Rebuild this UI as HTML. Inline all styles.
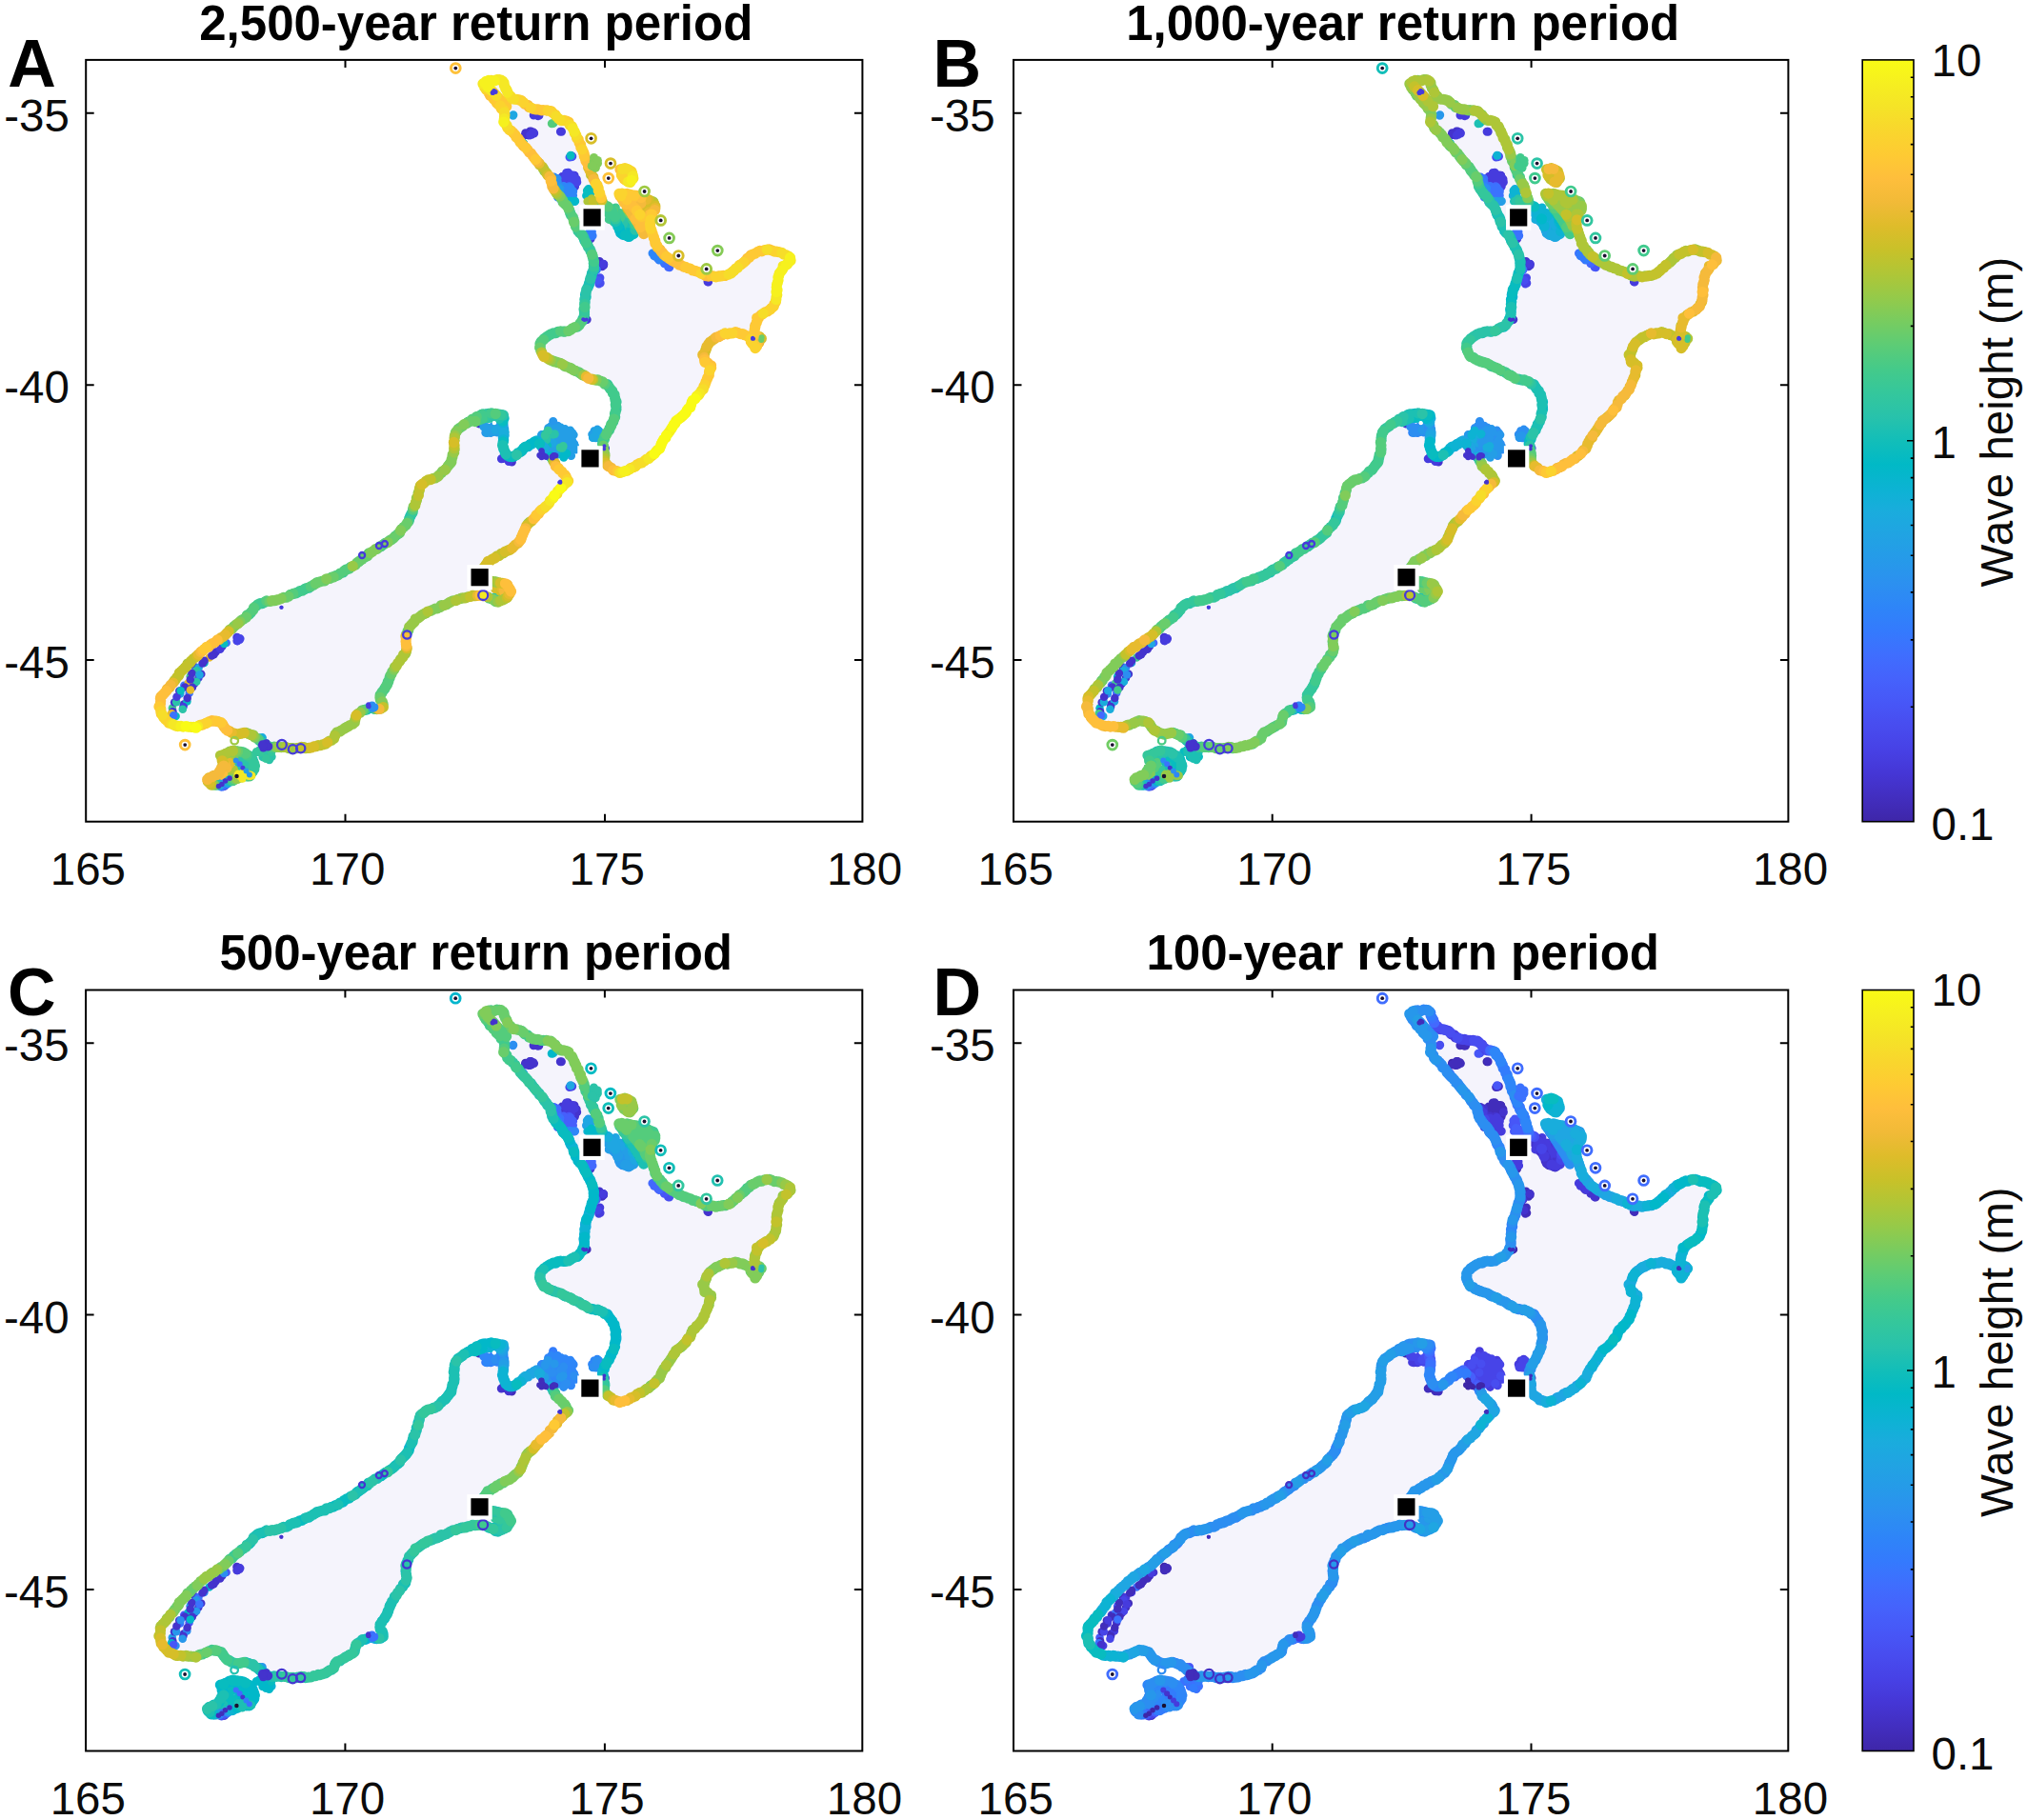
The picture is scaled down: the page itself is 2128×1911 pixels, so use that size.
<!DOCTYPE html>
<html lang="en"><head><meta charset="utf-8"><title>Tsunami wave height by return period - New Zealand</title>
<style>html,body{margin:0;padding:0;background:#fff}svg{display:block}.t{font-family:"Liberation Sans",Arial,Helvetica,sans-serif;font-size:47.5px;fill:#0b0b0b}.L{font-family:"Liberation Sans",Arial,Helvetica,sans-serif;font-size:70px;font-weight:bold;fill:#000}.T{font-family:"Liberation Sans",Arial,Helvetica,sans-serif;font-size:51px;font-weight:bold;fill:#000}</style></head><body>
<svg width="2128" height="1911" viewBox="0 0 2128 1911">
<rect width="2128" height="1911" fill="#fff"/>
<g id="panelA">
<path d="M506.8 88.5L511.0 85.3L517.2 84.5L527.5 83.7L531.2 93.4L536.4 103.0L546.8 105.3L557.2 113.4L569.1 115.6L579.5 117.1L586.9 125.3L597.3 128.2L601.7 135.7L606.2 144.6L610.6 155.0L613.6 163.9L616.6 172.8L621.0 183.1L625.5 192.0L629.2 200.9L631.4 208.4L633.0 214.0L640.0 218.0L645.0 226.0L648.0 236.0L652.0 245.0L660.0 249.0L666.0 244.0L667.0 236.0L663.0 226.0L658.0 216.0L653.0 208.0L650.5 203.0L660.0 204.0L672.0 207.0L685.0 211.0L689.0 217.0L685.0 224.0L682.4 234.9L685.3 246.8L689.8 258.6L697.2 267.5L707.6 275.0L719.5 280.9L731.3 285.3L743.2 289.8L755.1 290.5L765.5 288.3L772.9 282.4L780.3 275.0L787.7 269.0L796.6 263.8L807.0 262.3L817.4 264.6L827.8 269.0L830.6 273.2L826.5 277.0L822.7 279.7L819.5 285.0L817.7 289.6L815.7 299.5L815.2 309.3L814.7 317.3L809.8 324.2L801.9 329.1L795.0 334.1L792.5 344.0L792.0 350.9L799.6 355.1L792.8 365.5L786.0 353.0L772.9 349.1L761.0 350.6L750.6 355.1L742.5 362.5L738.3 372.9L739.5 379.5L747.1 384.3L743.6 395.0L740.0 404.3L735.0 412.9L727.9 420.0L723.6 428.6L717.1 436.4L708.6 443.6L703.6 452.1L697.1 461.4L692.9 470.0L685.7 477.1L677.1 483.6L668.6 488.6L660.0 492.9L652.1 496.4L645.7 494.5L640.5 491.0L635.5 486.0L634.3 474.0L632.8 462.8L637.3 455.4L641.7 446.5L645.4 437.6L646.9 428.7L646.2 419.8L643.2 410.9L637.3 403.5L628.4 399.5L619.5 397.5L610.6 393.1L600.2 387.2L589.8 382.7L579.4 378.2L570.5 373.8L566.1 366.4L567.5 359.0L575.0 352.3L585.3 348.6L597.2 347.1L607.0 342.6L612.5 334.5L613.5 326.3L614.0 316.0L616.0 304.6L620.1 292.8L624.0 281.5L622.5 269.5L617.0 258.0L611.5 247.5L605.0 238.0L601.0 227.7L595.8 217.3L588.4 206.9L580.5 197.5L578.0 187.5L570.6 177.2L561.7 166.8L552.8 156.4L543.9 146.1L535.0 135.7L528.5 128.0L530.5 118.5L523.1 109.0L514.2 98.6ZM529.0 436.2L527.5 446.0L529.0 456.9L527.5 467.3L531.9 478.5L539.3 480.0L546.8 473.2L555.7 467.3L563.1 462.8L570.0 470.0L578.0 478.0L582.9 487.9L588.6 494.3L594.3 500.7L597.1 504.8L590.0 511.4L583.6 518.6L577.9 526.4L572.1 532.9L565.7 538.6L560.7 544.3L554.3 549.3L551.4 555.7L548.6 562.1L545.0 568.6L540.0 574.3L532.9 578.6L525.7 582.1L518.6 585.7L512.1 590.0L508.6 594.3L508.0 600.0L512.0 610.0L521.1 611.4L531.5 612.9L536.5 620.3L532.0 628.0L522.6 632.2L514.5 628.0L507.7 625.0L497.3 625.5L486.9 627.7L476.6 630.7L466.2 635.1L455.8 639.6L445.4 644.0L436.5 650.0L430.6 657.4L427.0 665.5L426.0 672.5L427.1 683.6L421.4 692.1L414.3 700.7L409.3 710.0L407.1 718.6L402.1 725.7L398.6 732.1L401.4 738.6L402.5 742.5L397.0 745.2L389.3 743.5L381.4 745.7L374.3 750.7L372.9 757.1L367.1 762.1L360.0 765.7L352.9 770.0L350.0 775.7L344.3 780.0L337.1 782.1L330.0 783.6L322.9 785.7L316.6 784.9L306.2 786.0L294.3 783.9L282.4 784.4L273.5 778.4L266.1 772.5L257.2 769.5L246.8 771.0L237.9 766.6L232.0 759.1L223.1 756.2L214.2 760.6L205.3 763.6L194.9 762.8L184.5 762.1L175.6 757.7L169.7 750.2L167.4 741.3L168.9 732.4L174.1 725.0L181.5 717.6L187.5 708.7L194.9 699.8L203.8 690.9L214.2 682.0L224.6 674.6L235.0 667.2L243.9 659.7L252.8 652.3L261.7 644.9L269.1 636.0L278.0 631.5L288.4 630.8L300.2 627.1L310.6 622.6L321.0 618.2L332.9 612.3L344.7 607.8L355.1 603.4L365.5 597.4L375.9 590.5L384.6 583.5L394.9 576.5L403.9 571.3L412.8 565.4L420.2 558.0L427.6 549.1L432.0 540.2L435.0 531.3L438.7 520.9L440.9 510.5L446.9 505.3L457.3 501.6L466.2 494.2L473.6 485.3L476.6 474.9L476.6 464.5L478.0 454.1L485.5 446.7L495.8 440.8L506.2 434.8L516.6 434.1ZM243.9 788.8L232.0 793.3L235.0 803.6L229.0 812.5L217.2 818.5L223.1 824.4L235.0 824.4L241.0 820.0L248.3 817.5L255.0 815.0L261.7 815.5L267.6 806.6L266.1 797.7L258.7 791.8L251.0 789.0Z" fill="#f5f4fc"/>
<g fill="none" stroke-linecap="round" stroke-width="9"><path d="M554.5 139.9h.01M551.4 141.4h.01M551.7 139.7h.01M553.2 140.7h.01M554.7 141.9h.01M555.4 141.1h.01M557.5 138.1h.01M560.1 139.1h.01M558.6 138.6h.01M556.2 138.1h.01M603.4 194.9h.01M603.0 191.0h.01M620.0 250.9h.01M633.7 278.5h.01M633.8 277.4h.01M629.4 274.5h.01M632.5 278.1h.01M632.1 279.8h.01M616.2 335.6h.01M743.0 295.7h.01M634.1 469.9h.01M502.9 444.9h.01M502.3 444.1h.01M536.0 483.9h.01M537.4 485.0h.01" stroke="#4433cd"/><path d="M515.7 96.3h.01M565.0 121.8h.01M565.9 121.4h.01M560.2 121.1h.01M556.6 141.9h.01M560.7 140.0h.01M558.8 139.8h.01M558.2 141.3h.01M588.4 138.2h.01M589.5 138.2h.01M598.3 190.5h.01M603.1 184.6h.01M594.7 189.1h.01M604.6 189.7h.01M590.1 185.6h.01M600.1 186.4h.01M601.1 188.4h.01M599.2 191.8h.01M594.4 186.9h.01M593.0 192.6h.01M603.1 184.2h.01M593.5 184.9h.01M602.6 190.7h.01M604.5 187.7h.01M603.5 196.1h.01M602.8 189.2h.01M605.3 188.1h.01M619.1 250.9h.01M619.2 249.9h.01M622.8 198.9h.01M620.9 200.4h.01M633.5 277.2h.01M613.6 334.6h.01M614.8 335.9h.01M743.6 296.1h.01M674.9 236.1h.01M635.5 470.8h.01M526.4 481.8h.01M528.7 481.4h.01M528.7 479.5h.01M534.1 484.5h.01M250.0 670.2h.01M251.0 671.4h.01M248.9 672.8h.01M248.8 669.3h.01" stroke="#463bdd"/><path d="M515.8 96.8h.01M596.5 181.2h.01M599.6 194.4h.01M596.7 194.3h.01M593.4 185.8h.01M600.5 189.4h.01M603.4 187.3h.01M594.8 183.0h.01M604.6 188.7h.01M594.6 181.5h.01M590.2 188.7h.01M593.6 194.4h.01M596.4 181.4h.01M596.5 182.1h.01M601.0 184.0h.01M605.8 191.3h.01M666.1 222.5h.01M668.1 220.6h.01M251.6 671.5h.01M249.4 672.9h.01M252.1 670.6h.01M250.4 670.2h.01" stroke="#4744e8"/><path d="M600.8 164.2h.01M629.6 296.1h.01M630.2 297.3h.01M629.9 291.7h.01M628.8 298.0h.01M626.2 293.1h.01M674.4 236.5h.01" stroke="#484df0"/><path d="M599.6 164.8h.01M600.0 163.7h.01M598.0 165.1h.01M599.2 164.2h.01M627.6 294.4h.01" stroke="#4756f7"/><path d="M599.1 163.9h.01" stroke="#465ffb"/><path d="M702.8 280.8h.01M701.7 280.5h.01" stroke="#4369fe"/><path d="M616.7 246.2h.01M619.6 245.6h.01M624.6 284.6h.01M697.7 276.4h.01M697.5 276.8h.01M697.4 276.4h.01M253.4 805.0h.01M251.8 803.9h.01M252.7 804.2h.01" stroke="#3b72fe"/><path d="M593.3 197.2h.01M589.2 204.5h.01M586.8 198.3h.01M594.0 205.0h.01M600.7 199.9h.01M598.5 200.2h.01M595.4 209.6h.01M590.3 211.6h.01M592.1 197.4h.01M595.4 205.5h.01M589.4 199.6h.01M597.5 195.8h.01M592.2 200.3h.01M587.5 198.8h.01M600.4 201.9h.01M591.4 200.7h.01M588.7 198.1h.01M585.3 202.2h.01M619.1 248.0h.01M621.4 243.4h.01M621.1 245.5h.01M618.4 244.4h.01M617.1 247.9h.01M622.1 247.5h.01M626.4 283.2h.01M625.5 283.8h.01M691.9 273.0h.01M690.9 271.9h.01M250.1 806.1h.01" stroke="#327cfc"/><path d="M585.5 207.0h.01M601.6 205.3h.01M595.2 207.5h.01M590.2 210.5h.01M596.1 209.6h.01M589.1 201.5h.01M598.8 196.9h.01M591.6 195.5h.01M589.0 205.4h.01M600.7 203.3h.01M595.4 202.7h.01M597.7 204.4h.01M592.5 204.4h.01M600.9 204.4h.01M593.1 200.3h.01M591.7 197.9h.01M596.5 202.5h.01M601.7 200.9h.01M587.3 197.9h.01M588.6 208.7h.01M589.9 211.8h.01M583.4 187.5h.01M582.7 187.2h.01M581.1 187.2h.01M686.7 266.4h.01M685.0 266.0h.01M686.8 268.9h.01M692.8 272.5h.01M692.5 272.1h.01" stroke="#2e86f8"/><path d="M596.2 212.3h.01M585.1 187.6h.01M582.3 189.4h.01M584.6 191.2h.01M580.7 187.4h.01M585.3 191.0h.01M581.6 186.0h.01M581.6 448.0h.01" stroke="#2c8ef1"/><path d="M587.7 201.0h.01M586.4 196.6h.01M588.0 197.6h.01M581.5 188.0h.01M516.3 453.7h.01M517.2 447.9h.01M518.0 449.7h.01M515.2 454.6h.01M509.8 454.2h.01M517.4 453.6h.01M509.7 449.0h.01M517.6 453.2h.01M576.1 450.1h.01M598.6 454.2h.01M602.7 465.9h.01M576.5 464.2h.01M590.9 454.9h.01M583.4 457.3h.01M578.9 448.4h.01M586.4 471.7h.01M569.0 466.3h.01M570.7 458.6h.01M567.5 462.5h.01M592.6 461.0h.01M586.4 456.6h.01M569.5 468.1h.01M581.4 463.0h.01M569.1 456.4h.01M596.3 466.8h.01M576.9 468.4h.01M586.2 471.0h.01M582.3 459.9h.01M594.8 455.9h.01M587.9 473.7h.01M582.9 454.9h.01M600.5 470.5h.01M580.3 472.6h.01M582.1 472.1h.01M595.3 461.7h.01M588.3 476.0h.01M580.8 444.9h.01M578.6 447.4h.01M580.0 449.1h.01M584.4 449.5h.01M582.1 447.5h.01M584.7 449.1h.01M580.7 442.5h.01M579.2 447.9h.01M585.5 447.2h.01M596.7 467.5h.01M604.4 472.0h.01" stroke="#2797eb"/><path d="M583.5 197.4h.01M586.3 197.6h.01M586.7 200.8h.01M583.5 198.5h.01M586.8 198.4h.01M624.1 454.3h.01M622.7 459.6h.01M630.7 455.0h.01M627.3 454.9h.01M627.7 457.9h.01M628.1 459.9h.01M621.7 456.1h.01M627.1 451.1h.01M624.0 452.5h.01M629.9 456.9h.01M516.7 453.3h.01M510.8 448.4h.01M507.8 448.1h.01M517.9 453.5h.01M518.9 447.3h.01M511.4 454.6h.01M529.8 450.5h.01M523.5 448.2h.01M522.2 454.1h.01M523.1 449.9h.01M522.4 449.6h.01M524.4 450.1h.01M528.7 449.8h.01M521.9 451.7h.01M525.2 445.8h.01M575.8 461.7h.01M580.9 472.4h.01M600.9 454.7h.01M587.9 476.6h.01M568.5 456.8h.01M594.9 471.2h.01M585.4 462.9h.01M582.8 466.6h.01M581.5 461.2h.01M602.2 456.6h.01M591.7 458.7h.01M598.8 452.1h.01M589.5 475.1h.01M590.9 464.6h.01M583.4 454.2h.01M586.8 471.7h.01M582.9 456.1h.01M576.4 450.8h.01M574.2 472.3h.01M598.9 457.2h.01M600.9 471.5h.01M572.1 467.3h.01M576.8 458.0h.01M584.9 477.3h.01M585.3 455.1h.01M582.4 474.6h.01M588.5 462.8h.01M576.9 463.0h.01M587.8 451.7h.01M588.8 449.1h.01M587.6 475.0h.01M588.2 468.6h.01M573.4 467.2h.01M583.6 477.3h.01M572.3 458.1h.01M587.4 455.5h.01M595.3 465.4h.01M575.0 455.0h.01M599.6 470.6h.01M589.5 470.1h.01M593.2 450.6h.01M588.8 462.4h.01M568.5 463.9h.01M569.2 466.8h.01M594.0 464.9h.01M586.4 449.3h.01M567.2 466.7h.01M577.8 470.0h.01M596.7 465.5h.01M594.6 453.7h.01M572.7 472.6h.01M587.4 472.2h.01M589.4 469.2h.01M600.6 462.4h.01M590.6 457.5h.01M580.9 454.0h.01M584.6 465.2h.01M570.7 472.6h.01M595.5 459.3h.01M586.6 449.5h.01M579.8 471.9h.01M580.6 462.5h.01M577.7 467.8h.01M582.2 461.4h.01M582.4 455.1h.01M582.6 450.1h.01M582.0 476.3h.01M575.2 468.6h.01M585.8 466.2h.01M569.4 457.2h.01M575.7 449.5h.01M596.5 469.2h.01M598.6 475.6h.01M603.5 468.2h.01M599.6 478.5h.01M595.6 466.8h.01M597.0 476.6h.01M596.7 474.7h.01M602.7 468.6h.01M601.0 471.2h.01M598.7 476.5h.01M602.3 471.6h.01M598.8 468.5h.01" stroke="#249ee6"/><path d="M538.6 121.2h.01M538.9 120.8h.01M627.3 453.9h.01M625.5 459.8h.01M626.1 453.1h.01M628.9 452.6h.01M627.7 458.3h.01M625.2 457.4h.01M625.9 456.9h.01M622.4 459.4h.01M526.0 448.7h.01M523.7 450.5h.01M525.2 450.3h.01M526.9 453.9h.01M520.0 451.5h.01M580.3 465.0h.01" stroke="#1fa6e2"/><path d="M275.4 774.6h.01M273.8 775.2h.01M273.0 774.7h.01M274.3 776.4h.01" stroke="#19addc"/><path d="M602.8 211.6h.01M599.6 211.3h.01M593.4 476.3h.01M591.0 477.2h.01" stroke="#0db3d3"/><path d="M599.5 211.7h.01M597.4 211.2h.01M603.7 211.2h.01M617.8 198.5h.01M619.6 201.4h.01M615.6 205.4h.01M619.6 203.2h.01M651.1 240.4h.01M655.3 241.3h.01M594.9 476.2h.01M591.8 480.3h.01M592.9 475.7h.01" stroke="#01b8c9"/><path d="M549.7 150.7h.01M547.8 149.5h.01M599.1 163.2h.01M616.4 200.2h.01M619.6 199.9h.01M618.7 207.9h.01M619.0 201.8h.01M617.9 204.6h.01M619.1 200.2h.01M650.0 234.1h.01M656.1 234.1h.01M658.2 238.5h.01M653.9 236.0h.01M649.2 235.8h.01M651.6 242.5h.01M655.7 229.8h.01M658.8 239.4h.01M656.5 233.9h.01M651.9 240.1h.01M650.9 230.6h.01M653.0 243.9h.01M662.9 242.8h.01M650.2 235.5h.01M654.1 233.5h.01M657.7 245.1h.01M660.3 240.4h.01M651.2 244.0h.01M654.3 231.4h.01M663.6 233.7h.01M657.6 233.3h.01M656.1 243.4h.01M652.4 242.1h.01M658.3 244.4h.01M657.9 231.7h.01M659.5 245.0h.01M649.5 236.1h.01M663.1 236.5h.01M574.7 468.0h.01M572.4 463.3h.01M573.9 469.2h.01M571.9 468.8h.01M261.9 807.4h.01M239.1 814.1h.01M241.9 817.8h.01" stroke="#08bcbf"/><path d="M549.4 150.3h.01M663.3 233.7h.01M653.7 237.4h.01M653.7 243.2h.01M659.5 234.8h.01M655.8 232.8h.01M654.9 227.7h.01M654.3 224.3h.01M656.4 228.5h.01M649.0 232.0h.01M572.5 455.6h.01M283.3 794.3h.01M257.8 797.8h.01M259.5 804.6h.01M255.7 805.3h.01M257.4 800.2h.01M256.0 799.8h.01M256.6 800.5h.01M260.5 798.6h.01M251.1 799.2h.01M249.8 795.0h.01M241.9 816.9h.01M240.6 819.9h.01" stroke="#1cc0b3"/><path d="M645.1 228.2h.01M652.7 231.0h.01M654.7 234.8h.01M652.1 236.0h.01M644.9 229.2h.01M656.6 228.9h.01M645.9 230.2h.01M653.6 224.9h.01M652.5 225.7h.01M648.7 231.3h.01M652.3 234.4h.01M572.2 457.2h.01M580.4 456.3h.01M573.8 461.6h.01M582.3 455.8h.01M590.2 470.5h.01M522.5 627.3h.01M521.4 629.1h.01M521.8 627.4h.01M520.0 626.5h.01M522.9 624.8h.01M279.0 795.2h.01M283.6 791.6h.01M282.7 797.7h.01M277.2 793.6h.01M285.2 794.6h.01M278.4 790.0h.01M275.9 794.9h.01M283.4 793.6h.01M282.2 794.2h.01M272.7 787.5h.01M256.1 806.7h.01M253.3 801.4h.01M256.1 808.5h.01M258.6 807.4h.01M260.7 801.7h.01M259.2 806.8h.01M254.2 802.8h.01M256.8 798.6h.01M249.0 797.2h.01M248.2 797.8h.01M249.5 799.9h.01M248.1 797.9h.01M249.9 797.2h.01M252.1 803.6h.01M255.6 812.8h.01M254.9 810.1h.01M256.6 813.1h.01M254.9 813.7h.01M254.6 808.4h.01M258.7 811.3h.01" stroke="#2bc3a8"/><path d="M645.0 233.6h.01M642.2 224.4h.01M652.8 224.9h.01M575.3 452.3h.01M572.5 457.3h.01M588.2 470.0h.01M589.0 469.9h.01M591.2 468.5h.01M284.9 789.6h.01M279.4 796.6h.01M273.4 790.1h.01M269.3 789.5h.01M273.2 787.7h.01" stroke="#34c79b"/><path d="M581.0 129.4h.01M639.9 219.9h.01M644.8 230.7h.01M643.2 227.0h.01M650.9 223.6h.01M651.4 224.8h.01M639.3 220.5h.01M652.4 227.4h.01M647.7 230.5h.01M643.5 223.6h.01M638.9 223.8h.01M642.2 228.6h.01M643.6 232.5h.01M644.7 226.0h.01M648.8 231.5h.01M639.2 230.4h.01M652.8 224.4h.01M651.8 228.8h.01M648.9 224.3h.01M637.3 223.7h.01M652.2 223.9h.01M642.8 223.1h.01M645.5 227.0h.01M641.1 226.3h.01M640.5 222.1h.01M646.4 218.0h.01M642.4 228.6h.01" stroke="#41ca8c"/><path d="M579.3 129.8h.01M644.6 220.6h.01" stroke="#54cc7c"/><path d="M625.3 211.3h.01M624.9 211.1h.01M243.0 799.6h.01M244.5 794.7h.01M243.8 793.3h.01M238.5 794.8h.01M243.6 794.5h.01M245.9 796.5h.01M246.0 793.3h.01M239.5 798.4h.01M244.5 811.3h.01M241.2 810.5h.01M241.4 810.5h.01M245.9 809.3h.01" stroke="#98c947"/><path d="M616.9 211.4h.01M623.7 212.2h.01M624.1 211.9h.01M620.6 211.0h.01M629.3 212.6h.01M620.8 213.3h.01M618.4 211.3h.01M621.1 208.9h.01M625.0 213.3h.01M624.0 212.6h.01M621.2 208.8h.01M619.9 210.1h.01M242.3 799.2h.01M243.2 799.6h.01M242.1 808.0h.01M245.3 807.7h.01" stroke="#aec637"/><path d="M624.3 212.7h.01M622.1 211.5h.01M524.7 621.3h.01" stroke="#c3c22b"/><path d="M522.1 618.7h.01M519.7 618.5h.01M524.4 619.8h.01M521.3 618.6h.01" stroke="#d6be28"/><path d="M526.6 618.8h.01M240.4 800.0h.01M236.8 805.4h.01M235.3 800.5h.01M238.6 804.6h.01M238.9 804.2h.01M240.9 801.6h.01M241.3 802.9h.01M225.9 814.7h.01M224.1 817.8h.01M222.4 818.1h.01M224.8 817.6h.01M223.9 817.8h.01M227.6 814.5h.01M229.1 818.7h.01" stroke="#e7bb2e"/><path d="M528.6 621.8h.01M530.9 619.8h.01M528.2 617.9h.01M529.4 620.9h.01M235.2 799.8h.01M238.9 806.8h.01M237.6 803.3h.01M232.8 808.6h.01M229.8 812.7h.01M229.1 810.8h.01M231.1 813.8h.01M232.2 814.6h.01M235.3 810.0h.01M225.1 815.7h.01" stroke="#f5ba3b"/><path d="M234.9 813.5h.01M232.2 814.6h.01" stroke="#febf3b"/></g>
<g fill="none" stroke-linecap="round" stroke-width="8.5"><path d="M199.7 710.2h.01" stroke="#41ca8c"/><path d="M204.0 717.9h.01" stroke="#4433cd"/><path d="M205.1 700.6h.01" stroke="#463bdd"/><path d="M201.1 721.3h.01" stroke="#4433cd"/><path d="M211.3 707.7h.01" stroke="#4433cd"/><path d="M237.7 675.0h.01" stroke="#3b72fe"/><path d="M192.9 739.4h.01" stroke="#4433cd"/><path d="M180.9 743.5h.01" stroke="#41ca8c"/><path d="M226.7 684.4h.01" stroke="#4433cd"/><path d="M193.3 719.7h.01" stroke="#3b72fe"/><path d="M214.5 696.0h.01" stroke="#08bcbf"/><path d="M198.7 727.7h.01" stroke="#3b72fe"/><path d="M181.5 747.3h.01" stroke="#4433cd"/><path d="M208.6 701.0h.01" stroke="#1fa6e2"/><path d="M196.4 736.5h.01" stroke="#08bcbf"/><path d="M233.3 678.8h.01" stroke="#4433cd"/><path d="M180.0 749.3h.01" stroke="#e7bb2e"/><path d="M208.4 711.8h.01" stroke="#463bdd"/><path d="M184.6 752.1h.01" stroke="#08bcbf"/><path d="M183.1 737.4h.01" stroke="#4433cd"/><path d="M182.2 751.2h.01" stroke="#3b72fe"/><path d="M206.3 715.8h.01" stroke="#2bc3a8"/><path d="M192.5 741.9h.01" stroke="#463bdd"/><path d="M231.2 681.7h.01" stroke="#463bdd"/><path d="M189.2 728.5h.01" stroke="#1fa6e2"/><path d="M191.8 744.8h.01" stroke="#2bc3a8"/><path d="M206.0 704.3h.01" stroke="#2bc3a8"/><path d="M188.3 725.4h.01" stroke="#4433cd"/><path d="M224.6 687.3h.01" stroke="#4433cd"/><path d="M212.6 696.6h.01" stroke="#4433cd"/><path d="M219.7 690.5h.01" stroke="#e7bb2e"/><path d="M197.7 717.3h.01" stroke="#e7bb2e"/><path d="M201.4 707.1h.01" stroke="#4433cd"/><path d="M209.5 708.6h.01" stroke="#1fa6e2"/><path d="M196.7 733.1h.01" stroke="#4433cd"/><path d="M214.5 693.7h.01" stroke="#4433cd"/><path d="M201.9 721.8h.01" stroke="#4433cd"/><path d="M235.3 676.0h.01" stroke="#08bcbf"/><path d="M222.3 688.6h.01" stroke="#4433cd"/><path d="M185.2 737.3h.01" stroke="#2bc3a8"/><path d="M194.1 721.5h.01" stroke="#4433cd"/><path d="M199.8 713.4h.01" stroke="#4433cd"/><path d="M199.9 724.5h.01" stroke="#e7bb2e"/><path d="M185.5 731.7h.01" stroke="#463bdd"/><path d="M189.7 725.3h.01" stroke="#08bcbf"/></g>
<g fill="none" stroke-linecap="round" stroke-width="11.3"><path d="M234.8 824.6h.01" stroke="#463bdd"/><path d="M232.7 825.0h.01M236.7 823.0h.01" stroke="#3b72fe"/><path d="M528.0 446.8h.01M528.3 452.0h.01M572.6 472.5h.01M573.5 473.6h.01M576.2 476.4h.01" stroke="#249ee6"/><path d="M527.7 448.6h.01M568.3 468.3h.01M577.9 478.1h.01M230.1 824.0h.01M239.4 821.3h.01" stroke="#1fa6e2"/><path d="M529.1 453.9h.01M529.1 457.0h.01M528.4 459.7h.01M564.9 464.4h.01M570.8 469.9h.01M390.5 743.4h.01M388.3 743.4h.01" stroke="#19addc"/><path d="M654.0 246.3h.01M658.8 247.8h.01M527.9 443.6h.01M528.6 461.9h.01M554.3 468.7h.01M563.4 462.8h.01" stroke="#0db3d3"/><path d="M650.1 239.6h.01M650.7 242.3h.01M651.7 244.5h.01M660.2 248.4h.01M540.1 478.8h.01M548.2 473.1h.01M549.7 470.7h.01M557.0 466.3h.01M558.3 466.0h.01M560.7 464.2h.01M578.5 479.8h.01" stroke="#01b8c9"/><path d="M647.4 234.6h.01M648.7 237.6h.01M656.6 246.8h.01M662.1 247.0h.01M665.0 245.6h.01M666.3 242.8h.01M614.6 309.4h.01M618.2 299.3h.01M529.0 439.2h.01M527.7 441.7h.01M528.2 464.2h.01M528.9 471.6h.01M530.1 474.4h.01M533.2 478.5h.01M534.7 479.3h.01M537.8 479.5h.01M544.0 475.6h.01M546.3 474.4h.01M551.7 469.1h.01M566.5 466.1h.01M385.1 744.9h.01M273.4 778.1h.01M430.8 542.1h.01M526.5 440.0h.01" stroke="#08bcbf"/><path d="M646.4 232.5h.01M615.1 311.7h.01M617.0 302.0h.01M618.6 297.4h.01M619.4 294.7h.01M621.0 289.4h.01M621.5 286.9h.01M622.8 284.3h.01M613.3 250.5h.01M527.6 467.6h.01M528.3 469.6h.01M531.1 476.8h.01M241.5 819.4h.01M521.5 438.5h.01M524.0 439.3h.01" stroke="#1cc0b3"/><path d="M633.3 214.5h.01M666.9 241.2h.01M666.6 238.0h.01M612.0 334.7h.01M613.0 333.0h.01M613.5 327.3h.01M614.1 316.9h.01M613.9 314.6h.01M615.2 307.1h.01M615.7 304.3h.01M619.9 292.5h.01M623.5 282.4h.01M623.3 276.6h.01M616.7 257.2h.01M614.1 252.9h.01M528.4 435.9h.01M542.4 477.6h.01M279.9 782.8h.01M278.2 781.1h.01M275.9 780.1h.01M324.1 617.2h.01M429.7 544.4h.01M432.0 539.5h.01M512.7 434.5h.01M527.6 435.8h.01M227.2 824.0h.01M262.7 814.3h.01M264.5 811.0h.01M265.9 799.7h.01M265.1 797.5h.01M511.2 438.4h.01M513.8 438.3h.01M516.4 438.2h.01M519.0 438.0h.01" stroke="#2bc3a8"/><path d="M635.5 216.2h.01M640.2 218.9h.01M646.0 229.9h.01M665.8 232.9h.01M646.9 429.8h.01M646.9 427.4h.01M647.0 422.0h.01M637.7 403.7h.01M571.7 355.3h.01M613.5 330.2h.01M613.1 324.7h.01M613.7 319.6h.01M623.4 279.9h.01M620.2 264.1h.01M619.4 262.0h.01M617.7 259.6h.01M612.4 248.7h.01M608.7 244.4h.01M607.0 242.4h.01M407.2 716.6h.01M393.4 744.4h.01M282.4 784.0h.01M272.5 777.4h.01M273.0 633.7h.01M275.5 633.5h.01M312.3 622.1h.01M319.7 618.7h.01M360.2 600.9h.01M433.1 538.0h.01M502.4 437.1h.01M507.0 434.9h.01M509.6 434.8h.01M517.7 434.3h.01M522.8 434.9h.01M525.6 435.5h.01M265.4 809.7h.01M266.8 807.6h.01M267.4 804.3h.01M266.9 802.6h.01M263.4 795.6h.01M261.8 793.7h.01M508.7 438.6h.01" stroke="#34c79b"/><path d="M641.6 220.7h.01M642.9 222.4h.01M643.8 225.4h.01M645.7 227.5h.01M667.4 235.9h.01M664.5 230.4h.01M664.0 228.2h.01M662.3 225.6h.01M632.6 466.1h.01M633.0 463.3h.01M634.4 461.3h.01M634.7 458.9h.01M639.5 451.6h.01M640.1 449.8h.01M641.8 445.4h.01M643.7 442.8h.01M645.6 437.7h.01M645.5 434.6h.01M646.0 432.9h.01M646.3 425.1h.01M645.9 419.4h.01M645.6 417.8h.01M645.0 414.6h.01M643.4 412.8h.01M642.7 410.6h.01M640.9 408.4h.01M639.2 406.3h.01M568.2 358.7h.01M574.2 353.5h.01M576.5 352.0h.01M578.2 350.9h.01M580.7 349.9h.01M583.8 349.6h.01M585.7 348.3h.01M591.8 348.1h.01M606.1 343.1h.01M611.2 337.1h.01M614.0 322.5h.01M623.5 274.6h.01M622.8 271.9h.01M622.2 269.4h.01M615.3 254.9h.01M611.0 246.5h.01M606.3 239.4h.01M599.5 225.7h.01M598.6 223.6h.01M580.1 481.9h.01M515.4 628.6h.01M513.5 627.9h.01M403.6 723.5h.01M401.6 726.2h.01M382.8 745.5h.01M285.5 784.7h.01M261.7 645.1h.01M263.4 643.2h.01M268.7 636.4h.01M270.4 634.9h.01M277.9 632.2h.01M310.2 622.9h.01M314.7 620.7h.01M317.2 620.2h.01M321.7 617.6h.01M352.3 604.7h.01M363.8 597.8h.01M368.2 595.5h.01M400.2 573.6h.01M404.9 570.1h.01M429.1 547.2h.01M491.5 443.2h.01M498.6 439.4h.01M505.4 435.5h.01M515.8 433.8h.01M244.2 819.7h.01M253.6 815.6h.01M255.5 814.6h.01M259.0 814.9h.01M259.3 792.9h.01M255.3 789.9h.01M501.4 441.5h.01M503.8 440.6h.01M506.2 439.6h.01" stroke="#41ca8c"/><path d="M638.0 216.9h.01M636.5 456.3h.01M637.2 454.4h.01M641.7 446.9h.01M644.6 440.1h.01M634.9 403.2h.01M609.2 391.9h.01M580.9 379.2h.01M567.2 363.2h.01M567.0 361.1h.01M570.4 356.8h.01M588.6 347.8h.01M593.3 348.1h.01M607.9 341.4h.01M609.1 339.6h.01M621.6 267.3h.01M604.5 237.8h.01M603.7 234.6h.01M602.1 230.5h.01M601.4 228.2h.01M597.6 220.5h.01M593.6 214.6h.01M590.7 210.3h.01M409.6 710.1h.01M409.1 711.7h.01M407.9 715.0h.01M406.4 719.0h.01M405.1 721.1h.01M400.6 727.8h.01M399.2 729.8h.01M287.9 784.1h.01M270.4 775.6h.01M259.4 646.0h.01M265.6 640.5h.01M266.5 638.2h.01M279.9 630.9h.01M304.8 624.5h.01M307.7 623.5h.01M326.4 615.7h.01M329.1 614.2h.01M332.9 611.7h.01M348.1 606.2h.01M355.0 603.8h.01M356.9 602.2h.01M361.6 599.2h.01M366.7 597.0h.01M376.7 589.7h.01M380.8 586.7h.01M383.0 585.0h.01M387.2 581.0h.01M398.9 574.0h.01M402.8 571.6h.01M408.9 567.7h.01M415.2 562.8h.01M417.7 560.8h.01M433.5 535.1h.01M496.0 440.1h.01M500.2 437.7h.01M520.2 434.5h.01M261.7 814.9h.01M257.7 791.2h.01M252.4 789.5h.01" stroke="#54cc7c"/><path d="M632.2 212.0h.01M661.2 224.1h.01M633.4 471.2h.01M633.4 468.2h.01M632.7 401.0h.01M630.5 400.1h.01M627.8 398.9h.01M607.1 390.6h.01M604.3 389.5h.01M599.8 386.9h.01M592.6 384.2h.01M567.6 367.6h.01M566.7 365.2h.01M596.9 347.6h.01M599.1 346.3h.01M600.7 344.9h.01M603.4 343.6h.01M602.5 233.1h.01M596.4 217.9h.01M595.0 215.8h.01M591.4 212.4h.01M588.9 207.7h.01M520.3 631.5h.01M428.8 661.5h.01M428.1 662.8h.01M426.7 665.9h.01M411.8 705.4h.01M410.9 707.8h.01M399.0 732.5h.01M399.4 734.8h.01M402.1 739.5h.01M380.4 745.8h.01M245.6 657.8h.01M253.6 651.2h.01M256.1 649.8h.01M258.4 648.2h.01M283.1 631.4h.01M288.0 630.7h.01M297.7 627.3h.01M300.8 627.2h.01M302.8 626.3h.01M331.4 612.7h.01M335.9 610.8h.01M338.8 610.1h.01M341.0 609.8h.01M346.1 607.4h.01M350.1 605.9h.01M373.2 592.9h.01M374.8 590.9h.01M379.2 587.8h.01M385.7 583.7h.01M395.9 576.3h.01M411.1 566.5h.01M413.1 564.9h.01M419.5 559.4h.01M421.9 555.3h.01M424.0 553.3h.01M426.0 551.4h.01M427.5 549.3h.01M472.2 487.0h.01M478.4 454.3h.01M481.1 450.4h.01M483.1 449.1h.01M485.4 447.5h.01M489.8 444.4h.01M493.9 442.3h.01M246.7 818.3h.01M249.5 789.0h.01M499.0 442.5h.01" stroke="#69cd6b"/><path d="M634.7 476.2h.01M633.9 473.2h.01M626.0 399.2h.01M611.5 393.8h.01M602.0 388.6h.01M598.0 386.2h.01M594.6 384.9h.01M588.4 381.5h.01M585.0 380.5h.01M582.7 379.9h.01M587.6 205.9h.01M520.6 611.0h.01M517.8 629.4h.01M475.5 630.8h.01M471.6 632.8h.01M469.1 634.5h.01M463.3 635.6h.01M462.0 637.5h.01M459.2 638.8h.01M457.0 639.1h.01M454.2 640.3h.01M452.2 641.3h.01M447.3 643.7h.01M443.3 645.6h.01M433.5 654.2h.01M413.8 703.1h.01M401.3 737.0h.01M363.6 763.7h.01M290.5 784.4h.01M267.3 773.9h.01M243.6 660.3h.01M247.7 656.0h.01M251.9 652.8h.01M285.7 630.7h.01M290.6 630.0h.01M292.3 629.6h.01M295.1 628.6h.01M342.7 607.8h.01M389.0 580.6h.01M391.3 579.0h.01M394.1 576.7h.01M407.0 569.6h.01M420.6 556.9h.01M434.2 532.1h.01M460.9 498.9h.01M463.4 496.4h.01M464.5 495.0h.01M468.4 492.0h.01M470.4 489.3h.01M473.8 485.2h.01M474.1 482.7h.01M474.9 479.8h.01M475.2 477.5h.01M479.3 452.9h.01M487.1 445.7h.01M224.6 824.2h.01M251.6 816.0h.01M247.3 788.7h.01" stroke="#81cc59"/><path d="M660.9 221.8h.01M685.7 211.9h.01M634.9 478.5h.01M613.2 394.0h.01M590.5 382.6h.01M578.3 378.2h.01M585.2 203.9h.01M571.8 179.4h.01M570.7 177.5h.01M554.5 549.7h.01M513.1 610.6h.01M515.5 610.2h.01M518.1 610.6h.01M529.6 628.9h.01M522.9 632.1h.01M491.0 626.8h.01M485.8 628.0h.01M483.6 628.5h.01M480.7 629.3h.01M473.0 632.1h.01M466.2 635.6h.01M445.4 644.4h.01M440.6 647.7h.01M438.9 649.1h.01M436.3 649.8h.01M435.0 652.9h.01M431.4 656.4h.01M429.7 658.2h.01M425.7 686.3h.01M420.8 692.1h.01M414.5 700.5h.01M395.7 744.6h.01M378.0 748.2h.01M375.8 749.4h.01M372.7 756.2h.01M372.3 758.4h.01M370.3 760.2h.01M367.3 761.6h.01M365.9 762.6h.01M361.5 765.0h.01M358.3 766.9h.01M356.9 768.0h.01M353.9 768.8h.01M352.3 770.7h.01M311.5 785.7h.01M307.9 785.6h.01M305.7 785.6h.01M303.5 785.7h.01M298.7 784.4h.01M295.3 784.6h.01M292.8 784.3h.01M265.8 771.8h.01M261.0 770.4h.01M258.0 769.4h.01M241.3 661.2h.01M249.8 654.7h.01M370.3 594.4h.01M437.4 525.2h.01M437.4 523.0h.01M439.1 517.9h.01M454.9 502.3h.01M456.9 501.9h.01M459.4 500.6h.01M467.2 493.4h.01M476.7 475.1h.01M477.0 472.3h.01M477.4 457.4h.01M241.1 789.2h.01M239.0 790.6h.01M249.0 817.4h.01M244.3 788.4h.01" stroke="#98c947"/><path d="M634.6 481.2h.01M622.7 398.5h.01M575.9 377.1h.01M568.6 370.1h.01M583.9 202.3h.01M581.0 484.2h.01M556.3 548.1h.01M528.4 580.8h.01M507.9 596.0h.01M508.6 600.9h.01M509.3 603.5h.01M509.8 605.5h.01M523.1 611.6h.01M527.5 630.1h.01M525.7 630.7h.01M511.8 626.8h.01M488.7 627.8h.01M478.7 630.6h.01M449.1 642.1h.01M426.5 683.4h.01M423.6 687.5h.01M422.9 690.1h.01M419.6 694.2h.01M417.8 696.3h.01M416.3 698.9h.01M373.5 753.1h.01M351.5 772.7h.01M350.5 775.5h.01M348.1 777.3h.01M345.9 778.1h.01M341.9 781.0h.01M320.8 785.7h.01M319.2 784.7h.01M313.3 785.3h.01M300.4 784.7h.01M263.8 771.7h.01M183.9 713.9h.01M194.3 701.1h.01M197.2 696.8h.01M199.3 695.9h.01M435.8 530.4h.01M436.5 527.4h.01M440.2 515.0h.01M476.8 470.7h.01M477.1 462.2h.01M477.1 460.0h.01M244.3 788.5h.01M236.7 791.4h.01M234.7 792.5h.01M231.5 793.3h.01M232.9 795.9h.01M678.9 212.8h.01" stroke="#aec637"/><path d="M620.6 183.5h.01M658.9 219.2h.01M683.1 210.9h.01M686.4 213.4h.01M739.7 370.8h.01M634.7 483.8h.01M574.1 375.5h.01M582.4 199.7h.01M573.8 181.7h.01M569.3 175.2h.01M566.6 173.0h.01M533.3 578.0h.01M526.0 581.5h.01M523.9 583.5h.01M521.7 583.9h.01M517.3 586.8h.01M510.7 592.2h.01M511.9 608.5h.01M532.3 627.6h.01M498.9 625.7h.01M496.4 625.2h.01M493.7 626.4h.01M402.3 742.6h.01M399.9 744.1h.01M338.5 781.9h.01M336.1 782.7h.01M334.1 782.6h.01M331.7 783.7h.01M324.0 785.4h.01M316.5 784.4h.01M252.9 770.2h.01M248.5 771.1h.01M183.0 715.0h.01M186.0 710.9h.01M187.7 709.2h.01M188.4 706.5h.01M190.2 705.1h.01M192.0 703.3h.01M195.8 699.5h.01M200.7 694.0h.01M203.2 691.6h.01M205.3 689.9h.01M238.2 664.8h.01M439.3 520.3h.01M440.5 512.8h.01M441.4 510.0h.01M444.9 507.3h.01M447.2 505.2h.01M449.3 503.9h.01M452.1 503.5h.01M477.0 467.8h.01M218.3 820.4h.01M221.7 824.0h.01M674.9 215.1h.01M679.1 218.1h.01M674.0 211.0h.01M676.4 211.9h.01M681.3 213.7h.01" stroke="#c3c22b"/><path d="M617.7 175.8h.01M622.8 185.9h.01M631.7 210.2h.01M657.3 214.0h.01M680.7 209.7h.01M687.8 216.3h.01M797.6 353.7h.01M799.3 355.5h.01M797.9 357.0h.01M741.6 365.7h.01M740.9 367.5h.01M635.5 486.1h.01M621.1 398.2h.01M571.0 374.5h.01M570.0 372.9h.01M575.1 184.1h.01M558.2 547.0h.01M552.8 551.9h.01M535.4 577.2h.01M530.2 579.2h.01M519.5 586.0h.01M514.6 588.8h.01M512.3 589.5h.01M509.6 594.0h.01M525.4 612.2h.01M527.8 612.5h.01M533.5 625.5h.01M426.0 668.1h.01M427.2 680.7h.01M374.1 750.9h.01M343.7 779.6h.01M329.4 783.9h.01M326.9 784.9h.01M256.2 769.5h.01M250.3 770.8h.01M246.0 770.2h.01M207.3 688.4h.01M240.0 662.9h.01M442.9 508.7h.01M476.4 464.5h.01M233.3 798.9h.01M234.6 801.2h.01M233.0 805.6h.01M219.9 822.0h.01M677.0 216.6h.01M680.2 220.5h.01" stroke="#d6be28"/><path d="M619.2 179.0h.01M620.5 180.9h.01M658.0 216.1h.01M676.4 207.7h.01M678.4 209.4h.01M687.8 218.7h.01M796.7 359.7h.01M750.1 355.7h.01M748.1 357.3h.01M745.5 359.1h.01M744.0 361.0h.01M742.1 363.7h.01M737.8 372.5h.01M637.8 488.7h.01M615.5 395.4h.01M566.0 171.4h.01M582.7 486.6h.01M547.3 564.4h.01M543.8 570.3h.01M541.1 572.1h.01M539.2 574.0h.01M537.8 575.4h.01M507.9 598.5h.01M534.9 623.4h.01M501.4 625.3h.01M243.1 769.3h.01M240.7 767.6h.01M229.0 757.7h.01M178.0 721.7h.01M181.7 717.1h.01M208.5 687.1h.01M230.1 671.4h.01M231.9 669.7h.01M234.2 668.5h.01M236.4 666.7h.01M224.5 814.3h.01M219.6 816.6h.01M661.3 221.0h.01M681.4 222.8h.01" stroke="#e7bb2e"/><path d="M555.5 112.4h.01M614.3 165.8h.01M616.6 171.2h.01M623.1 188.3h.01M624.4 190.6h.01M653.7 209.4h.01M687.4 220.7h.01M685.5 222.7h.01M692.8 262.1h.01M697.0 267.5h.01M792.8 341.9h.01M794.8 352.9h.01M795.7 361.0h.01M758.5 351.5h.01M754.4 353.7h.01M752.0 354.1h.01M739.3 375.4h.01M641.4 491.1h.01M639.0 489.7h.01M617.8 397.3h.01M581.0 197.9h.01M579.8 195.8h.01M579.4 193.1h.01M578.5 187.5h.01M577.0 185.5h.01M564.0 169.6h.01M550.0 153.4h.01M520.3 105.4h.01M551.7 554.8h.01M549.3 559.7h.01M545.0 568.7h.01M532.6 614.0h.01M508.4 625.3h.01M506.5 625.5h.01M426.7 678.5h.01M398.0 744.4h.01M235.2 763.2h.01M169.0 731.5h.01M175.5 723.5h.01M179.1 719.4h.01M210.9 684.4h.01M234.9 804.1h.01M232.3 807.3h.01M230.8 809.6h.01M229.7 812.3h.01M227.2 813.7h.01M222.9 815.5h.01M217.7 818.4h.01M651.0 206.0h.01M652.6 208.1h.01M654.1 210.2h.01M655.7 212.2h.01M658.6 216.5h.01M660.0 218.7h.01M662.7 223.2h.01M664.1 225.4h.01M665.5 227.6h.01M668.2 232.0h.01M669.6 234.2h.01M671.0 236.4h.01M673.5 240.9h.01M674.6 243.3h.01M675.8 245.6h.01M670.2 223.2h.01M676.3 231.6h.01M679.4 238.7h.01M666.2 209.4h.01M668.4 210.8h.01M670.6 212.1h.01M672.8 213.6h.01" stroke="#f5ba3b"/><path d="M551.0 109.2h.01M554.0 110.3h.01M568.4 115.8h.01M573.7 115.8h.01M612.3 159.6h.01M615.0 169.1h.01M617.5 173.6h.01M655.1 212.6h.01M653.1 207.6h.01M668.2 205.5h.01M670.6 206.1h.01M673.0 207.4h.01M684.7 227.7h.01M686.5 250.1h.01M687.9 255.5h.01M690.3 259.8h.01M694.2 264.2h.01M695.4 265.2h.01M704.1 272.6h.01M705.9 273.8h.01M708.3 274.9h.01M709.9 276.1h.01M713.0 278.1h.01M715.0 278.5h.01M717.7 280.0h.01M731.8 285.1h.01M739.6 288.8h.01M741.3 289.7h.01M743.8 290.0h.01M754.5 289.9h.01M782.9 273.4h.01M784.6 271.2h.01M788.2 268.0h.01M807.5 262.0h.01M799.0 330.7h.01M797.0 333.0h.01M774.4 349.3h.01M756.3 352.4h.01M739.7 377.7h.01M743.0 380.9h.01M744.4 382.6h.01M746.5 383.8h.01M646.3 494.3h.01M643.9 493.8h.01M578.3 190.2h.01M560.7 165.4h.01M558.9 163.3h.01M557.4 160.9h.01M555.7 159.9h.01M553.8 157.3h.01M548.7 152.0h.01M545.5 147.7h.01M544.0 145.5h.01M538.6 139.3h.01M523.4 109.7h.01M514.5 100.2h.01M513.3 97.7h.01M512.5 95.9h.01M583.4 489.6h.01M586.1 491.5h.01M594.0 500.2h.01M566.8 537.1h.01M565.3 539.5h.01M562.0 543.0h.01M560.3 544.7h.01M550.7 557.1h.01M548.5 562.1h.01M546.8 566.4h.01M530.5 612.8h.01M533.8 616.5h.01M535.2 618.5h.01M536.5 621.1h.01M504.1 625.2h.01M426.4 670.5h.01M426.1 673.5h.01M426.4 676.6h.01M238.7 767.1h.01M237.3 765.7h.01M233.7 760.6h.01M225.0 757.1h.01M222.5 756.6h.01M219.8 757.7h.01M215.6 759.7h.01M168.4 739.0h.01M168.6 735.9h.01M168.4 733.6h.01M171.3 729.2h.01M173.1 727.3h.01M174.6 725.5h.01M212.7 683.3h.01M219.0 679.2h.01M221.3 676.8h.01M223.0 675.6h.01M225.4 674.6h.01M228.1 672.0h.01M524.5 104.2h.01M528.0 108.0h.01M529.9 109.9h.01M657.2 214.3h.01M666.9 229.8h.01M672.3 238.6h.01M656.0 208.0h.01M659.7 211.7h.01M661.5 213.5h.01M663.3 215.4h.01M665.0 217.3h.01M666.8 219.3h.01M674.8 229.5h.01M677.3 234.0h.01M678.4 236.4h.01M664.0 208.0h.01M682.6 225.1h.01M651.0 178.0h.01" stroke="#febf3b"/><path d="M547.5 105.7h.01M559.8 114.3h.01M562.8 114.9h.01M565.0 114.9h.01M570.3 115.7h.01M578.4 116.6h.01M582.7 120.3h.01M594.9 127.1h.01M596.9 128.1h.01M607.2 146.5h.01M608.2 149.9h.01M609.6 151.9h.01M609.8 154.4h.01M613.2 161.8h.01M613.3 163.9h.01M627.0 194.6h.01M629.9 204.2h.01M631.1 207.7h.01M655.7 204.1h.01M658.3 203.5h.01M660.3 203.8h.01M663.1 204.6h.01M666.2 205.2h.01M684.3 225.1h.01M682.3 232.6h.01M682.5 237.5h.01M684.1 242.5h.01M685.1 245.4h.01M686.0 248.3h.01M687.8 252.9h.01M689.7 257.9h.01M699.6 269.4h.01M701.8 270.9h.01M719.9 280.5h.01M722.4 281.7h.01M724.7 282.2h.01M727.2 283.9h.01M729.7 284.4h.01M734.8 286.1h.01M747.2 289.6h.01M749.7 290.2h.01M759.2 289.4h.01M761.5 289.3h.01M768.8 285.5h.01M778.3 277.4h.01M786.7 270.2h.01M790.7 267.0h.01M792.7 266.2h.01M795.4 264.4h.01M797.6 263.5h.01M799.8 263.8h.01M802.7 262.6h.01M810.1 262.8h.01M817.8 264.7h.01M813.0 319.3h.01M810.2 323.3h.01M805.6 326.9h.01M803.7 327.6h.01M794.7 333.8h.01M794.9 336.8h.01M794.3 338.6h.01M792.7 343.7h.01M792.2 346.3h.01M791.9 348.9h.01M793.2 350.8h.01M794.5 363.4h.01M791.9 363.0h.01M788.3 358.5h.01M786.0 353.6h.01M784.8 353.0h.01M781.7 351.7h.01M779.8 350.6h.01M777.2 350.6h.01M772.1 348.7h.01M766.0 350.0h.01M763.8 350.8h.01M740.0 380.3h.01M746.6 386.2h.01M744.5 391.1h.01M744.3 394.0h.01M742.9 396.5h.01M742.3 398.3h.01M741.1 401.0h.01M738.9 405.9h.01M648.4 494.9h.01M562.3 167.4h.01M552.0 155.1h.01M546.3 149.6h.01M541.9 144.1h.01M540.7 141.6h.01M536.3 137.1h.01M526.3 114.1h.01M521.4 107.9h.01M518.3 103.9h.01M516.8 101.3h.01M587.0 492.9h.01M589.6 495.1h.01M590.8 496.7h.01M592.8 498.4h.01M563.1 540.7h.01M232.2 758.7h.01M227.0 757.1h.01M212.5 761.0h.01M169.3 749.4h.01M168.7 744.2h.01M167.0 741.9h.01M214.6 681.4h.01M216.7 679.5h.01M517.5 96.5h.01M522.8 102.3h.01M526.2 106.2h.01M531.7 111.7h.01M657.8 209.8h.01M668.5 221.2h.01M673.3 227.4h.01M655.2 188.1h.01M653.8 186.0h.01M653.7 183.0h.01M656.3 183.0h.01" stroke="#fec934"/><path d="M534.4 99.8h.01M537.3 103.5h.01M542.8 104.4h.01M545.3 105.0h.01M549.4 107.6h.01M557.4 113.1h.01M575.3 116.2h.01M579.8 118.0h.01M589.7 126.4h.01M592.1 126.4h.01M603.3 139.4h.01M605.6 145.0h.01M611.1 156.8h.01M625.6 193.1h.01M628.2 197.8h.01M628.3 200.2h.01M629.4 202.3h.01M651.8 205.7h.01M650.0 203.4h.01M653.0 203.1h.01M683.2 230.8h.01M682.5 235.3h.01M683.2 240.2h.01M736.2 287.3h.01M751.6 290.8h.01M757.0 289.9h.01M772.7 281.8h.01M776.3 278.4h.01M780.8 275.4h.01M813.0 264.1h.01M815.4 264.2h.01M814.4 316.7h.01M812.1 321.8h.01M808.6 324.9h.01M792.9 365.6h.01M789.8 360.8h.01M788.1 356.1h.01M768.8 349.9h.01M761.1 350.0h.01M745.0 388.8h.01M740.0 404.2h.01M683.2 479.0h.01M671.6 486.3h.01M669.2 487.6h.01M664.7 490.7h.01M662.3 491.5h.01M534.6 136.3h.01M532.8 134.2h.01M529.9 120.6h.01M528.7 115.2h.01M525.1 111.0h.01M510.3 93.9h.01M595.4 503.3h.01M596.6 504.9h.01M571.2 533.6h.01M568.5 535.2h.01M217.3 758.9h.01M209.9 761.4h.01M177.1 759.1h.01M175.4 757.1h.01M173.8 755.4h.01M171.7 753.3h.01M168.8 746.8h.01M519.3 98.4h.01M671.7 225.3h.01M656.0 176.7h.01M660.6 178.6h.01M662.9 179.9h.01M657.4 189.6h.01M652.4 183.7h.01" stroke="#fbd32e"/><path d="M515.6 84.3h.01M531.9 94.5h.01M536.2 101.2h.01M539.4 104.0h.01M583.9 122.1h.01M586.1 124.3h.01M588.1 125.9h.01M598.2 131.2h.01M600.2 132.6h.01M604.8 141.9h.01M765.1 288.0h.01M767.4 287.0h.01M770.8 283.9h.01M774.5 281.0h.01M805.2 262.1h.01M820.9 265.4h.01M822.8 267.0h.01M824.9 267.6h.01M827.4 268.8h.01M801.2 329.2h.01M738.2 408.8h.01M736.7 410.1h.01M733.2 415.0h.01M684.4 478.4h.01M678.9 482.1h.01M676.9 483.7h.01M674.2 485.8h.01M667.0 489.7h.01M658.2 494.2h.01M650.7 496.4h.01M531.9 131.4h.01M530.3 129.4h.01M529.6 123.1h.01M529.3 117.9h.01M508.7 91.5h.01M507.7 88.9h.01M584.8 518.5h.01M576.6 528.3h.01M575.0 529.9h.01M572.9 531.7h.01M184.5 762.1h.01M180.4 759.9h.01M170.7 750.8h.01M521.0 100.3h.01M653.5 177.4h.01M658.4 177.3h.01M663.7 182.4h.01M664.8 187.3h.01" stroke="#f6dd29"/><path d="M507.0 88.0h.01M521.8 83.6h.01M524.3 83.7h.01M526.2 84.2h.01M527.7 85.2h.01M529.0 87.0h.01M529.4 89.6h.01M530.6 92.5h.01M532.9 97.1h.01M601.3 134.8h.01M603.0 138.1h.01M830.0 273.4h.01M826.7 277.2h.01M822.2 279.3h.01M821.9 282.2h.01M818.3 286.9h.01M815.7 309.7h.01M815.0 312.3h.01M814.8 314.4h.01M734.5 413.2h.01M714.6 438.5h.01M681.0 481.4h.01M660.9 492.7h.01M653.7 495.6h.01M529.4 124.7h.01M595.4 506.6h.01M592.7 508.5h.01M590.7 510.9h.01M587.6 513.8h.01M585.6 515.7h.01M580.1 523.6h.01M577.5 525.7h.01M207.6 762.7h.01M186.7 762.5h.01M182.3 760.9h.01M513.8 92.8h.01M515.7 94.7h.01M664.4 184.9h.01M661.5 191.4h.01M659.5 191.0h.01" stroke="#f5e825"/><path d="M508.9 86.8h.01M510.4 85.3h.01M513.0 84.5h.01M518.8 84.9h.01M829.5 270.4h.01M828.9 274.3h.01M825.4 277.9h.01M820.2 284.5h.01M817.6 289.5h.01M816.9 291.2h.01M817.0 294.3h.01M816.3 296.7h.01M815.6 298.8h.01M815.3 301.7h.01M816.0 304.5h.01M815.0 306.6h.01M731.4 416.0h.01M726.3 422.2h.01M720.2 433.2h.01M716.6 436.8h.01M709.8 441.9h.01M708.7 444.4h.01M704.6 450.5h.01M703.0 453.0h.01M701.5 454.9h.01M698.9 459.6h.01M695.5 463.7h.01M693.8 467.9h.01M690.5 472.3h.01M689.1 473.8h.01M655.9 494.7h.01M528.8 128.1h.01M581.3 521.9h.01M203.3 763.5h.01M200.4 763.3h.01M197.3 763.1h.01M192.2 763.1h.01M190.0 762.4h.01M512.0 91.0h.01M663.1 189.3h.01" stroke="#f6f11e"/><path d="M729.8 418.7h.01M727.3 420.3h.01M725.5 425.3h.01M724.7 427.7h.01M722.6 428.9h.01M721.3 430.8h.01M718.4 434.9h.01M711.9 440.4h.01M707.4 445.7h.01M706.2 448.0h.01M699.5 457.3h.01M697.0 461.0h.01M694.3 466.0h.01M692.6 470.9h.01M687.0 476.4h.01M588.8 512.6h.01M582.1 519.8h.01M205.8 764.2h.01M195.2 762.6h.01" stroke="#f9fb15"/></g>
<g fill="none" stroke-linecap="round"><path d="M250.4 812.4h.01" stroke="#f5e825" stroke-width="8"/><path d="M258.4 811.2h.01" stroke="#f5e825" stroke-width="8"/><path d="M255.5 811.1h.01" stroke="#f5e825" stroke-width="8"/><path d="M262.0 814.9h.01" stroke="#f5e825" stroke-width="8"/><path d="M262.8 813.5h.01" stroke="#f5e825" stroke-width="8"/><path d="M258.5 813.8h.01" stroke="#f5e825" stroke-width="8"/><path d="M251.6 814.8h.01" stroke="#f5e825" stroke-width="8"/><path d="M249.4 813.8h.01" stroke="#f5e825" stroke-width="8"/><path d="M260.2 814.6h.01" stroke="#f5e825" stroke-width="8"/><path d="M254.4 817.8h.01" stroke="#f5e825" stroke-width="8"/><path d="M256.4 813.1h.01" stroke="#f5e825" stroke-width="8"/><path d="M257.0 813.3h.01" stroke="#f5e825" stroke-width="8"/><path d="M253.6 813.7h.01" stroke="#f5e825" stroke-width="8"/><path d="M264.4 814.5h.01" stroke="#f5e825" stroke-width="8"/><path d="M248.5 815.1h.01" stroke="#1a1030" stroke-width="4.5"/><path d="M229.5 825.4h.01" stroke="#4433cd" stroke-width="5.5"/><path d="M232.9 823.5h.01" stroke="#4433cd" stroke-width="5.5"/><path d="M236.6 819.9h.01" stroke="#4433cd" stroke-width="5.5"/><path d="M241.1 817.3h.01" stroke="#4433cd" stroke-width="5.5"/><path d="M247.8 798.5h.01" stroke="#2c8ef1" stroke-width="6"/><path d="M251.7 802.3h.01" stroke="#3b72fe" stroke-width="6"/><path d="M254.9 806.2h.01" stroke="#463bdd" stroke-width="5"/><path d="M258.6 809.6h.01" stroke="#249ee6" stroke-width="6"/><path d="M261.9 813.4h.01" stroke="#2797eb" stroke-width="6"/><path d="M520.1 96.5h.01" stroke="#463bdd" stroke-width="5"/><path d="M517.3 97.2h.01" stroke="#463bdd" stroke-width="5"/><path d="M518.7 95.6h.01" stroke="#463bdd" stroke-width="5"/><path d="M517.3 97.5h.01" stroke="#463bdd" stroke-width="5"/><path d="M623.2 169.6h.01" stroke="#81cc59" stroke-width="9"/><path d="M624.2 170.9h.01" stroke="#81cc59" stroke-width="9"/><path d="M623.5 165.5h.01" stroke="#81cc59" stroke-width="9"/><path d="M627.5 171.6h.01" stroke="#81cc59" stroke-width="9"/><path d="M621.2 174.4h.01" stroke="#81cc59" stroke-width="9"/><path d="M624.5 171.1h.01" stroke="#81cc59" stroke-width="9"/><path d="M625.3 176.3h.01" stroke="#81cc59" stroke-width="9"/><path d="M624.8 175.9h.01" stroke="#81cc59" stroke-width="9"/><path d="M627.4 168.5h.01" stroke="#81cc59" stroke-width="9"/><path d="M622.0 174.0h.01" stroke="#81cc59" stroke-width="9"/><path d="M275.0 782.6h.01" stroke="#4433cd" stroke-width="8"/><path d="M281.2 784.6h.01" stroke="#4433cd" stroke-width="8"/><path d="M279.6 780.3h.01" stroke="#4433cd" stroke-width="8"/><path d="M282.3 783.7h.01" stroke="#4433cd" stroke-width="8"/><path d="M280.5 783.9h.01" stroke="#4433cd" stroke-width="8"/><path d="M275.6 781.2h.01" stroke="#4433cd" stroke-width="8"/><path d="M276.4 785.4h.01" stroke="#4433cd" stroke-width="8"/><path d="M276.4 782.5h.01" stroke="#4433cd" stroke-width="8"/><path d="M391.1 743.8h.01" stroke="#2c8ef1" stroke-width="8"/><path d="M392.4 743.3h.01" stroke="#2c8ef1" stroke-width="8"/><path d="M390.6 740.5h.01" stroke="#2c8ef1" stroke-width="8"/><path d="M391.8 743.3h.01" stroke="#2c8ef1" stroke-width="8"/><path d="M393.3 742.6h.01" stroke="#2c8ef1" stroke-width="8"/><path d="M387.0 741.7h.01" stroke="#463bdd" stroke-width="5"/><path d="M386.7 739.7h.01" stroke="#463bdd" stroke-width="5"/><path d="M386.8 741.4h.01" stroke="#463bdd" stroke-width="5"/><path d="M295.6 637.7h.01" stroke="#463bdd" stroke-width="4"/><path d="M295.3 637.7h.01" stroke="#463bdd" stroke-width="4"/><path d="M519.0 444.3h.01" stroke="#fff" stroke-width="4"/><path d="M518.7 444.0h.01" stroke="#fff" stroke-width="4"/><path d="M569.5 476.9h.01" stroke="#4433cd" stroke-width="6"/><path d="M579.7 479.5h.01" stroke="#4433cd" stroke-width="6"/><path d="M579.9 480.4h.01" stroke="#4433cd" stroke-width="6"/><path d="M573.3 480.1h.01" stroke="#4433cd" stroke-width="6"/><path d="M583.3 478.5h.01" stroke="#4433cd" stroke-width="6"/><path d="M581.0 478.2h.01" stroke="#4433cd" stroke-width="6"/><path d="M567.3 478.7h.01" stroke="#4433cd" stroke-width="6"/><path d="M570.2 478.7h.01" stroke="#4433cd" stroke-width="6"/><path d="M572.2 479.0h.01" stroke="#4433cd" stroke-width="6"/><path d="M568.6 480.2h.01" stroke="#4433cd" stroke-width="6"/><path d="M581.9 478.0h.01" stroke="#4433cd" stroke-width="6"/><path d="M569.8 478.5h.01" stroke="#4433cd" stroke-width="6"/><path d="M569.3 476.8h.01" stroke="#4433cd" stroke-width="6"/><path d="M568.6 473.3h.01" stroke="#4433cd" stroke-width="6"/><path d="M566.3 478.0h.01" stroke="#4433cd" stroke-width="6"/><path d="M568.4 473.5h.01" stroke="#4433cd" stroke-width="6"/><path d="M790.2 354.7h.01" stroke="#463bdd" stroke-width="4"/><path d="M789.9 355.8h.01" stroke="#463bdd" stroke-width="4"/><path d="M791.1 355.8h.01" stroke="#463bdd" stroke-width="4"/><path d="M799.6 354.3h.01" stroke="#69cd6b" stroke-width="6"/><path d="M799.2 356.9h.01" stroke="#69cd6b" stroke-width="6"/><path d="M612.3 335.2h.01" stroke="#463bdd" stroke-width="4"/><path d="M615.8 335.6h.01" stroke="#463bdd" stroke-width="4"/><path d="M613.6 336.1h.01" stroke="#463bdd" stroke-width="4"/><path d="M587.2 506.4h.01" stroke="#463bdd" stroke-width="4"/><path d="M588.2 505.6h.01" stroke="#463bdd" stroke-width="4"/><path d="M588.4 506.7h.01" stroke="#463bdd" stroke-width="4"/><path d="M634.4 468.2h.01" stroke="#463bdd" stroke-width="4"/><path d="M634.1 471.5h.01" stroke="#463bdd" stroke-width="4"/></g>
<g fill="none" stroke-width="2.3"><circle cx="246.2" cy="777.7" r="3.8" stroke="#9ec942"/><circle cx="507.2" cy="625.0" r="5.0" stroke="#463adb" fill="#f5e924"/><circle cx="427.3" cy="666.5" r="4.2" stroke="#463adb"/><circle cx="295.9" cy="781.9" r="4.9" stroke="#463adb"/><circle cx="307.4" cy="786.8" r="4.6" stroke="#463adb"/><circle cx="315.7" cy="785.7" r="4.6" stroke="#463adb"/><circle cx="403.9" cy="571.0" r="3.0" stroke="#463adb"/><circle cx="397.9" cy="573.0" r="3.0" stroke="#463adb"/><circle cx="380.1" cy="583.0" r="3.0" stroke="#463adb"/></g>
<circle cx="478.3" cy="71.6" r="4.9" fill="#fff" stroke="#fec13a" stroke-width="2.9"/><circle cx="478.3" cy="71.6" r="1.9" fill="#1a1030"/><circle cx="620.6" cy="145.3" r="4.9" fill="#fff" stroke="#d8be28" stroke-width="2.9"/><circle cx="620.6" cy="145.3" r="1.9" fill="#1a1030"/><circle cx="641.0" cy="171.6" r="4.9" fill="#fff" stroke="#d8be28" stroke-width="2.9"/><circle cx="641.0" cy="171.6" r="1.9" fill="#1a1030"/><circle cx="638.8" cy="187.1" r="4.9" fill="#fff" stroke="#fec13a" stroke-width="2.9"/><circle cx="638.8" cy="187.1" r="1.9" fill="#1a1030"/><circle cx="676.6" cy="201.0" r="4.9" fill="#fff" stroke="#9ec942" stroke-width="2.9"/><circle cx="676.6" cy="201.0" r="1.9" fill="#1a1030"/><circle cx="693.7" cy="231.4" r="4.9" fill="#fff" stroke="#b3c534" stroke-width="2.9"/><circle cx="693.7" cy="231.4" r="1.9" fill="#1a1030"/><circle cx="702.6" cy="249.9" r="4.9" fill="#fff" stroke="#85cb56" stroke-width="2.9"/><circle cx="702.6" cy="249.9" r="1.9" fill="#1a1030"/><circle cx="712.3" cy="268.5" r="4.9" fill="#fff" stroke="#d8be28" stroke-width="2.9"/><circle cx="712.3" cy="268.5" r="1.9" fill="#1a1030"/><circle cx="753.3" cy="263.1" r="4.9" fill="#fff" stroke="#85cb56" stroke-width="2.9"/><circle cx="753.3" cy="263.1" r="1.9" fill="#1a1030"/><circle cx="741.7" cy="282.4" r="4.9" fill="#fff" stroke="#9ec942" stroke-width="2.9"/><circle cx="741.7" cy="282.4" r="1.9" fill="#1a1030"/><circle cx="194.2" cy="782.1" r="4.9" fill="#fff" stroke="#fec13a" stroke-width="2.9"/><circle cx="194.2" cy="782.1" r="1.9" fill="#1a1030"/>
<rect x="608.4" y="215.2" width="26.4" height="26.4" fill="#fff"/><rect x="612.5" y="219.3" width="18.2" height="18.2" fill="#000"/><rect x="606.3" y="468.2" width="26.4" height="26.4" fill="#fff"/><rect x="610.4" y="472.3" width="18.2" height="18.2" fill="#000"/><rect x="490.4" y="593.0" width="26.4" height="26.4" fill="#fff"/><rect x="494.5" y="597.1" width="18.2" height="18.2" fill="#000"/>
<rect x="90.2" y="62.9" width="815.2" height="799.8" fill="none" stroke="#000" stroke-width="2"/><path d="M362.5 62.9v8M362.5 862.7v-8M635.0 62.9v8M635.0 862.7v-8M90.2 118.7h8.5M905.4 118.7h-8.5M90.2 404.3h8.5M905.4 404.3h-8.5M90.2 693.0h8.5M905.4 693.0h-8.5" stroke="#000" stroke-width="2" fill="none"/>
<text x="92.4" y="929.0" text-anchor="middle" class="t">165</text><text x="364.7" y="929.0" text-anchor="middle" class="t">170</text><text x="637.2" y="929.0" text-anchor="middle" class="t">175</text><text x="907.6" y="929.0" text-anchor="middle" class="t">180</text><text x="72.8" y="137.7" text-anchor="end" class="t">-35</text><text x="72.8" y="423.3" text-anchor="end" class="t">-40</text><text x="72.8" y="712.0" text-anchor="end" class="t">-45</text><text x="8.2" y="91.0" class="L">A</text><text x="499.8" y="41.6" text-anchor="middle" class="T">2,500-year return period</text>
</g>
<g id="panelB">
<path d="M1479.7 88.5L1483.9 85.3L1490.1 84.5L1500.3 83.7L1504.0 93.4L1509.2 103.0L1519.6 105.3L1530.0 113.4L1541.8 115.6L1552.2 117.1L1559.6 125.3L1570.0 128.2L1574.4 135.7L1578.9 144.6L1583.3 155.0L1586.2 163.9L1589.2 172.8L1593.6 183.1L1598.1 192.0L1601.8 200.9L1604.0 208.4L1605.6 214.0L1612.6 218.0L1617.6 226.0L1620.6 236.0L1624.6 245.0L1632.5 249.0L1638.5 244.0L1639.5 236.0L1635.5 226.0L1630.5 216.0L1625.6 208.0L1623.1 203.0L1632.5 204.0L1644.5 207.0L1657.5 211.0L1661.5 217.0L1657.5 224.0L1654.9 234.9L1657.8 246.8L1662.3 258.6L1669.7 267.5L1680.0 275.0L1691.9 280.9L1703.7 285.3L1715.6 289.8L1727.4 290.5L1737.8 288.3L1745.2 282.4L1752.6 275.0L1760.0 269.0L1768.8 263.8L1779.2 262.3L1789.6 264.6L1800.0 269.0L1802.8 273.2L1798.7 277.0L1794.9 279.7L1791.7 285.0L1789.9 289.6L1787.9 299.5L1787.4 309.3L1786.9 317.3L1782.0 324.2L1774.1 329.1L1767.2 334.1L1764.7 344.0L1764.3 350.9L1771.8 355.1L1765.0 365.5L1758.3 353.0L1745.2 349.1L1733.3 350.6L1722.9 355.1L1714.9 362.5L1710.7 372.9L1711.9 379.5L1719.4 384.3L1716.0 395.0L1712.4 404.3L1707.4 412.9L1700.3 420.0L1696.0 428.6L1689.5 436.4L1681.0 443.6L1676.0 452.1L1669.6 461.4L1665.4 470.0L1658.2 477.1L1649.6 483.6L1641.1 488.6L1632.5 492.9L1624.7 496.4L1618.3 494.5L1613.1 491.0L1608.1 486.0L1606.9 474.0L1605.4 462.8L1609.9 455.4L1614.3 446.5L1618.0 437.6L1619.5 428.7L1618.8 419.8L1615.8 410.9L1609.9 403.5L1601.0 399.5L1592.1 397.5L1583.3 393.1L1572.9 387.2L1562.5 382.7L1552.1 378.2L1543.2 373.8L1538.8 366.4L1540.2 359.0L1547.7 352.3L1558.0 348.6L1569.9 347.1L1579.7 342.6L1585.1 334.5L1586.1 326.3L1586.6 316.0L1588.6 304.6L1592.7 292.8L1596.6 281.5L1595.1 269.5L1589.6 258.0L1584.1 247.5L1577.7 238.0L1573.7 227.7L1568.5 217.3L1561.1 206.9L1553.2 197.5L1550.7 187.5L1543.3 177.2L1534.5 166.8L1525.6 156.4L1516.7 146.1L1507.8 135.7L1501.3 128.0L1503.3 118.5L1495.9 109.0L1487.1 98.6ZM1501.8 436.2L1500.3 446.0L1501.8 456.9L1500.3 467.3L1504.7 478.5L1512.1 480.0L1519.6 473.2L1528.5 467.3L1535.9 462.8L1542.7 470.0L1550.7 478.0L1555.6 487.9L1561.3 494.3L1567.0 500.7L1569.8 504.8L1562.7 511.4L1556.3 518.6L1550.6 526.4L1544.8 532.9L1538.5 538.6L1533.5 544.3L1527.1 549.3L1524.2 555.7L1521.4 562.1L1517.8 568.6L1512.8 574.3L1505.7 578.6L1498.5 582.1L1491.5 585.7L1485.0 590.0L1481.5 594.3L1480.9 600.0L1484.9 610.0L1493.9 611.4L1504.3 612.9L1509.3 620.3L1504.8 628.0L1495.4 632.2L1487.4 628.0L1480.6 625.0L1470.2 625.5L1459.8 627.7L1449.5 630.7L1439.2 635.1L1428.8 639.6L1418.4 644.0L1409.5 650.0L1403.6 657.4L1400.1 665.5L1399.1 672.5L1400.2 683.6L1394.5 692.1L1387.4 700.7L1382.4 710.0L1380.2 718.6L1375.2 725.7L1371.7 732.1L1374.5 738.6L1375.6 742.5L1370.1 745.2L1362.4 743.5L1354.6 745.7L1347.5 750.7L1346.1 757.1L1340.3 762.1L1333.2 765.7L1326.1 770.0L1323.2 775.7L1317.5 780.0L1310.4 782.1L1303.3 783.6L1296.2 785.7L1289.9 784.9L1279.5 786.0L1267.6 783.9L1255.8 784.4L1246.9 778.4L1239.5 772.5L1230.6 769.5L1220.3 771.0L1211.4 766.6L1205.5 759.1L1196.6 756.2L1187.7 760.6L1178.8 763.6L1168.5 762.8L1158.1 762.1L1149.2 757.7L1143.3 750.2L1141.0 741.3L1142.5 732.4L1147.7 725.0L1155.1 717.6L1161.1 708.7L1168.5 699.8L1177.3 690.9L1187.7 682.0L1198.1 674.6L1208.5 667.2L1217.4 659.7L1226.2 652.3L1235.1 644.9L1242.5 636.0L1251.4 631.5L1261.8 630.8L1273.5 627.1L1283.9 622.6L1294.3 618.2L1306.2 612.3L1317.9 607.8L1328.3 603.4L1338.7 597.4L1349.1 590.5L1357.7 583.5L1368.0 576.5L1377.0 571.3L1385.9 565.4L1393.3 558.0L1400.7 549.1L1405.0 540.2L1408.0 531.3L1411.7 520.9L1413.9 510.5L1419.9 505.3L1430.3 501.6L1439.2 494.2L1446.6 485.3L1449.5 474.9L1449.5 464.5L1450.9 454.1L1458.4 446.7L1468.7 440.8L1479.1 434.8L1489.5 434.1ZM1217.4 788.8L1205.5 793.3L1208.5 803.6L1202.5 812.5L1190.7 818.5L1196.6 824.4L1208.5 824.4L1214.5 820.0L1221.8 817.5L1228.4 815.0L1235.1 815.5L1241.0 806.6L1239.5 797.7L1232.1 791.8L1224.4 789.0Z" fill="#f5f4fc"/>
<g fill="none" stroke-linecap="round" stroke-width="9"><path d="M1527.3 139.9h.01M1524.2 141.4h.01M1524.5 139.7h.01M1525.9 140.7h.01M1527.5 141.9h.01M1528.2 141.1h.01M1530.2 138.1h.01M1532.9 139.1h.01M1531.4 138.6h.01M1528.9 138.1h.01M1571.0 190.5h.01M1567.4 189.1h.01M1567.1 186.9h.01M1565.7 192.6h.01M1575.7 184.2h.01M1566.2 184.9h.01M1575.5 189.2h.01M1576.1 194.9h.01M1578.0 188.1h.01M1575.7 191.0h.01M1592.6 250.9h.01M1606.3 278.5h.01M1606.4 277.4h.01M1602.0 274.5h.01M1605.1 278.1h.01M1604.7 279.8h.01M1588.8 335.6h.01M1587.4 335.9h.01M1715.4 295.7h.01M1606.7 469.9h.01M1475.8 444.9h.01M1475.1 444.1h.01M1501.6 479.5h.01M1508.8 483.9h.01M1510.2 485.0h.01M1222.2 669.3h.01" stroke="#4433cd"/><path d="M1488.5 96.3h.01M1537.8 121.8h.01M1538.7 121.4h.01M1533.0 121.1h.01M1529.4 141.9h.01M1533.4 140.0h.01M1531.6 139.8h.01M1530.9 141.3h.01M1561.1 138.2h.01M1562.2 138.2h.01M1575.7 184.6h.01M1569.2 181.2h.01M1572.2 194.4h.01M1577.3 189.7h.01M1569.4 194.3h.01M1566.1 185.8h.01M1573.1 189.4h.01M1562.8 185.6h.01M1572.8 186.4h.01M1573.8 188.4h.01M1571.8 191.8h.01M1576.1 187.3h.01M1567.5 183.0h.01M1577.2 188.7h.01M1567.3 181.5h.01M1562.9 188.7h.01M1566.3 194.4h.01M1569.1 181.4h.01M1569.1 182.1h.01M1573.6 184.0h.01M1575.3 190.7h.01M1577.2 187.7h.01M1576.1 196.1h.01M1578.4 191.3h.01M1591.7 250.9h.01M1591.8 249.9h.01M1595.4 198.9h.01M1593.5 200.4h.01M1606.1 277.2h.01M1586.2 334.6h.01M1716.0 296.1h.01M1638.6 222.5h.01M1640.6 220.6h.01M1647.4 236.1h.01M1608.1 470.8h.01M1499.2 481.8h.01M1501.5 481.4h.01M1506.9 484.5h.01M1225.1 671.5h.01M1223.5 670.2h.01M1224.4 671.4h.01M1222.3 672.8h.01M1222.8 672.9h.01M1225.6 670.6h.01M1223.9 670.2h.01" stroke="#463bdd"/><path d="M1488.6 96.8h.01M1602.2 296.1h.01M1602.8 297.3h.01M1602.5 291.7h.01M1601.4 298.0h.01M1598.8 293.1h.01M1646.9 236.5h.01" stroke="#4744e8"/><path d="M1572.3 164.8h.01M1572.7 163.7h.01M1570.7 165.1h.01M1571.9 164.2h.01M1573.5 164.2h.01M1600.2 294.4h.01" stroke="#484df0"/><path d="M1571.8 163.9h.01M1675.2 280.8h.01M1674.1 280.5h.01" stroke="#4756f7"/><path d="M1670.0 276.8h.01M1669.9 276.4h.01" stroke="#465ffb"/><path d="M1566.0 197.2h.01M1559.5 198.3h.01M1573.4 199.9h.01M1571.2 200.2h.01M1568.1 209.6h.01M1563.0 211.6h.01M1564.8 197.4h.01M1568.1 205.5h.01M1562.1 199.6h.01M1570.1 195.8h.01M1564.9 200.3h.01M1560.2 198.8h.01M1573.1 201.9h.01M1561.4 198.1h.01M1599.0 283.2h.01M1597.2 284.6h.01M1670.1 276.4h.01" stroke="#4369fe"/><path d="M1558.2 207.0h.01M1574.3 205.3h.01M1561.9 204.5h.01M1566.6 205.0h.01M1567.9 207.5h.01M1562.9 210.5h.01M1568.8 209.6h.01M1561.8 201.5h.01M1571.5 196.9h.01M1564.3 195.5h.01M1561.7 205.4h.01M1573.4 203.3h.01M1568.1 202.7h.01M1570.3 204.4h.01M1565.2 204.4h.01M1573.5 204.4h.01M1565.7 200.3h.01M1564.3 197.9h.01M1569.1 202.5h.01M1574.4 200.9h.01M1560.0 197.9h.01M1561.3 208.7h.01M1564.1 200.7h.01M1558.1 202.2h.01M1562.6 211.8h.01M1591.7 248.0h.01M1594.0 243.4h.01M1589.4 246.2h.01M1593.7 245.5h.01M1592.3 245.6h.01M1591.0 244.4h.01M1589.7 247.9h.01M1594.7 247.5h.01M1556.1 187.5h.01M1557.8 187.6h.01M1555.4 187.2h.01M1555.1 189.4h.01M1553.4 187.4h.01M1553.8 187.2h.01M1558.0 191.0h.01M1554.3 186.0h.01M1598.1 283.8h.01M1657.5 266.0h.01M1664.4 273.0h.01M1663.3 271.9h.01M1664.9 272.1h.01M1226.8 805.0h.01M1225.3 803.9h.01M1226.2 804.2h.01" stroke="#3b72fe"/><path d="M1568.9 212.3h.01M1557.3 191.2h.01M1554.2 188.0h.01M1659.2 266.4h.01M1659.3 268.9h.01M1665.3 272.5h.01M1223.5 806.1h.01" stroke="#327cfc"/><path d="M1560.4 201.0h.01M1559.1 196.6h.01M1560.7 197.6h.01M1489.2 453.7h.01M1490.1 447.9h.01M1488.1 454.6h.01M1482.7 454.2h.01M1490.2 453.6h.01M1490.4 453.2h.01M1541.8 466.3h.01M1561.0 476.0h.01M1554.3 448.0h.01" stroke="#2e86f8"/><path d="M1556.2 197.4h.01M1559.0 197.6h.01M1559.4 200.8h.01M1556.2 198.5h.01M1559.5 198.4h.01M1599.9 453.9h.01M1596.7 454.3h.01M1598.1 459.8h.01M1595.3 459.6h.01M1598.7 453.1h.01M1603.3 455.0h.01M1600.0 454.9h.01M1600.3 457.9h.01M1600.7 459.9h.01M1601.5 452.6h.01M1600.3 458.3h.01M1594.3 456.1h.01M1599.7 451.1h.01M1598.5 456.9h.01M1596.6 452.5h.01M1602.5 456.9h.01M1489.6 453.3h.01M1490.9 449.7h.01M1483.7 448.4h.01M1480.7 448.1h.01M1490.8 453.5h.01M1482.5 449.0h.01M1491.7 447.3h.01M1484.3 454.6h.01M1496.3 448.2h.01M1495.0 454.1h.01M1496.0 449.9h.01M1494.7 451.7h.01M1498.1 445.8h.01M1548.6 461.7h.01M1553.6 472.4h.01M1573.5 454.7h.01M1548.8 450.1h.01M1560.6 476.6h.01M1558.1 462.9h.01M1555.6 466.6h.01M1571.2 454.2h.01M1554.2 461.2h.01M1575.3 465.9h.01M1549.2 464.2h.01M1563.6 454.9h.01M1571.5 452.1h.01M1562.2 475.1h.01M1556.1 457.3h.01M1551.6 448.4h.01M1559.5 471.7h.01M1555.6 456.1h.01M1549.1 450.8h.01M1559.1 471.7h.01M1571.6 457.2h.01M1544.9 467.3h.01M1549.5 458.0h.01M1557.6 477.3h.01M1558.0 455.1h.01M1555.2 474.6h.01M1543.4 458.6h.01M1540.3 462.5h.01M1565.2 461.0h.01M1559.1 456.6h.01M1542.2 468.1h.01M1561.5 449.1h.01M1554.1 463.0h.01M1541.8 456.4h.01M1546.2 467.2h.01M1560.1 455.5h.01M1568.0 465.4h.01M1547.8 455.0h.01M1562.2 470.1h.01M1569.0 466.8h.01M1561.5 462.4h.01M1541.2 463.9h.01M1542.0 466.8h.01M1566.7 464.9h.01M1549.6 468.4h.01M1559.1 449.3h.01M1558.9 471.0h.01M1539.9 466.7h.01M1569.4 465.5h.01M1555.0 459.9h.01M1567.5 455.9h.01M1560.1 472.2h.01M1560.6 473.7h.01M1563.3 457.5h.01M1553.6 454.0h.01M1557.3 465.2h.01M1543.5 472.6h.01M1555.6 454.9h.01M1568.2 459.3h.01M1559.3 449.5h.01M1552.6 471.9h.01M1573.1 470.5h.01M1550.4 467.8h.01M1554.9 461.4h.01M1553.0 472.6h.01M1555.1 455.1h.01M1555.3 450.1h.01M1554.7 476.3h.01M1547.9 468.6h.01M1554.8 472.1h.01M1542.1 457.2h.01M1567.9 461.7h.01M1548.4 449.5h.01M1553.5 444.9h.01M1551.3 447.4h.01M1552.7 449.1h.01M1557.2 449.5h.01M1554.8 447.5h.01M1557.4 449.1h.01M1553.4 442.5h.01M1551.9 447.9h.01M1558.2 447.2h.01M1569.2 469.2h.01M1576.2 468.2h.01M1572.3 478.5h.01M1569.4 467.5h.01M1569.4 474.7h.01M1573.7 471.2h.01M1575.0 471.6h.01M1571.4 468.5h.01M1577.1 472.0h.01" stroke="#2c8ef1"/><path d="M1511.4 121.2h.01M1511.7 120.8h.01M1575.5 211.6h.01M1572.3 211.3h.01M1597.8 457.4h.01M1595.1 459.4h.01M1498.9 448.7h.01M1496.5 450.5h.01M1502.7 450.5h.01M1498.1 450.3h.01M1499.8 453.9h.01M1495.2 449.6h.01M1497.2 450.1h.01M1501.6 449.8h.01M1492.9 451.5h.01M1541.3 456.8h.01M1567.6 471.2h.01M1574.9 456.6h.01M1564.4 458.7h.01M1563.6 464.6h.01M1556.1 454.2h.01M1547.0 472.3h.01M1573.6 471.5h.01M1561.2 462.8h.01M1549.7 463.0h.01M1560.5 451.7h.01M1560.3 475.0h.01M1560.9 468.6h.01M1556.3 477.3h.01M1545.0 458.1h.01M1572.3 470.6h.01M1565.9 450.6h.01M1553.0 465.0h.01M1550.5 470.0h.01M1567.3 453.7h.01M1545.4 472.6h.01M1562.1 469.2h.01M1573.3 462.4h.01M1553.3 462.5h.01M1558.5 466.2h.01M1571.3 475.6h.01M1568.3 466.8h.01M1569.7 476.6h.01M1575.4 468.6h.01M1571.4 476.5h.01M1566.1 476.3h.01M1563.7 477.2h.01" stroke="#2797eb"/><path d="M1572.1 211.7h.01M1570.1 211.2h.01M1576.4 211.2h.01M1567.6 476.2h.01M1564.5 480.3h.01M1565.6 475.7h.01" stroke="#249ee6"/><path d="M1622.6 234.1h.01M1629.0 233.9h.01M1623.6 240.4h.01M1627.9 241.3h.01M1632.0 245.0h.01M1628.4 232.8h.01M1621.5 232.0h.01M1547.4 468.0h.01M1545.1 463.3h.01M1546.7 469.2h.01M1544.7 468.8h.01M1248.8 774.6h.01M1247.2 775.2h.01M1246.4 774.7h.01M1247.7 776.4h.01" stroke="#1fa6e2"/><path d="M1522.5 150.7h.01M1520.5 149.5h.01M1590.5 198.5h.01M1592.2 201.4h.01M1588.3 205.4h.01M1592.2 203.2h.01M1612.4 219.9h.01M1617.5 233.6h.01M1623.5 223.6h.01M1611.9 220.5h.01M1611.5 223.8h.01M1614.7 228.6h.01M1616.2 232.5h.01M1617.3 226.0h.01M1611.7 230.4h.01M1625.3 224.4h.01M1624.4 228.8h.01M1609.9 223.7h.01M1624.7 223.9h.01M1615.4 223.1h.01M1618.1 227.0h.01M1614.8 224.4h.01M1625.4 224.9h.01M1614.9 228.6h.01M1628.6 234.1h.01M1630.7 238.5h.01M1626.5 236.0h.01M1626.2 237.4h.01M1621.8 235.8h.01M1624.2 242.5h.01M1628.3 229.8h.01M1631.3 239.4h.01M1624.5 240.1h.01M1623.5 230.6h.01M1625.5 243.9h.01M1635.4 242.8h.01M1622.8 235.5h.01M1626.6 233.5h.01M1630.2 245.1h.01M1632.9 240.4h.01M1623.8 244.0h.01M1626.8 231.4h.01M1636.1 233.7h.01M1630.2 233.3h.01M1628.6 243.4h.01M1625.0 242.1h.01M1630.8 244.4h.01M1630.5 231.7h.01M1632.0 234.8h.01M1622.0 236.1h.01M1635.6 236.5h.01M1617.6 228.2h.01M1625.3 231.0h.01M1627.3 234.8h.01M1624.7 236.0h.01M1617.5 229.2h.01M1629.2 228.9h.01M1618.4 230.2h.01M1627.4 227.7h.01M1626.9 224.3h.01M1629.0 228.5h.01M1625.0 225.7h.01M1621.2 231.3h.01M1624.8 234.4h.01M1545.2 455.6h.01M1553.1 456.3h.01M1546.5 461.6h.01M1560.9 470.0h.01M1562.9 470.5h.01M1561.7 469.9h.01M1563.9 468.5h.01" stroke="#19addc"/><path d="M1522.2 150.3h.01M1571.7 163.2h.01M1589.0 200.2h.01M1592.3 199.9h.01M1591.3 207.9h.01M1591.6 201.8h.01M1590.6 204.6h.01M1591.8 200.2h.01M1617.4 230.7h.01M1615.8 227.0h.01M1623.9 224.8h.01M1625.0 227.4h.01M1620.3 230.5h.01M1616.1 223.6h.01M1621.4 231.5h.01M1621.5 224.3h.01M1613.6 226.3h.01M1613.1 222.1h.01M1617.2 220.6h.01M1618.9 218.0h.01M1635.8 233.7h.01M1626.2 243.2h.01M1626.2 224.9h.01M1544.9 457.2h.01M1548.1 452.3h.01M1555.0 455.8h.01M1545.2 457.3h.01M1212.6 814.1h.01M1215.3 817.8h.01" stroke="#0db3d3"/><path d="M1256.6 794.3h.01M1232.9 804.6h.01M1235.3 807.4h.01M1230.0 800.5h.01M1233.9 798.6h.01M1224.5 799.2h.01M1223.2 795.0h.01M1215.3 816.9h.01M1214.1 819.9h.01" stroke="#01b8c9"/><path d="M1553.7 129.4h.01M1258.5 794.6h.01M1251.8 790.0h.01M1249.3 794.9h.01M1256.8 793.6h.01M1255.6 794.2h.01M1242.7 789.5h.01M1246.1 787.5h.01M1231.3 797.8h.01M1229.5 806.7h.01M1229.1 805.3h.01M1226.7 801.4h.01M1229.6 808.5h.01M1232.0 807.4h.01M1230.9 800.2h.01M1234.1 801.7h.01M1232.6 806.8h.01M1229.4 799.8h.01M1227.7 802.8h.01M1230.2 798.6h.01M1222.5 797.2h.01M1221.6 797.8h.01M1222.9 799.9h.01M1221.5 797.9h.01M1223.3 797.2h.01M1229.0 812.8h.01M1228.4 810.1h.01M1230.0 813.1h.01M1228.4 813.7h.01M1228.0 808.4h.01M1232.1 811.3h.01" stroke="#08bcbf"/><path d="M1552.0 129.8h.01M1597.9 211.3h.01M1589.5 211.4h.01M1597.6 211.1h.01M1601.9 212.6h.01M1495.3 627.3h.01M1494.6 627.4h.01M1492.8 626.5h.01M1252.3 795.2h.01M1257.0 791.6h.01M1256.0 797.7h.01M1250.5 793.6h.01M1258.3 789.6h.01M1252.8 796.6h.01M1246.8 790.1h.01M1246.6 787.7h.01M1225.5 803.6h.01" stroke="#1cc0b3"/><path d="M1596.3 212.2h.01M1596.7 211.9h.01M1593.2 211.0h.01M1593.4 213.3h.01M1591.1 211.3h.01M1593.7 208.9h.01M1597.6 213.3h.01M1596.6 212.6h.01M1593.8 208.8h.01M1592.6 210.1h.01M1494.3 629.1h.01M1495.7 624.8h.01M1216.4 799.6h.01M1217.9 794.7h.01M1215.7 799.2h.01M1217.3 793.3h.01M1216.7 799.6h.01M1211.9 794.8h.01M1217.0 794.5h.01M1219.3 796.5h.01M1219.5 793.3h.01M1212.9 798.4h.01M1218.0 811.3h.01M1214.8 810.5h.01M1219.4 809.3h.01" stroke="#2bc3a8"/><path d="M1596.9 212.7h.01M1594.8 211.5h.01M1215.6 808.0h.01M1218.8 807.7h.01M1214.7 810.5h.01" stroke="#34c79b"/><path d="M1210.3 805.4h.01M1208.8 800.5h.01M1212.1 804.6h.01M1212.4 804.2h.01M1214.4 801.6h.01" stroke="#41ca8c"/><path d="M1212.3 806.8h.01M1213.9 800.0h.01M1211.0 803.3h.01M1214.8 802.9h.01" stroke="#54cc7c"/><path d="M1497.6 621.3h.01M1494.9 618.7h.01M1492.5 618.5h.01M1497.3 619.8h.01M1494.1 618.6h.01M1208.7 799.8h.01M1206.3 808.6h.01M1203.3 812.7h.01M1204.6 813.8h.01M1205.6 814.6h.01M1208.8 810.0h.01M1201.1 814.5h.01" stroke="#69cd6b"/><path d="M1499.5 618.8h.01M1501.4 621.8h.01M1503.7 619.8h.01M1501.1 617.9h.01M1502.3 620.9h.01M1208.4 813.5h.01M1202.6 810.8h.01M1205.7 814.6h.01M1199.4 814.7h.01M1197.7 817.8h.01M1195.9 818.1h.01M1198.6 815.7h.01M1198.3 817.6h.01M1197.5 817.8h.01M1202.6 818.7h.01" stroke="#81cc59"/></g>
<g fill="none" stroke-linecap="round" stroke-width="8.5"><path d="M1173.2 710.2h.01" stroke="#01b8c9"/><path d="M1177.6 717.9h.01" stroke="#4433cd"/><path d="M1178.6 700.6h.01" stroke="#4433cd"/><path d="M1174.7 721.3h.01" stroke="#4433cd"/><path d="M1184.9 707.7h.01" stroke="#4433cd"/><path d="M1211.1 675.0h.01" stroke="#4369fe"/><path d="M1166.4 739.4h.01" stroke="#4433cd"/><path d="M1154.5 743.5h.01" stroke="#01b8c9"/><path d="M1200.2 684.4h.01" stroke="#4433cd"/><path d="M1166.9 719.7h.01" stroke="#4369fe"/><path d="M1188.0 696.0h.01" stroke="#1fa6e2"/><path d="M1172.2 727.7h.01" stroke="#4369fe"/><path d="M1155.1 747.3h.01" stroke="#4433cd"/><path d="M1182.1 701.0h.01" stroke="#2c8ef1"/><path d="M1170.0 736.5h.01" stroke="#1fa6e2"/><path d="M1206.8 678.8h.01" stroke="#4433cd"/><path d="M1153.6 749.3h.01" stroke="#41ca8c"/><path d="M1182.0 711.8h.01" stroke="#4433cd"/><path d="M1158.2 752.1h.01" stroke="#1fa6e2"/><path d="M1156.7 737.4h.01" stroke="#4433cd"/><path d="M1155.8 751.2h.01" stroke="#4369fe"/><path d="M1179.9 715.8h.01" stroke="#19addc"/><path d="M1166.1 741.9h.01" stroke="#4433cd"/><path d="M1204.7 681.7h.01" stroke="#4433cd"/><path d="M1162.8 728.5h.01" stroke="#2c8ef1"/><path d="M1165.4 744.8h.01" stroke="#19addc"/><path d="M1179.5 704.3h.01" stroke="#19addc"/><path d="M1161.9 725.4h.01" stroke="#4433cd"/><path d="M1198.1 687.3h.01" stroke="#4433cd"/><path d="M1186.2 696.6h.01" stroke="#4433cd"/><path d="M1193.2 690.5h.01" stroke="#41ca8c"/><path d="M1171.3 717.3h.01" stroke="#41ca8c"/><path d="M1174.9 707.1h.01" stroke="#4433cd"/><path d="M1183.1 708.6h.01" stroke="#2c8ef1"/><path d="M1170.3 733.1h.01" stroke="#4433cd"/><path d="M1188.1 693.7h.01" stroke="#4433cd"/><path d="M1175.4 721.8h.01" stroke="#4433cd"/><path d="M1208.7 676.0h.01" stroke="#1fa6e2"/><path d="M1195.8 688.6h.01" stroke="#4433cd"/><path d="M1158.8 737.3h.01" stroke="#19addc"/><path d="M1167.7 721.5h.01" stroke="#4433cd"/><path d="M1173.3 713.4h.01" stroke="#4433cd"/><path d="M1173.4 724.5h.01" stroke="#41ca8c"/><path d="M1159.1 731.7h.01" stroke="#4433cd"/><path d="M1163.3 725.3h.01" stroke="#1fa6e2"/></g>
<g fill="none" stroke-linecap="round" stroke-width="11.3"><path d="M1208.3 824.6h.01" stroke="#4433cd"/><path d="M1206.2 825.0h.01" stroke="#465ffb"/><path d="M1210.2 823.0h.01" stroke="#4369fe"/><path d="M1500.8 446.8h.01M1500.6 448.6h.01M1501.2 452.0h.01M1546.3 473.6h.01M1548.9 476.4h.01M1203.6 824.0h.01" stroke="#2c8ef1"/><path d="M1545.3 472.5h.01M1550.6 478.1h.01M1363.7 743.4h.01M1212.9 821.3h.01" stroke="#2797eb"/><path d="M1626.6 246.3h.01M1631.4 247.8h.01M1502.0 453.9h.01M1501.2 459.7h.01M1537.7 464.4h.01M1541.0 468.3h.01M1361.5 743.4h.01" stroke="#249ee6"/><path d="M1622.7 239.6h.01M1623.3 242.3h.01M1624.2 244.5h.01M1632.7 248.4h.01M1500.7 443.6h.01M1501.9 457.0h.01M1536.1 462.8h.01M1543.5 469.9h.01" stroke="#1fa6e2"/><path d="M1612.8 218.9h.01M1619.0 232.5h.01M1619.9 234.6h.01M1629.2 246.8h.01M1634.7 247.0h.01M1637.5 245.6h.01M1501.8 439.2h.01M1500.5 441.7h.01M1501.5 461.9h.01M1527.1 468.7h.01M1531.1 466.0h.01M1533.5 464.2h.01M1551.2 479.8h.01M1358.3 744.9h.01M1200.7 824.0h.01" stroke="#19addc"/><path d="M1614.2 220.7h.01M1615.5 222.4h.01M1616.4 225.4h.01M1618.3 227.5h.01M1621.2 237.6h.01M1638.8 242.8h.01M1639.4 241.2h.01M1639.2 238.0h.01M1638.4 232.9h.01M1587.7 311.7h.01M1587.3 309.4h.01M1501.8 471.6h.01M1512.9 478.8h.01M1521.0 473.1h.01M1522.5 470.7h.01M1524.5 469.1h.01M1529.8 466.3h.01M1539.2 466.1h.01M1499.3 440.0h.01" stroke="#0db3d3"/><path d="M1605.9 214.5h.01M1608.1 216.2h.01M1618.5 229.9h.01M1639.9 235.9h.01M1637.0 230.4h.01M1636.5 228.2h.01M1619.4 427.4h.01M1586.2 327.3h.01M1586.5 314.6h.01M1589.7 302.0h.01M1590.9 299.3h.01M1595.4 284.3h.01M1501.2 435.9h.01M1501.1 464.2h.01M1500.5 467.6h.01M1501.2 469.6h.01M1502.9 474.4h.01M1506.0 478.5h.01M1507.5 479.3h.01M1510.7 479.5h.01M1516.8 475.6h.01M1519.1 474.4h.01M1366.6 744.4h.01M1246.8 778.1h.01M1485.5 434.5h.01M1500.5 435.8h.01M1215.0 819.4h.01M1236.1 814.3h.01M1237.9 811.0h.01M1484.1 438.4h.01M1486.7 438.3h.01M1491.9 438.0h.01M1494.4 438.5h.01M1496.9 439.3h.01" stroke="#01b8c9"/><path d="M1610.6 216.9h.01M1634.9 225.6h.01M1633.8 224.1h.01M1605.2 466.1h.01M1605.6 463.3h.01M1607.0 461.3h.01M1614.4 445.4h.01M1619.5 429.8h.01M1619.5 422.0h.01M1578.8 343.1h.01M1584.7 334.7h.01M1585.6 333.0h.01M1585.7 324.7h.01M1586.4 319.6h.01M1586.7 316.9h.01M1587.9 307.1h.01M1588.3 304.3h.01M1591.2 297.4h.01M1592.1 294.7h.01M1593.6 289.4h.01M1594.1 286.9h.01M1595.9 276.6h.01M1592.8 264.1h.01M1589.3 257.2h.01M1586.0 250.5h.01M1579.7 242.4h.01M1579.0 239.4h.01M1574.8 230.5h.01M1572.2 225.7h.01M1503.9 476.8h.01M1251.6 781.1h.01M1297.4 617.2h.01M1402.8 544.4h.01M1403.9 542.1h.01M1475.3 437.1h.01M1482.5 434.8h.01M1490.6 434.3h.01M1495.7 434.9h.01M1498.5 435.5h.01M1238.8 809.7h.01M1240.8 804.3h.01M1239.3 799.7h.01M1238.6 797.5h.01M1481.5 438.6h.01M1489.3 438.2h.01" stroke="#08bcbf"/><path d="M1633.5 221.8h.01M1607.3 458.9h.01M1612.1 451.6h.01M1612.7 449.8h.01M1614.2 446.9h.01M1616.3 442.8h.01M1618.2 437.7h.01M1618.1 434.6h.01M1618.6 432.9h.01M1618.9 425.1h.01M1618.5 419.4h.01M1618.2 417.8h.01M1617.5 414.6h.01M1615.9 412.8h.01M1615.3 410.6h.01M1613.4 408.4h.01M1611.8 406.3h.01M1610.3 403.7h.01M1544.4 355.3h.01M1556.5 349.6h.01M1564.4 348.1h.01M1583.8 337.1h.01M1586.1 330.2h.01M1586.7 322.5h.01M1592.6 292.5h.01M1596.1 282.4h.01M1596.0 279.9h.01M1596.1 274.6h.01M1595.4 271.9h.01M1594.8 269.4h.01M1592.0 262.0h.01M1590.4 259.6h.01M1586.7 252.9h.01M1585.1 248.7h.01M1581.3 244.4h.01M1577.1 237.8h.01M1576.3 234.6h.01M1574.0 228.2h.01M1571.3 223.6h.01M1566.3 214.6h.01M1555.1 199.7h.01M1515.2 477.6h.01M1552.8 481.9h.01M1255.8 784.0h.01M1253.3 782.8h.01M1249.3 780.1h.01M1245.9 777.4h.01M1246.4 633.7h.01M1285.6 622.1h.01M1333.4 600.9h.01M1471.5 439.4h.01M1478.3 435.5h.01M1479.9 434.9h.01M1488.7 433.8h.01M1214.6 789.2h.01M1198.1 824.2h.01M1217.7 819.7h.01M1227.1 815.6h.01M1229.0 814.6h.01M1232.5 814.9h.01M1240.2 807.6h.01M1240.3 802.6h.01M1236.8 795.6h.01M1235.2 793.7h.01M1232.8 792.9h.01M1228.7 789.9h.01M1225.8 789.5h.01M1474.3 441.5h.01M1476.7 440.6h.01M1479.1 439.6h.01" stroke="#1cc0b3"/><path d="M1604.8 212.0h.01M1606.0 468.2h.01M1609.1 456.3h.01M1609.8 454.4h.01M1617.2 440.1h.01M1607.5 403.2h.01M1541.0 358.7h.01M1546.9 353.5h.01M1549.3 352.0h.01M1550.9 350.9h.01M1553.4 349.9h.01M1558.4 348.3h.01M1561.3 347.8h.01M1566.0 348.1h.01M1571.7 346.3h.01M1573.3 344.9h.01M1576.0 343.6h.01M1580.6 341.4h.01M1581.8 339.6h.01M1594.3 267.3h.01M1587.9 254.9h.01M1583.7 246.5h.01M1575.2 233.1h.01M1570.3 220.5h.01M1569.1 217.9h.01M1567.7 215.8h.01M1564.1 212.4h.01M1563.4 210.3h.01M1556.6 202.3h.01M1486.4 627.9h.01M1380.3 716.6h.01M1355.9 745.5h.01M1235.1 645.1h.01M1236.8 643.2h.01M1242.1 636.4h.01M1248.9 633.5h.01M1251.3 632.2h.01M1283.5 622.9h.01M1288.0 620.7h.01M1290.5 620.2h.01M1293.0 618.7h.01M1295.0 617.6h.01M1299.7 615.7h.01M1321.3 606.2h.01M1325.5 604.7h.01M1330.1 602.2h.01M1337.0 597.8h.01M1341.4 595.5h.01M1349.9 589.7h.01M1354.0 586.7h.01M1356.2 585.0h.01M1373.3 573.6h.01M1388.3 562.8h.01M1402.2 547.2h.01M1405.0 539.5h.01M1406.1 538.0h.01M1464.5 443.2h.01M1468.9 440.1h.01M1473.1 437.7h.01M1493.1 434.5h.01M1212.5 790.6h.01M1220.2 818.3h.01M1235.1 814.9h.01M1231.1 791.2h.01M1222.9 789.0h.01M1220.7 788.7h.01M1217.8 788.4h.01M1471.9 442.5h.01" stroke="#2bc3a8"/><path d="M1593.2 183.5h.01M1631.4 219.2h.01M1629.9 214.0h.01M1606.0 471.2h.01M1605.3 401.0h.01M1598.6 399.2h.01M1595.4 398.5h.01M1593.7 398.2h.01M1585.8 394.0h.01M1581.8 391.9h.01M1565.3 384.2h.01M1553.6 379.2h.01M1540.3 367.6h.01M1539.9 363.2h.01M1539.8 361.1h.01M1543.2 356.8h.01M1569.6 347.6h.01M1561.6 207.7h.01M1560.3 205.9h.01M1557.9 203.9h.01M1553.7 197.9h.01M1552.5 195.8h.01M1493.5 611.0h.01M1493.1 631.5h.01M1488.3 628.6h.01M1382.6 710.1h.01M1382.1 711.7h.01M1379.5 719.0h.01M1378.2 721.1h.01M1376.7 723.5h.01M1374.7 726.2h.01M1373.7 727.8h.01M1372.4 729.8h.01M1372.2 732.5h.01M1375.2 739.5h.01M1368.9 744.6h.01M1261.3 784.1h.01M1258.9 784.7h.01M1243.8 775.6h.01M1232.8 646.0h.01M1239.0 640.5h.01M1239.9 638.2h.01M1243.8 634.9h.01M1253.2 630.9h.01M1256.5 631.4h.01M1261.4 630.7h.01M1271.1 627.3h.01M1274.1 627.2h.01M1276.1 626.3h.01M1278.2 624.5h.01M1281.1 623.5h.01M1302.3 614.2h.01M1304.6 612.7h.01M1306.1 611.7h.01M1312.1 610.1h.01M1314.2 609.8h.01M1319.4 607.4h.01M1323.4 605.9h.01M1328.2 603.8h.01M1334.8 599.2h.01M1339.9 597.0h.01M1346.3 592.9h.01M1347.9 590.9h.01M1352.4 587.8h.01M1358.8 583.7h.01M1360.3 581.0h.01M1372.0 574.0h.01M1375.9 571.6h.01M1378.0 570.1h.01M1382.0 567.7h.01M1384.2 566.5h.01M1386.2 564.9h.01M1390.8 560.8h.01M1392.6 559.4h.01M1395.0 555.3h.01M1397.1 553.3h.01M1399.1 551.4h.01M1400.6 549.3h.01M1406.5 535.1h.01M1445.1 487.0h.01M1447.1 482.7h.01M1451.4 454.3h.01M1454.0 450.4h.01M1456.1 449.1h.01M1458.4 447.5h.01M1462.7 444.4h.01M1466.8 442.3h.01M1217.8 788.5h.01M1210.2 791.4h.01M1208.2 792.5h.01M1205.0 793.3h.01M1206.4 795.9h.01M1225.0 816.0h.01M1640.8 232.0h.01" stroke="#34c79b"/><path d="M1590.3 175.8h.01M1595.4 185.9h.01M1604.3 210.2h.01M1630.5 216.1h.01M1606.5 473.2h.01M1603.1 400.1h.01M1600.4 398.9h.01M1579.7 390.6h.01M1576.9 389.5h.01M1567.3 384.9h.01M1557.8 380.5h.01M1546.8 375.5h.01M1539.4 365.2h.01M1552.1 193.1h.01M1544.6 179.4h.01M1553.7 484.2h.01M1480.8 596.0h.01M1486.0 610.6h.01M1491.0 610.6h.01M1425.2 641.3h.01M1401.2 662.8h.01M1399.8 665.9h.01M1398.7 686.3h.01M1393.8 692.1h.01M1386.9 703.1h.01M1384.9 705.4h.01M1384.0 707.8h.01M1381.0 715.0h.01M1372.5 734.8h.01M1374.4 737.0h.01M1373.1 744.1h.01M1353.6 745.8h.01M1351.2 748.2h.01M1349.0 749.4h.01M1336.8 763.7h.01M1219.0 657.8h.01M1225.4 652.8h.01M1227.1 651.2h.01M1229.6 649.8h.01M1231.8 648.2h.01M1259.1 630.7h.01M1263.9 630.0h.01M1265.6 629.6h.01M1268.4 628.6h.01M1309.2 610.8h.01M1316.0 607.8h.01M1362.1 580.6h.01M1364.4 579.0h.01M1367.2 576.7h.01M1369.0 576.3h.01M1407.3 532.1h.01M1410.5 523.0h.01M1412.1 517.9h.01M1433.9 498.9h.01M1436.4 496.4h.01M1437.5 495.0h.01M1440.2 493.4h.01M1441.4 492.0h.01M1443.4 489.3h.01M1446.7 485.2h.01M1447.8 479.8h.01M1448.2 477.5h.01M1449.9 472.3h.01M1450.1 462.2h.01M1450.1 460.0h.01M1450.4 457.4h.01M1452.2 452.9h.01M1460.0 445.7h.01M1206.7 798.9h.01M1208.1 801.2h.01M1206.5 805.6h.01M1195.2 824.0h.01M1222.4 817.4h.01M1633.9 221.0h.01M1635.3 223.2h.01M1636.6 225.4h.01M1638.0 227.6h.01M1639.4 229.8h.01M1642.1 234.2h.01M1643.5 236.4h.01M1646.0 240.9h.01M1647.1 243.3h.01M1648.3 245.6h.01" stroke="#41ca8c"/><path d="M1528.3 112.4h.01M1586.9 165.8h.01M1589.3 171.2h.01M1591.8 179.0h.01M1593.1 180.9h.01M1626.2 209.4h.01M1658.2 211.9h.01M1607.5 478.5h.01M1607.3 476.2h.01M1590.4 397.3h.01M1588.1 395.4h.01M1584.1 393.8h.01M1574.6 388.6h.01M1572.5 386.9h.01M1570.7 386.2h.01M1563.2 382.6h.01M1561.1 381.5h.01M1555.4 379.9h.01M1551.0 378.2h.01M1548.6 377.1h.01M1543.8 374.5h.01M1542.7 372.9h.01M1541.3 370.1h.01M1551.1 190.2h.01M1551.2 187.5h.01M1547.9 184.1h.01M1546.5 181.7h.01M1543.5 177.5h.01M1542.1 175.2h.01M1539.4 173.0h.01M1536.7 169.6h.01M1533.4 165.4h.01M1522.8 153.4h.01M1481.5 600.9h.01M1482.2 603.5h.01M1482.7 605.5h.01M1488.4 610.2h.01M1495.9 611.6h.01M1502.5 628.9h.01M1500.3 630.1h.01M1498.5 630.7h.01M1495.8 632.1h.01M1490.7 629.4h.01M1484.6 626.8h.01M1463.9 626.8h.01M1453.6 629.3h.01M1448.4 630.8h.01M1444.5 632.8h.01M1442.1 634.5h.01M1436.3 635.6h.01M1435.0 637.5h.01M1432.2 638.8h.01M1430.0 639.1h.01M1427.2 640.3h.01M1420.3 643.7h.01M1416.3 645.6h.01M1406.5 654.2h.01M1401.9 661.5h.01M1396.6 687.5h.01M1396.0 690.1h.01M1387.6 700.5h.01M1375.4 742.6h.01M1346.7 753.1h.01M1345.9 756.2h.01M1345.5 758.4h.01M1340.5 761.6h.01M1339.1 762.6h.01M1331.5 766.9h.01M1330.1 768.0h.01M1315.1 781.0h.01M1294.1 785.7h.01M1284.9 785.7h.01M1272.0 784.4h.01M1268.7 784.6h.01M1266.1 784.3h.01M1263.8 784.4h.01M1240.8 773.9h.01M1239.2 771.8h.01M1234.4 770.4h.01M1231.5 769.4h.01M1156.6 715.0h.01M1217.1 660.3h.01M1221.1 656.0h.01M1343.5 594.4h.01M1380.1 569.6h.01M1393.6 556.9h.01M1408.9 530.4h.01M1409.6 527.4h.01M1410.4 525.2h.01M1413.2 515.0h.01M1420.2 505.2h.01M1427.9 502.3h.01M1429.9 501.9h.01M1432.4 500.6h.01M1449.7 475.1h.01M1449.7 470.7h.01M1449.9 467.8h.01M1449.4 464.5h.01M1191.8 820.4h.01M1193.4 822.0h.01M1631.1 216.5h.01M1632.5 218.7h.01M1644.8 238.6h.01" stroke="#54cc7c"/><path d="M1523.8 109.2h.01M1526.7 110.3h.01M1541.1 115.8h.01M1587.6 169.1h.01M1595.7 188.3h.01M1597.0 190.6h.01M1627.7 212.6h.01M1607.2 481.2h.01M1549.8 185.5h.01M1538.8 171.4h.01M1531.7 163.3h.01M1530.1 160.9h.01M1528.5 159.9h.01M1521.5 152.0h.01M1511.4 139.3h.01M1496.3 109.7h.01M1493.2 105.4h.01M1487.4 100.2h.01M1485.4 95.9h.01M1490.2 586.8h.01M1483.6 592.2h.01M1484.7 608.5h.01M1498.2 612.2h.01M1500.6 612.5h.01M1471.8 625.7h.01M1458.7 628.0h.01M1456.5 628.5h.01M1446.0 632.1h.01M1439.2 635.6h.01M1418.4 644.4h.01M1413.6 647.7h.01M1412.0 649.1h.01M1409.3 649.8h.01M1408.1 652.9h.01M1404.5 656.4h.01M1402.8 658.2h.01M1399.1 668.1h.01M1399.1 673.5h.01M1399.4 676.6h.01M1400.2 680.7h.01M1399.6 683.4h.01M1392.7 694.2h.01M1390.9 696.3h.01M1389.4 698.9h.01M1347.3 750.9h.01M1343.5 760.2h.01M1334.7 765.0h.01M1327.2 768.8h.01M1325.5 770.7h.01M1324.7 772.7h.01M1323.8 775.5h.01M1321.3 777.3h.01M1319.1 778.1h.01M1292.5 784.7h.01M1286.6 785.3h.01M1281.2 785.6h.01M1279.0 785.6h.01M1276.8 785.7h.01M1273.7 784.7h.01M1237.2 771.7h.01M1221.9 771.1h.01M1202.5 757.7h.01M1157.5 713.9h.01M1159.6 710.9h.01M1167.9 701.1h.01M1214.8 661.2h.01M1223.2 654.7h.01M1413.5 512.8h.01M1414.5 510.0h.01M1415.9 508.7h.01M1417.9 507.3h.01M1422.3 503.9h.01M1425.1 503.5h.01M1208.4 804.1h.01M1205.8 807.3h.01M1204.3 809.6h.01M1203.2 812.3h.01M1198.0 814.3h.01M1623.6 206.0h.01M1625.1 208.1h.01M1626.7 210.2h.01M1628.2 212.2h.01M1629.8 214.3h.01M1651.9 238.7h.01" stroke="#69cd6b"/><path d="M1488.5 84.3h.01M1507.3 99.8h.01M1520.3 105.7h.01M1532.6 114.3h.01M1543.1 115.7h.01M1546.4 115.8h.01M1555.4 120.3h.01M1585.0 159.6h.01M1585.9 163.9h.01M1590.2 173.6h.01M1599.6 194.6h.01M1602.5 204.2h.01M1603.7 207.7h.01M1625.6 207.6h.01M1653.2 209.7h.01M1655.6 210.9h.01M1658.9 213.4h.01M1660.3 218.7h.01M1665.3 262.1h.01M1607.3 483.8h.01M1535.0 167.4h.01M1526.6 157.3h.01M1524.8 155.1h.01M1519.1 149.6h.01M1518.3 147.7h.01M1516.8 145.5h.01M1514.7 144.1h.01M1513.5 141.6h.01M1509.1 137.1h.01M1505.7 134.2h.01M1504.8 131.4h.01M1502.4 123.1h.01M1502.7 120.6h.01M1502.1 117.9h.01M1501.5 115.2h.01M1499.1 114.1h.01M1486.1 97.7h.01M1483.2 93.9h.01M1480.6 88.9h.01M1555.4 486.6h.01M1501.2 580.8h.01M1498.8 581.5h.01M1496.7 583.5h.01M1494.6 583.9h.01M1487.5 588.8h.01M1485.1 589.5h.01M1482.4 594.0h.01M1480.7 598.5h.01M1505.4 614.0h.01M1506.3 625.5h.01M1505.1 627.6h.01M1474.3 625.3h.01M1469.3 625.2h.01M1466.7 626.4h.01M1461.6 627.8h.01M1451.6 630.6h.01M1422.1 642.1h.01M1399.5 670.5h.01M1399.8 678.5h.01M1371.1 744.4h.01M1316.9 779.6h.01M1311.7 781.9h.01M1309.4 782.7h.01M1307.4 782.6h.01M1304.9 783.7h.01M1302.6 783.9h.01M1300.1 784.9h.01M1297.3 785.4h.01M1289.8 784.4h.01M1226.3 770.2h.01M1219.5 770.2h.01M1214.1 767.6h.01M1208.7 763.2h.01M1198.5 757.1h.01M1196.0 756.6h.01M1193.3 757.7h.01M1189.2 759.7h.01M1186.0 761.0h.01M1155.3 717.1h.01M1161.2 709.2h.01M1162.0 706.5h.01M1163.7 705.1h.01M1165.5 703.3h.01M1169.4 699.5h.01M1170.8 696.8h.01M1172.8 695.9h.01M1174.3 694.0h.01M1176.7 691.6h.01M1178.8 689.9h.01M1412.3 520.3h.01M1200.7 813.7h.01M1196.4 815.5h.01M1193.1 816.6h.01M1191.2 818.4h.01M1642.7 223.2h.01M1648.8 231.6h.01M1638.7 209.4h.01M1647.4 215.1h.01M1652.7 220.5h.01M1646.5 211.0h.01M1648.9 211.9h.01M1651.4 212.8h.01" stroke="#81cc59"/><path d="M1479.9 88.0h.01M1494.7 83.6h.01M1497.1 83.7h.01M1501.9 87.0h.01M1502.2 89.6h.01M1503.4 92.5h.01M1504.7 94.5h.01M1509.0 101.2h.01M1510.1 103.5h.01M1512.2 104.0h.01M1515.6 104.4h.01M1518.1 105.0h.01M1522.2 107.6h.01M1530.2 113.1h.01M1535.5 114.9h.01M1537.7 114.9h.01M1551.1 116.6h.01M1558.8 124.3h.01M1560.8 125.9h.01M1562.3 126.4h.01M1573.9 134.8h.01M1576.0 139.4h.01M1579.9 146.5h.01M1582.5 154.4h.01M1585.8 161.8h.01M1598.2 193.1h.01M1600.8 197.8h.01M1600.9 200.2h.01M1630.8 203.5h.01M1648.9 207.7h.01M1660.3 216.3h.01M1659.9 220.7h.01M1657.9 222.7h.01M1659.0 250.1h.01M1662.8 259.8h.01M1667.9 265.2h.01M1669.5 267.5h.01M1680.8 274.9h.01M1682.3 276.1h.01M1687.5 278.5h.01M1690.1 280.0h.01M1704.2 285.1h.01M1711.9 288.8h.01M1713.6 289.7h.01M1726.8 289.9h.01M1755.1 273.4h.01M1756.9 271.2h.01M1760.5 268.0h.01M1779.7 262.0h.01M1608.1 486.1h.01M1507.4 136.3h.01M1503.1 129.4h.01M1502.2 124.7h.01M1497.9 111.0h.01M1494.3 107.9h.01M1491.2 103.9h.01M1489.7 101.3h.01M1481.6 91.5h.01M1556.1 489.6h.01M1558.8 491.5h.01M1566.7 500.2h.01M1527.2 549.7h.01M1520.1 564.4h.01M1506.1 578.0h.01M1503.0 579.2h.01M1492.4 586.0h.01M1503.3 612.8h.01M1506.6 616.5h.01M1508.0 618.5h.01M1507.7 623.4h.01M1481.3 625.3h.01M1479.4 625.5h.01M1229.6 769.5h.01M1223.7 770.8h.01M1216.6 769.3h.01M1210.8 765.7h.01M1207.2 760.6h.01M1200.5 757.1h.01M1190.8 758.9h.01M1183.4 761.4h.01M1149.1 723.5h.01M1151.6 721.7h.01M1180.8 688.4h.01M1490.4 96.5h.01M1497.3 104.2h.01M1500.9 108.0h.01M1502.7 109.9h.01M1628.6 208.0h.01M1632.2 211.7h.01M1634.1 213.5h.01M1635.9 215.4h.01M1637.6 217.3h.01M1639.3 219.3h.01M1641.0 221.2h.01M1647.4 229.5h.01M1649.8 234.0h.01M1650.9 236.4h.01M1636.5 208.0h.01M1640.9 210.8h.01M1649.5 216.6h.01M1651.6 218.1h.01M1653.9 222.8h.01M1653.8 213.7h.01" stroke="#98c947"/><path d="M1481.8 86.8h.01M1483.3 85.3h.01M1485.8 84.5h.01M1491.7 84.9h.01M1499.0 84.2h.01M1500.5 85.2h.01M1505.7 97.1h.01M1548.1 116.2h.01M1552.6 118.0h.01M1556.6 122.1h.01M1564.8 126.4h.01M1567.6 127.1h.01M1569.6 128.1h.01M1570.9 131.2h.01M1572.9 132.6h.01M1575.7 138.1h.01M1577.4 141.9h.01M1578.2 145.0h.01M1580.9 149.9h.01M1582.3 151.9h.01M1583.8 156.8h.01M1602.0 202.3h.01M1624.4 205.7h.01M1622.6 203.4h.01M1628.3 204.1h.01M1632.9 203.8h.01M1635.6 204.6h.01M1638.7 205.2h.01M1640.7 205.5h.01M1643.1 206.1h.01M1645.5 207.4h.01M1650.9 209.4h.01M1656.8 225.1h.01M1657.2 227.7h.01M1654.8 232.6h.01M1655.0 237.5h.01M1656.6 242.5h.01M1657.5 245.4h.01M1658.4 248.3h.01M1660.3 252.9h.01M1660.4 255.5h.01M1662.2 257.9h.01M1666.7 264.2h.01M1674.3 270.9h.01M1676.6 272.6h.01M1678.3 273.8h.01M1685.4 278.1h.01M1692.3 280.5h.01M1694.8 281.7h.01M1697.1 282.2h.01M1699.6 283.9h.01M1702.0 284.4h.01M1707.2 286.1h.01M1716.1 290.0h.01M1719.6 289.6h.01M1722.0 290.2h.01M1731.5 289.4h.01M1733.8 289.3h.01M1741.1 285.5h.01M1745.0 281.8h.01M1750.6 277.4h.01M1753.1 275.4h.01M1758.9 270.2h.01M1765.0 266.2h.01M1769.9 263.5h.01M1772.0 263.8h.01M1782.3 262.8h.01M1790.0 264.7h.01M1769.9 353.7h.01M1771.6 355.5h.01M1770.1 357.0h.01M1746.7 349.3h.01M1730.8 351.5h.01M1722.4 355.7h.01M1714.0 365.7h.01M1712.1 370.8h.01M1501.6 128.1h.01M1559.7 492.9h.01M1562.3 495.1h.01M1563.5 496.7h.01M1565.5 498.4h.01M1568.1 503.3h.01M1569.3 504.9h.01M1529.0 548.1h.01M1525.5 551.9h.01M1516.6 570.3h.01M1513.9 572.1h.01M1512.0 574.0h.01M1510.6 575.4h.01M1508.2 577.2h.01M1509.3 621.1h.01M1477.0 625.2h.01M1212.2 767.1h.01M1205.7 758.7h.01M1181.1 762.7h.01M1152.7 719.4h.01M1211.7 664.8h.01M1213.5 662.9h.01M1492.2 98.4h.01M1495.6 102.3h.01M1499.0 106.2h.01M1504.5 111.7h.01M1630.4 209.8h.01M1645.8 227.4h.01M1643.1 212.1h.01M1645.3 213.6h.01M1655.1 225.1h.01" stroke="#aec637"/><path d="M1625.6 203.1h.01M1655.0 235.3h.01M1655.7 240.2h.01M1672.1 269.4h.01M1708.5 287.3h.01M1723.9 290.8h.01M1729.3 289.9h.01M1737.4 288.0h.01M1739.7 287.0h.01M1743.1 283.9h.01M1746.8 281.0h.01M1748.6 278.4h.01M1762.9 267.0h.01M1767.6 264.4h.01M1774.9 262.6h.01M1785.2 264.1h.01M1787.6 264.2h.01M1765.0 341.9h.01M1767.0 352.9h.01M1768.9 359.7h.01M1768.0 361.0h.01M1760.5 358.5h.01M1758.3 353.6h.01M1757.1 353.0h.01M1753.9 351.7h.01M1752.1 350.6h.01M1744.4 348.7h.01M1738.3 350.0h.01M1728.6 352.4h.01M1726.7 353.7h.01M1724.4 354.1h.01M1720.4 357.3h.01M1717.9 359.1h.01M1713.3 367.5h.01M1710.2 372.5h.01M1711.7 375.4h.01M1715.4 380.9h.01M1716.7 382.6h.01M1610.4 488.7h.01M1531.0 547.0h.01M1522.1 559.7h.01M1521.3 562.1h.01M1517.8 568.7h.01M1145.0 729.2h.01M1146.7 727.3h.01M1148.2 725.5h.01M1182.0 687.1h.01M1184.4 684.4h.01M1484.9 91.0h.01M1486.7 92.8h.01M1644.2 225.3h.01M1623.6 178.0h.01M1633.2 178.6h.01M1637.3 187.3h.01M1629.9 189.6h.01M1627.7 188.1h.01M1626.3 186.0h.01M1626.3 183.0h.01M1628.9 183.0h.01" stroke="#c3c22b"/><path d="M1655.7 230.8h.01M1777.5 262.1h.01M1793.1 265.4h.01M1795.0 267.0h.01M1797.1 267.6h.01M1799.6 268.8h.01M1785.2 319.3h.01M1771.3 330.7h.01M1769.2 333.0h.01M1764.4 346.3h.01M1764.1 348.9h.01M1765.5 350.8h.01M1766.7 363.4h.01M1765.1 365.6h.01M1764.1 363.0h.01M1762.1 360.8h.01M1760.4 356.1h.01M1749.4 350.6h.01M1741.1 349.9h.01M1736.1 350.8h.01M1716.4 361.0h.01M1714.5 363.7h.01M1712.1 377.7h.01M1712.4 380.3h.01M1718.8 383.8h.01M1718.9 386.2h.01M1716.9 391.1h.01M1716.7 394.0h.01M1705.6 415.0h.01M1687.0 438.5h.01M1673.9 454.9h.01M1656.9 478.4h.01M1655.7 479.0h.01M1568.1 506.6h.01M1524.5 554.8h.01M1523.5 557.1h.01M1519.6 566.4h.01M1176.9 763.5h.01M1142.0 733.6h.01M1142.6 731.5h.01M1186.3 683.3h.01M1203.6 671.4h.01M1205.4 669.7h.01M1207.7 668.5h.01M1209.9 666.7h.01M1488.5 94.7h.01M1493.9 100.3h.01M1628.6 176.7h.01M1635.4 179.9h.01M1636.2 182.4h.01M1634.0 191.4h.01M1625.0 183.7h.01" stroke="#d6be28"/><path d="M1802.1 273.4h.01M1798.9 277.2h.01M1794.4 279.3h.01M1794.1 282.2h.01M1790.5 286.9h.01M1786.6 316.7h.01M1782.4 323.3h.01M1777.8 326.9h.01M1776.0 327.6h.01M1767.0 333.8h.01M1767.2 336.8h.01M1766.6 338.6h.01M1765.0 343.7h.01M1733.5 350.0h.01M1717.3 388.8h.01M1715.3 396.5h.01M1714.6 398.3h.01M1713.4 401.0h.01M1711.2 405.9h.01M1709.1 410.1h.01M1699.7 420.3h.01M1698.6 422.2h.01M1692.6 433.2h.01M1689.0 436.8h.01M1682.2 441.9h.01M1681.1 444.4h.01M1678.6 448.0h.01M1677.0 450.5h.01M1675.4 453.0h.01M1671.4 459.6h.01M1669.5 461.0h.01M1668.0 463.7h.01M1666.8 466.0h.01M1666.3 467.9h.01M1665.0 470.9h.01M1662.9 472.3h.01M1613.9 491.1h.01M1611.6 489.7h.01M1534.8 543.0h.01M1533.0 544.7h.01M1179.3 764.2h.01M1173.9 763.3h.01M1170.9 763.1h.01M1142.0 739.0h.01M1142.2 735.9h.01M1188.2 681.4h.01M1190.2 679.5h.01M1192.5 679.2h.01M1194.9 676.8h.01M1196.5 675.6h.01M1198.9 674.6h.01M1636.9 184.9h.01M1635.7 189.3h.01M1632.1 191.0h.01" stroke="#e7bb2e"/><path d="M1801.7 270.4h.01M1801.0 274.3h.01M1792.4 284.5h.01M1789.8 289.5h.01M1789.1 291.2h.01M1789.2 294.3h.01M1788.5 296.7h.01M1787.8 298.8h.01M1787.5 301.7h.01M1788.2 304.5h.01M1787.9 309.7h.01M1787.2 312.3h.01M1787.0 314.4h.01M1784.3 321.8h.01M1780.8 324.9h.01M1712.4 404.2h.01M1710.5 408.8h.01M1706.9 413.2h.01M1703.8 416.0h.01M1702.2 418.7h.01M1697.9 425.3h.01M1697.1 427.7h.01M1695.1 428.9h.01M1690.8 434.9h.01M1684.3 440.4h.01M1679.8 445.7h.01M1672.0 457.3h.01M1661.6 473.8h.01M1653.5 481.4h.01M1644.1 486.3h.01M1641.7 487.6h.01M1637.3 490.7h.01M1634.9 491.5h.01M1618.9 494.3h.01M1616.5 493.8h.01M1565.4 508.5h.01M1563.4 510.9h.01M1539.5 537.1h.01M1538.0 539.5h.01M1535.8 540.7h.01M1165.8 763.1h.01M1160.3 762.5h.01M1158.1 762.1h.01M1149.0 757.1h.01M1145.3 753.3h.01M1142.9 749.4h.01M1142.4 746.8h.01M1142.3 744.2h.01M1140.6 741.9h.01M1201.6 672.0h.01M1626.1 177.4h.01M1630.9 177.3h.01" stroke="#f5ba3b"/><path d="M1797.5 277.9h.01M1787.2 306.6h.01M1773.5 329.2h.01M1693.7 430.8h.01M1659.5 476.4h.01M1651.4 482.1h.01M1649.4 483.7h.01M1646.7 485.8h.01M1639.6 489.7h.01M1633.5 492.7h.01M1630.7 494.2h.01M1620.9 494.9h.01M1560.3 513.8h.01M1557.5 518.5h.01M1168.7 762.6h.01M1163.6 762.4h.01M1155.9 760.9h.01M1154.0 759.9h.01M1150.7 759.1h.01M1147.4 755.4h.01M1144.3 750.8h.01" stroke="#febf3b"/><path d="M1626.3 495.6h.01M1623.3 496.4h.01M1558.3 515.7h.01M1552.8 523.6h.01M1549.4 528.3h.01M1547.7 529.9h.01M1545.6 531.7h.01M1543.9 533.6h.01M1541.2 535.2h.01" stroke="#fec934"/><path d="M1628.4 494.7h.01M1561.5 512.6h.01M1554.0 521.9h.01M1550.2 525.7h.01" stroke="#fbd32e"/><path d="M1554.8 519.8h.01" stroke="#f6dd29"/></g>
<g fill="none" stroke-linecap="round"><path d="M1223.9 812.4h.01" stroke="#98c947" stroke-width="8"/><path d="M1231.9 811.2h.01" stroke="#98c947" stroke-width="8"/><path d="M1228.9 811.1h.01" stroke="#98c947" stroke-width="8"/><path d="M1235.5 814.9h.01" stroke="#98c947" stroke-width="8"/><path d="M1236.2 813.5h.01" stroke="#98c947" stroke-width="8"/><path d="M1231.9 813.8h.01" stroke="#98c947" stroke-width="8"/><path d="M1225.1 814.8h.01" stroke="#98c947" stroke-width="8"/><path d="M1222.9 813.8h.01" stroke="#98c947" stroke-width="8"/><path d="M1233.6 814.6h.01" stroke="#98c947" stroke-width="8"/><path d="M1227.9 817.8h.01" stroke="#98c947" stroke-width="8"/><path d="M1229.8 813.1h.01" stroke="#98c947" stroke-width="8"/><path d="M1230.4 813.3h.01" stroke="#98c947" stroke-width="8"/><path d="M1227.1 813.7h.01" stroke="#98c947" stroke-width="8"/><path d="M1237.8 814.5h.01" stroke="#98c947" stroke-width="8"/><path d="M1222.0 815.1h.01" stroke="#1a1030" stroke-width="4.5"/><path d="M1203.0 825.4h.01" stroke="#4433cd" stroke-width="5.5"/><path d="M1206.4 823.5h.01" stroke="#4433cd" stroke-width="5.5"/><path d="M1210.1 819.9h.01" stroke="#4433cd" stroke-width="5.5"/><path d="M1214.6 817.3h.01" stroke="#4433cd" stroke-width="5.5"/><path d="M1221.3 798.5h.01" stroke="#2e86f8" stroke-width="6"/><path d="M1225.2 802.3h.01" stroke="#3b72fe" stroke-width="6"/><path d="M1228.3 806.2h.01" stroke="#4433cd" stroke-width="5"/><path d="M1232.0 809.6h.01" stroke="#2c8ef1" stroke-width="6"/><path d="M1235.3 813.4h.01" stroke="#2e86f8" stroke-width="6"/><path d="M1492.9 96.5h.01" stroke="#463bdd" stroke-width="5"/><path d="M1490.1 97.2h.01" stroke="#463bdd" stroke-width="5"/><path d="M1491.6 95.6h.01" stroke="#463bdd" stroke-width="5"/><path d="M1490.2 97.5h.01" stroke="#463bdd" stroke-width="5"/><path d="M1595.8 169.6h.01" stroke="#41ca8c" stroke-width="9"/><path d="M1596.8 170.9h.01" stroke="#41ca8c" stroke-width="9"/><path d="M1596.1 165.5h.01" stroke="#41ca8c" stroke-width="9"/><path d="M1600.1 171.6h.01" stroke="#41ca8c" stroke-width="9"/><path d="M1593.8 174.4h.01" stroke="#41ca8c" stroke-width="9"/><path d="M1597.1 171.1h.01" stroke="#41ca8c" stroke-width="9"/><path d="M1598.0 176.3h.01" stroke="#41ca8c" stroke-width="9"/><path d="M1597.4 175.9h.01" stroke="#41ca8c" stroke-width="9"/><path d="M1600.1 168.5h.01" stroke="#41ca8c" stroke-width="9"/><path d="M1594.6 174.0h.01" stroke="#41ca8c" stroke-width="9"/><path d="M1248.4 782.6h.01" stroke="#4433cd" stroke-width="8"/><path d="M1254.6 784.6h.01" stroke="#4433cd" stroke-width="8"/><path d="M1253.0 780.3h.01" stroke="#4433cd" stroke-width="8"/><path d="M1255.7 783.7h.01" stroke="#4433cd" stroke-width="8"/><path d="M1253.8 783.9h.01" stroke="#4433cd" stroke-width="8"/><path d="M1249.0 781.2h.01" stroke="#4433cd" stroke-width="8"/><path d="M1249.8 785.4h.01" stroke="#4433cd" stroke-width="8"/><path d="M1249.7 782.5h.01" stroke="#4433cd" stroke-width="8"/><path d="M1364.2 743.8h.01" stroke="#2e86f8" stroke-width="8"/><path d="M1365.5 743.3h.01" stroke="#2e86f8" stroke-width="8"/><path d="M1363.7 740.5h.01" stroke="#2e86f8" stroke-width="8"/><path d="M1364.9 743.3h.01" stroke="#2e86f8" stroke-width="8"/><path d="M1366.5 742.6h.01" stroke="#2e86f8" stroke-width="8"/><path d="M1360.1 741.7h.01" stroke="#463bdd" stroke-width="5"/><path d="M1359.8 739.7h.01" stroke="#463bdd" stroke-width="5"/><path d="M1359.9 741.4h.01" stroke="#463bdd" stroke-width="5"/><path d="M1269.0 637.7h.01" stroke="#463bdd" stroke-width="4"/><path d="M1268.7 637.7h.01" stroke="#463bdd" stroke-width="4"/><path d="M1491.8 444.3h.01" stroke="#fff" stroke-width="4"/><path d="M1491.5 444.0h.01" stroke="#fff" stroke-width="4"/><path d="M1542.3 476.9h.01" stroke="#4433cd" stroke-width="6"/><path d="M1552.4 479.5h.01" stroke="#4433cd" stroke-width="6"/><path d="M1552.6 480.4h.01" stroke="#4433cd" stroke-width="6"/><path d="M1546.0 480.1h.01" stroke="#4433cd" stroke-width="6"/><path d="M1556.0 478.5h.01" stroke="#4433cd" stroke-width="6"/><path d="M1553.7 478.2h.01" stroke="#4433cd" stroke-width="6"/><path d="M1540.1 478.7h.01" stroke="#4433cd" stroke-width="6"/><path d="M1542.9 478.7h.01" stroke="#4433cd" stroke-width="6"/><path d="M1544.9 479.0h.01" stroke="#4433cd" stroke-width="6"/><path d="M1541.3 480.2h.01" stroke="#4433cd" stroke-width="6"/><path d="M1554.6 478.0h.01" stroke="#4433cd" stroke-width="6"/><path d="M1542.5 478.5h.01" stroke="#4433cd" stroke-width="6"/><path d="M1542.1 476.8h.01" stroke="#4433cd" stroke-width="6"/><path d="M1541.3 473.3h.01" stroke="#4433cd" stroke-width="6"/><path d="M1539.0 478.0h.01" stroke="#4433cd" stroke-width="6"/><path d="M1541.1 473.5h.01" stroke="#4433cd" stroke-width="6"/><path d="M1762.4 354.7h.01" stroke="#463bdd" stroke-width="4"/><path d="M1762.1 355.8h.01" stroke="#463bdd" stroke-width="4"/><path d="M1763.3 355.8h.01" stroke="#463bdd" stroke-width="4"/><path d="M1771.8 354.3h.01" stroke="#41ca8c" stroke-width="6"/><path d="M1771.5 356.9h.01" stroke="#41ca8c" stroke-width="6"/><path d="M1584.9 335.2h.01" stroke="#4433cd" stroke-width="4"/><path d="M1588.5 335.6h.01" stroke="#4433cd" stroke-width="4"/><path d="M1586.2 336.1h.01" stroke="#4433cd" stroke-width="4"/><path d="M1559.9 506.4h.01" stroke="#4433cd" stroke-width="4"/><path d="M1560.9 505.6h.01" stroke="#4433cd" stroke-width="4"/><path d="M1561.1 506.7h.01" stroke="#4433cd" stroke-width="4"/><path d="M1607.0 468.2h.01" stroke="#4433cd" stroke-width="4"/><path d="M1606.7 471.5h.01" stroke="#4433cd" stroke-width="4"/></g>
<g fill="none" stroke-width="2.3"><circle cx="1219.7" cy="777.7" r="3.8" stroke="#49cb85"/><circle cx="1480.1" cy="625.0" r="5.0" stroke="#463adb" fill="#bfc32d"/><circle cx="1400.4" cy="666.5" r="4.2" stroke="#463adb"/><circle cx="1269.2" cy="781.9" r="4.9" stroke="#463adb"/><circle cx="1280.7" cy="786.8" r="4.6" stroke="#463adb"/><circle cx="1289.0" cy="785.7" r="4.6" stroke="#463adb"/><circle cx="1377.0" cy="571.0" r="3.0" stroke="#463adb"/><circle cx="1371.0" cy="573.0" r="3.0" stroke="#463adb"/><circle cx="1353.3" cy="583.0" r="3.0" stroke="#463adb"/></g>
<circle cx="1451.2" cy="71.6" r="4.9" fill="#fff" stroke="#12beb9" stroke-width="2.9"/><circle cx="1451.2" cy="71.6" r="1.9" fill="#1a1030"/><circle cx="1593.2" cy="145.3" r="4.9" fill="#fff" stroke="#2cc4a7" stroke-width="2.9"/><circle cx="1593.2" cy="145.3" r="1.9" fill="#1a1030"/><circle cx="1613.6" cy="171.6" r="4.9" fill="#fff" stroke="#2cc4a7" stroke-width="2.9"/><circle cx="1613.6" cy="171.6" r="1.9" fill="#1a1030"/><circle cx="1611.4" cy="187.1" r="4.9" fill="#fff" stroke="#40ca8e" stroke-width="2.9"/><circle cx="1611.4" cy="187.1" r="1.9" fill="#1a1030"/><circle cx="1649.1" cy="201.0" r="4.9" fill="#fff" stroke="#40ca8e" stroke-width="2.9"/><circle cx="1649.1" cy="201.0" r="1.9" fill="#1a1030"/><circle cx="1666.2" cy="231.4" r="4.9" fill="#fff" stroke="#32c69f" stroke-width="2.9"/><circle cx="1666.2" cy="231.4" r="1.9" fill="#1a1030"/><circle cx="1675.0" cy="249.9" r="4.9" fill="#fff" stroke="#32c69f" stroke-width="2.9"/><circle cx="1675.0" cy="249.9" r="1.9" fill="#1a1030"/><circle cx="1684.7" cy="268.5" r="4.9" fill="#fff" stroke="#5ecc74" stroke-width="2.9"/><circle cx="1684.7" cy="268.5" r="1.9" fill="#1a1030"/><circle cx="1725.6" cy="263.1" r="4.9" fill="#fff" stroke="#40ca8e" stroke-width="2.9"/><circle cx="1725.6" cy="263.1" r="1.9" fill="#1a1030"/><circle cx="1714.1" cy="282.4" r="4.9" fill="#fff" stroke="#5ecc74" stroke-width="2.9"/><circle cx="1714.1" cy="282.4" r="1.9" fill="#1a1030"/><circle cx="1167.8" cy="782.1" r="4.9" fill="#fff" stroke="#71cd64" stroke-width="2.9"/><circle cx="1167.8" cy="782.1" r="1.9" fill="#1a1030"/>
<rect x="1581.0" y="215.2" width="26.4" height="26.4" fill="#fff"/><rect x="1585.1" y="219.3" width="18.2" height="18.2" fill="#000"/><rect x="1578.9" y="468.2" width="26.4" height="26.4" fill="#fff"/><rect x="1583.0" y="472.3" width="18.2" height="18.2" fill="#000"/><rect x="1463.3" y="593.0" width="26.4" height="26.4" fill="#fff"/><rect x="1467.4" y="597.1" width="18.2" height="18.2" fill="#000"/>
<rect x="1064.0" y="62.9" width="813.4" height="799.8" fill="none" stroke="#000" stroke-width="2"/><path d="M1335.7 62.9v8M1335.7 862.7v-8M1607.6 62.9v8M1607.6 862.7v-8M1064.0 118.7h8.5M1877.4 118.7h-8.5M1064.0 404.3h8.5M1877.4 404.3h-8.5M1064.0 693.0h8.5M1877.4 693.0h-8.5" stroke="#000" stroke-width="2" fill="none"/>
<text x="1066.2" y="929.0" text-anchor="middle" class="t">165</text><text x="1337.9" y="929.0" text-anchor="middle" class="t">170</text><text x="1609.8" y="929.0" text-anchor="middle" class="t">175</text><text x="1879.6" y="929.0" text-anchor="middle" class="t">180</text><text x="1044.6" y="137.7" text-anchor="end" class="t">-35</text><text x="1044.6" y="423.3" text-anchor="end" class="t">-40</text><text x="1044.6" y="712.0" text-anchor="end" class="t">-45</text><text x="979.6" y="91.0" class="L">B</text><text x="1472.7" y="41.6" text-anchor="middle" class="T">1,000-year return period</text>
</g>
<g id="panelC">
<path d="M506.7 1065.1L510.9 1061.9L517.1 1061.1L527.4 1060.3L531.1 1070.0L536.3 1079.6L546.7 1081.9L557.1 1089.9L569.0 1092.1L579.4 1093.6L586.8 1101.8L597.2 1104.7L601.6 1112.2L606.1 1121.1L610.5 1131.5L613.5 1140.4L616.5 1149.3L620.9 1159.6L625.4 1168.5L629.1 1177.4L631.3 1184.9L632.9 1190.4L639.9 1194.4L644.9 1202.4L647.9 1212.4L651.9 1221.4L659.9 1225.4L665.9 1220.4L666.9 1212.4L662.9 1202.4L657.9 1192.4L652.9 1184.5L650.4 1179.5L659.9 1180.5L671.9 1183.5L684.9 1187.5L688.9 1193.4L684.9 1200.4L682.3 1211.3L685.2 1223.2L689.7 1235.0L697.1 1243.9L707.5 1251.4L719.4 1257.3L731.2 1261.7L743.1 1266.2L755.0 1266.9L765.4 1264.7L772.8 1258.8L780.2 1251.4L787.6 1245.4L796.5 1240.2L806.9 1238.7L817.3 1241.0L827.7 1245.4L830.5 1249.6L826.4 1253.4L822.6 1256.1L819.4 1261.4L817.6 1266.0L815.6 1275.9L815.1 1285.7L814.6 1293.6L809.7 1300.5L801.8 1305.4L794.9 1310.4L792.4 1320.3L791.9 1327.2L799.5 1331.4L792.7 1341.8L785.9 1329.3L772.8 1325.4L760.9 1326.9L750.5 1331.4L742.4 1338.8L738.2 1349.2L739.4 1355.8L747.0 1360.6L743.5 1371.3L739.9 1380.6L734.9 1389.1L727.8 1396.2L723.5 1404.8L717.0 1412.6L708.5 1419.8L703.5 1428.3L697.0 1437.6L692.8 1446.2L685.6 1453.3L677.0 1459.8L668.5 1464.8L659.9 1469.1L652.0 1472.6L645.6 1470.7L640.4 1467.2L635.4 1462.2L634.2 1450.2L632.7 1439.0L637.2 1431.6L641.6 1422.7L645.3 1413.8L646.8 1404.9L646.1 1396.0L643.1 1387.2L637.2 1379.8L628.3 1375.8L619.4 1373.8L610.5 1369.4L600.1 1363.5L589.7 1359.0L579.3 1354.5L570.4 1350.1L566.0 1342.7L567.4 1335.3L574.9 1328.6L585.2 1324.9L597.1 1323.4L606.9 1318.9L612.4 1310.8L613.4 1302.6L613.9 1292.3L615.9 1281.0L620.0 1269.2L623.9 1257.9L622.4 1245.9L616.9 1234.4L611.4 1223.9L604.9 1214.4L600.9 1204.1L595.7 1193.7L588.3 1183.4L580.4 1174.0L577.9 1164.0L570.5 1153.7L561.6 1143.3L552.7 1132.9L543.8 1122.6L534.9 1112.2L528.4 1104.5L530.4 1095.0L523.0 1085.6L514.1 1075.2ZM528.9 1412.4L527.4 1422.2L528.9 1433.1L527.4 1443.5L531.8 1454.7L539.2 1456.2L546.7 1449.4L555.6 1443.5L563.0 1439.0L569.9 1446.2L577.9 1454.2L582.8 1464.1L588.5 1470.5L594.2 1476.9L597.0 1481.0L589.9 1487.6L583.5 1494.7L577.8 1502.5L572.0 1509.0L565.6 1514.7L560.6 1520.4L554.2 1525.4L551.3 1531.8L548.5 1538.2L544.9 1544.7L539.9 1550.4L532.8 1554.7L525.6 1558.2L518.5 1561.8L512.0 1566.1L508.5 1570.4L507.9 1576.1L511.9 1586.1L521.0 1587.5L531.4 1588.9L536.4 1596.3L531.9 1604.0L522.5 1608.2L514.4 1604.0L507.6 1601.0L497.2 1601.5L486.8 1603.7L476.5 1606.7L466.1 1611.1L455.7 1615.6L445.3 1620.0L436.4 1626.0L430.5 1633.4L426.9 1641.5L425.9 1648.5L427.0 1659.6L421.3 1668.1L414.2 1676.7L409.2 1686.0L407.0 1694.5L402.0 1701.6L398.5 1708.0L401.3 1714.5L402.4 1718.4L396.9 1721.1L389.2 1719.4L381.3 1721.6L374.2 1726.6L372.8 1733.0L367.0 1738.0L359.9 1741.6L352.8 1745.9L349.9 1751.6L344.2 1755.9L337.0 1758.0L329.9 1759.5L322.8 1761.6L316.5 1760.8L306.1 1761.9L294.2 1759.8L282.3 1760.3L273.4 1754.3L266.0 1748.4L257.1 1745.4L246.7 1746.9L237.8 1742.5L231.9 1735.0L223.0 1732.1L214.1 1736.5L205.2 1739.5L194.8 1738.7L184.4 1738.0L175.5 1733.6L169.6 1726.1L167.3 1717.2L168.8 1708.3L174.0 1700.9L181.4 1693.5L187.4 1684.7L194.8 1675.8L203.7 1666.9L214.1 1658.0L224.5 1650.6L234.9 1643.2L243.8 1635.7L252.7 1628.3L261.6 1620.9L269.0 1612.0L277.9 1607.5L288.3 1606.8L300.1 1603.1L310.5 1598.6L320.9 1594.2L332.8 1588.4L344.6 1583.9L355.0 1579.5L365.4 1573.5L375.8 1566.6L384.5 1559.6L394.8 1552.6L403.8 1547.4L412.7 1541.5L420.1 1534.1L427.5 1525.2L431.9 1516.3L434.9 1507.4L438.6 1497.0L440.8 1486.7L446.8 1481.5L457.2 1477.8L466.1 1470.4L473.5 1461.5L476.5 1451.1L476.5 1440.7L477.9 1430.3L485.4 1422.9L495.7 1417.0L506.1 1411.0L516.5 1410.3ZM243.8 1764.7L231.9 1769.2L234.9 1779.5L228.9 1788.4L217.1 1794.3L223.0 1800.2L234.9 1800.2L240.9 1795.8L248.2 1793.3L254.9 1790.8L261.6 1791.3L267.5 1782.5L266.0 1773.6L258.6 1767.7L250.9 1764.9Z" fill="#f5f4fc"/>
<g fill="none" stroke-linecap="round" stroke-width="9"><path d="M551.6 1116.2h.01M554.6 1118.4h.01M557.4 1114.6h.01M592.9 1169.1h.01M603.3 1171.3h.01M602.9 1167.5h.01M633.7 1253.8h.01M632.0 1256.2h.01M616.1 1311.9h.01M614.7 1312.2h.01M502.8 1421.1h.01M502.2 1420.3h.01M528.6 1455.6h.01M535.9 1460.1h.01M537.3 1461.1h.01" stroke="#412dbb"/><path d="M564.9 1098.3h.01M565.8 1098.0h.01M560.1 1097.7h.01M554.4 1116.4h.01M556.5 1118.5h.01M551.3 1118.0h.01M553.1 1117.2h.01M560.6 1116.6h.01M555.3 1117.7h.01M560.0 1115.7h.01M558.5 1115.2h.01M558.7 1116.3h.01M556.1 1114.6h.01M558.1 1117.8h.01M588.3 1114.7h.01M589.4 1114.8h.01M598.2 1167.0h.01M603.0 1161.0h.01M596.4 1157.7h.01M594.6 1165.5h.01M604.5 1166.1h.01M590.0 1162.1h.01M600.0 1162.9h.01M601.0 1164.9h.01M599.1 1168.3h.01M594.3 1163.4h.01M594.7 1159.5h.01M604.5 1165.2h.01M590.1 1165.1h.01M596.3 1157.9h.01M596.4 1158.6h.01M603.0 1160.7h.01M593.4 1161.4h.01M602.5 1167.2h.01M604.4 1164.2h.01M603.4 1172.6h.01M602.7 1165.7h.01M605.2 1164.6h.01M605.7 1167.8h.01M619.9 1227.3h.01M619.0 1227.3h.01M619.1 1226.3h.01M622.7 1175.3h.01M620.8 1176.9h.01M633.6 1254.9h.01M629.3 1250.9h.01M632.4 1254.5h.01M613.5 1310.9h.01M742.9 1272.0h.01M743.5 1272.5h.01M666.0 1198.9h.01M674.8 1212.5h.01M635.4 1447.0h.01M634.0 1446.1h.01M526.3 1458.0h.01M528.6 1457.6h.01M534.0 1460.7h.01M249.9 1646.2h.01M250.9 1647.3h.01M248.8 1648.8h.01M248.7 1645.3h.01M250.3 1646.2h.01" stroke="#4433cd"/><path d="M515.7 1073.4h.01M515.6 1072.9h.01M599.5 1170.9h.01M596.6 1170.8h.01M593.3 1162.3h.01M600.4 1165.9h.01M603.3 1163.8h.01M594.5 1157.9h.01M593.5 1170.8h.01M600.9 1160.5h.01M633.4 1253.6h.01M629.5 1272.5h.01M630.1 1273.6h.01M629.8 1268.0h.01M628.7 1274.3h.01M626.1 1269.4h.01M668.0 1197.0h.01M674.3 1212.9h.01M251.5 1647.5h.01M249.3 1648.8h.01M252.0 1646.6h.01" stroke="#463bdd"/><path d="M599.5 1141.3h.01M599.9 1140.2h.01M597.9 1141.6h.01M599.1 1140.7h.01M600.7 1140.7h.01M627.5 1270.8h.01" stroke="#4744e8"/><path d="M599.0 1140.4h.01M697.4 1253.2h.01M697.3 1252.8h.01M702.7 1257.1h.01M701.6 1256.9h.01" stroke="#484df0"/><path d="M593.2 1173.6h.01M586.7 1174.8h.01M593.9 1181.4h.01M600.6 1176.4h.01M598.4 1176.6h.01M595.3 1186.1h.01M590.2 1188.0h.01M592.0 1173.9h.01M595.3 1182.0h.01M589.3 1176.1h.01M597.4 1172.2h.01M592.1 1176.8h.01M587.4 1175.3h.01M600.3 1178.4h.01M588.6 1174.5h.01M626.3 1259.6h.01M624.5 1261.0h.01M697.6 1252.7h.01" stroke="#4756f7"/><path d="M585.4 1183.5h.01M601.5 1181.8h.01M589.1 1181.0h.01M595.1 1184.0h.01M590.1 1187.0h.01M596.0 1186.1h.01M589.0 1177.9h.01M598.7 1173.4h.01M591.5 1172.0h.01M588.9 1181.9h.01M600.6 1179.8h.01M595.3 1179.1h.01M597.6 1180.9h.01M592.4 1180.9h.01M600.8 1180.9h.01M593.0 1176.7h.01M591.6 1174.3h.01M596.4 1179.0h.01M601.6 1177.3h.01M587.2 1174.4h.01M588.5 1185.2h.01M591.3 1177.1h.01M585.2 1178.6h.01M589.8 1188.2h.01M583.3 1164.0h.01M582.6 1163.7h.01M581.0 1163.7h.01M625.4 1260.2h.01M691.8 1249.4h.01M690.8 1248.3h.01M253.3 1780.8h.01" stroke="#465ffb"/><path d="M596.1 1188.8h.01M619.0 1224.5h.01M621.3 1219.8h.01M616.6 1222.7h.01M621.0 1221.9h.01M619.5 1222.0h.01M618.3 1220.8h.01M617.0 1224.3h.01M622.0 1223.9h.01M585.0 1164.1h.01M582.2 1165.9h.01M584.5 1167.7h.01M580.6 1163.8h.01M585.2 1167.5h.01M581.5 1162.5h.01M686.6 1242.8h.01M684.9 1242.4h.01M686.7 1245.3h.01M692.7 1248.9h.01M692.4 1248.5h.01M250.0 1781.9h.01M251.7 1779.8h.01M252.6 1780.0h.01" stroke="#4369fe"/><path d="M587.6 1177.4h.01M583.4 1173.8h.01M586.2 1174.1h.01M586.3 1173.1h.01M587.9 1174.1h.01M586.7 1174.9h.01M581.4 1164.5h.01" stroke="#3b72fe"/><path d="M586.6 1177.2h.01M583.4 1174.9h.01M602.7 1188.0h.01M599.5 1187.7h.01M516.2 1429.9h.01M517.1 1424.1h.01M517.9 1425.9h.01M515.1 1430.8h.01M509.7 1430.4h.01M517.3 1429.8h.01M509.6 1425.3h.01M517.5 1429.4h.01M576.0 1426.4h.01M583.3 1433.5h.01M568.9 1442.5h.01M570.6 1434.8h.01M592.5 1437.2h.01M581.3 1439.2h.01M569.0 1432.6h.01M594.7 1432.1h.01M595.2 1437.9h.01M588.2 1452.2h.01M580.7 1421.1h.01M581.5 1424.2h.01M582.0 1423.7h.01M580.6 1418.7h.01M579.1 1424.1h.01" stroke="#327cfc"/><path d="M599.4 1188.1h.01M597.3 1187.6h.01M603.6 1187.7h.01M627.2 1430.1h.01M624.0 1430.6h.01M622.6 1435.8h.01M630.6 1431.2h.01M627.2 1431.1h.01M627.6 1434.1h.01M628.0 1436.1h.01M627.6 1434.5h.01M621.6 1432.4h.01M627.0 1427.3h.01M623.9 1428.8h.01M629.8 1433.1h.01M516.6 1429.5h.01M510.7 1424.6h.01M507.7 1424.3h.01M517.8 1429.7h.01M518.8 1423.5h.01M511.3 1430.8h.01M523.4 1424.4h.01M522.1 1430.3h.01M523.0 1426.2h.01M521.8 1427.9h.01M525.1 1422.0h.01M575.7 1437.9h.01M580.8 1448.6h.01M600.8 1430.9h.01M587.8 1452.8h.01M568.4 1433.0h.01M594.8 1447.4h.01M585.3 1439.1h.01M582.7 1442.8h.01M598.5 1430.4h.01M581.4 1437.4h.01M602.6 1442.1h.01M602.1 1432.8h.01M576.4 1440.4h.01M590.8 1431.1h.01M598.7 1428.3h.01M589.4 1451.3h.01M583.3 1430.4h.01M578.8 1424.6h.01M586.7 1447.9h.01M582.8 1432.3h.01M576.3 1427.0h.01M574.1 1448.5h.01M586.3 1447.9h.01M598.8 1433.4h.01M600.8 1447.7h.01M572.0 1443.5h.01M576.7 1434.2h.01M584.8 1453.5h.01M585.2 1431.3h.01M582.3 1450.8h.01M576.8 1439.2h.01M587.7 1428.0h.01M567.4 1438.7h.01M586.3 1432.8h.01M569.4 1444.3h.01M588.7 1425.4h.01M587.5 1451.2h.01M588.1 1444.8h.01M573.3 1443.4h.01M572.2 1434.3h.01M587.3 1431.7h.01M595.2 1441.6h.01M574.9 1431.2h.01M599.5 1446.8h.01M589.4 1446.3h.01M593.1 1426.8h.01M596.2 1443.0h.01M588.7 1438.6h.01M568.4 1440.1h.01M569.1 1443.0h.01M593.9 1441.1h.01M576.8 1444.6h.01M586.3 1425.6h.01M586.1 1447.2h.01M567.1 1442.9h.01M577.7 1446.2h.01M596.6 1441.7h.01M582.2 1436.1h.01M594.5 1430.0h.01M572.6 1448.8h.01M587.3 1448.4h.01M589.3 1445.4h.01M587.8 1449.9h.01M600.5 1438.6h.01M590.5 1433.7h.01M580.8 1430.2h.01M584.5 1441.4h.01M570.6 1448.8h.01M582.8 1431.1h.01M595.4 1435.5h.01M586.5 1425.7h.01M579.7 1448.1h.01M600.4 1446.7h.01M580.5 1438.7h.01M577.6 1444.0h.01M582.1 1437.6h.01M580.2 1448.8h.01M582.3 1431.3h.01M582.5 1426.3h.01M581.9 1452.4h.01M575.1 1444.8h.01M582.0 1448.3h.01M585.7 1442.3h.01M569.3 1433.4h.01M575.6 1425.7h.01M578.5 1423.6h.01M579.9 1425.3h.01M584.3 1425.7h.01M584.6 1425.3h.01M585.4 1423.4h.01M596.4 1445.4h.01M598.5 1451.8h.01M603.4 1444.4h.01M599.5 1454.7h.01M595.5 1443.0h.01M596.9 1452.8h.01M596.6 1443.7h.01M596.6 1450.9h.01M600.9 1447.4h.01M598.6 1452.7h.01M602.2 1447.7h.01M598.7 1444.7h.01M604.3 1448.2h.01M593.3 1452.5h.01M590.9 1453.4h.01" stroke="#2e86f8"/><path d="M538.5 1097.7h.01M538.8 1097.3h.01M625.4 1436.0h.01M626.0 1429.3h.01M628.8 1428.8h.01M625.1 1433.6h.01M625.8 1433.1h.01M622.3 1435.6h.01M525.9 1425.0h.01M523.6 1426.7h.01M529.7 1426.7h.01M525.1 1426.5h.01M526.8 1430.1h.01M522.3 1425.8h.01M524.3 1426.3h.01M528.6 1426.0h.01M519.9 1427.7h.01M591.6 1434.9h.01M590.8 1440.8h.01M588.4 1439.0h.01M583.5 1453.4h.01M580.2 1441.2h.01M602.6 1444.8h.01M572.4 1431.8h.01M580.3 1432.5h.01M573.7 1437.8h.01M590.1 1446.7h.01M574.6 1444.2h.01M572.3 1439.5h.01M573.8 1445.4h.01M571.8 1445.0h.01M594.8 1452.4h.01M591.7 1456.4h.01M592.8 1451.9h.01" stroke="#2c8ef1"/><path d="M549.6 1127.2h.01M547.7 1126.0h.01M649.9 1210.5h.01M656.4 1210.3h.01M650.8 1207.1h.01M651.0 1216.8h.01M657.6 1221.5h.01M655.2 1217.8h.01M651.1 1220.4h.01M657.5 1209.7h.01M656.0 1219.8h.01M652.3 1218.5h.01M659.4 1221.4h.01M655.7 1209.3h.01M654.8 1204.2h.01M654.2 1200.7h.01M656.3 1205.0h.01M648.9 1208.5h.01M572.1 1433.4h.01M575.2 1428.5h.01M582.2 1432.0h.01M572.4 1433.5h.01M588.1 1446.1h.01M588.9 1446.1h.01M591.1 1444.7h.01M275.3 1750.5h.01M272.9 1750.6h.01M274.2 1752.3h.01" stroke="#2797eb"/><path d="M549.3 1126.8h.01M617.7 1175.0h.01M619.5 1177.8h.01M618.9 1178.3h.01M619.0 1176.6h.01M615.5 1181.8h.01M619.5 1179.7h.01M639.8 1196.3h.01M644.9 1210.0h.01M650.8 1200.0h.01M651.3 1201.2h.01M639.2 1196.9h.01M638.8 1200.3h.01M642.1 1205.0h.01M643.5 1208.9h.01M644.6 1202.5h.01M639.1 1206.9h.01M652.7 1200.8h.01M651.7 1205.3h.01M637.2 1200.2h.01M652.1 1200.4h.01M642.7 1199.6h.01M645.4 1203.4h.01M642.1 1200.9h.01M652.7 1201.3h.01M642.3 1205.1h.01M656.0 1210.5h.01M658.1 1215.0h.01M653.8 1212.4h.01M653.6 1213.8h.01M649.1 1212.2h.01M651.5 1218.9h.01M655.6 1206.2h.01M658.7 1215.8h.01M651.8 1216.5h.01M652.9 1220.4h.01M662.8 1219.2h.01M650.1 1212.0h.01M654.0 1209.9h.01M660.2 1216.9h.01M654.2 1207.9h.01M663.5 1210.2h.01M653.6 1219.6h.01M658.2 1220.8h.01M657.8 1208.1h.01M659.4 1211.2h.01M649.4 1212.6h.01M663.0 1212.9h.01M645.0 1204.6h.01M652.6 1207.4h.01M654.6 1211.2h.01M652.0 1212.4h.01M644.8 1205.6h.01M656.5 1205.3h.01M645.8 1206.6h.01M653.5 1201.4h.01M652.4 1202.1h.01M648.6 1207.7h.01M652.2 1210.8h.01M273.7 1751.1h.01" stroke="#249ee6"/><path d="M599.0 1139.7h.01M616.3 1176.7h.01M619.5 1176.3h.01M618.6 1184.4h.01M617.8 1181.0h.01M644.7 1207.1h.01M643.1 1203.4h.01M652.3 1203.9h.01M647.6 1207.0h.01M643.4 1200.0h.01M648.7 1207.9h.01M648.8 1200.7h.01M641.0 1202.7h.01M640.4 1198.6h.01M644.5 1197.1h.01M646.3 1194.5h.01M663.2 1210.2h.01M241.8 1792.8h.01M239.0 1790.0h.01M241.8 1793.7h.01" stroke="#1fa6e2"/><path d="M283.2 1770.2h.01M261.8 1783.2h.01M256.5 1776.3h.01M251.0 1775.1h.01M240.5 1795.8h.01" stroke="#19addc"/><path d="M580.9 1105.9h.01M625.2 1187.8h.01M616.8 1187.9h.01M624.0 1188.3h.01M620.5 1187.5h.01M624.8 1187.5h.01M629.2 1189.1h.01M623.9 1189.1h.01M621.1 1185.3h.01M619.8 1186.6h.01M285.1 1770.5h.01M278.3 1765.9h.01M283.3 1769.5h.01M282.1 1770.1h.01M272.6 1763.4h.01M257.7 1773.7h.01M259.4 1780.5h.01M255.6 1781.1h.01M253.2 1777.3h.01M258.5 1783.2h.01M257.3 1776.0h.01M259.1 1782.7h.01M255.9 1775.6h.01M260.4 1774.5h.01M248.9 1773.1h.01M249.4 1775.8h.01M248.0 1773.7h.01M249.7 1770.9h.01M256.5 1788.9h.01M254.8 1789.6h.01" stroke="#0db3d3"/><path d="M579.2 1106.3h.01M623.6 1188.7h.01M624.2 1189.2h.01M620.7 1189.8h.01M618.3 1187.8h.01M621.0 1185.3h.01M624.9 1189.8h.01M622.0 1187.9h.01M278.9 1771.1h.01M283.5 1767.4h.01M282.6 1773.6h.01M277.1 1769.5h.01M275.8 1770.8h.01M279.3 1772.5h.01M273.3 1766.0h.01M269.2 1765.4h.01M273.1 1763.6h.01M256.0 1782.6h.01M256.0 1784.3h.01M260.6 1777.6h.01M254.1 1778.7h.01M256.7 1774.5h.01M248.1 1773.6h.01M249.8 1773.1h.01M252.0 1779.4h.01M242.9 1775.5h.01M244.4 1770.5h.01M243.7 1769.1h.01M238.4 1770.7h.01M243.5 1770.4h.01M245.8 1772.4h.01M245.9 1769.1h.01M239.4 1774.2h.01M236.7 1781.2h.01M235.2 1776.3h.01M238.5 1780.5h.01M238.8 1780.1h.01M240.8 1777.4h.01M244.4 1787.1h.01M241.3 1786.3h.01M245.8 1785.1h.01M255.5 1788.6h.01M254.8 1786.0h.01M254.5 1784.2h.01M258.6 1787.1h.01" stroke="#01b8c9"/><path d="M521.7 1603.4h.01M519.9 1602.6h.01M284.8 1765.4h.01M242.2 1775.0h.01M243.1 1775.4h.01M238.8 1782.7h.01M240.3 1775.9h.01M237.5 1779.1h.01M241.2 1778.7h.01M232.7 1784.5h.01M229.7 1788.5h.01M232.1 1790.4h.01M235.2 1785.8h.01M242.0 1783.8h.01M245.2 1783.5h.01M241.1 1786.3h.01" stroke="#08bcbf"/><path d="M522.4 1603.4h.01M521.3 1605.1h.01M522.8 1600.9h.01M235.1 1775.7h.01M234.8 1789.4h.01M229.0 1786.7h.01M231.0 1789.6h.01M232.1 1790.5h.01M225.8 1790.5h.01M224.0 1793.6h.01M222.3 1793.9h.01M223.8 1793.7h.01M227.5 1790.3h.01M229.0 1794.5h.01" stroke="#1cc0b3"/><path d="M524.6 1597.3h.01M521.2 1594.7h.01M225.0 1791.5h.01M224.7 1793.4h.01" stroke="#2bc3a8"/><path d="M522.0 1594.8h.01M519.6 1594.6h.01M524.3 1595.8h.01M526.5 1594.8h.01M528.5 1597.9h.01M530.8 1595.8h.01M528.1 1594.0h.01M529.3 1596.9h.01" stroke="#34c79b"/></g>
<g fill="none" stroke-linecap="round" stroke-width="8.5"><path d="M199.6 1686.2h.01" stroke="#249ee6"/><path d="M203.9 1693.9h.01" stroke="#4433cd"/><path d="M205.0 1676.6h.01" stroke="#4433cd"/><path d="M201.0 1697.3h.01" stroke="#4433cd"/><path d="M211.2 1683.6h.01" stroke="#4433cd"/><path d="M237.6 1651.0h.01" stroke="#4756f7"/><path d="M192.8 1715.4h.01" stroke="#4433cd"/><path d="M180.8 1719.4h.01" stroke="#249ee6"/><path d="M226.6 1660.3h.01" stroke="#4433cd"/><path d="M193.2 1695.7h.01" stroke="#4756f7"/><path d="M214.4 1672.0h.01" stroke="#2c8ef1"/><path d="M198.6 1703.7h.01" stroke="#4756f7"/><path d="M181.4 1723.3h.01" stroke="#4433cd"/><path d="M208.5 1676.9h.01" stroke="#3b72fe"/><path d="M196.3 1712.4h.01" stroke="#2c8ef1"/><path d="M233.2 1654.8h.01" stroke="#4433cd"/><path d="M179.9 1725.2h.01" stroke="#01b8c9"/><path d="M208.3 1687.7h.01" stroke="#4433cd"/><path d="M184.5 1728.0h.01" stroke="#2c8ef1"/><path d="M183.0 1713.3h.01" stroke="#4433cd"/><path d="M182.1 1727.1h.01" stroke="#4756f7"/><path d="M206.2 1691.7h.01" stroke="#2797eb"/><path d="M192.4 1717.8h.01" stroke="#4433cd"/><path d="M231.1 1657.6h.01" stroke="#4433cd"/><path d="M189.1 1704.4h.01" stroke="#3b72fe"/><path d="M191.7 1720.7h.01" stroke="#2797eb"/><path d="M205.9 1680.2h.01" stroke="#2797eb"/><path d="M188.2 1701.4h.01" stroke="#4433cd"/><path d="M224.5 1663.2h.01" stroke="#4433cd"/><path d="M212.5 1672.5h.01" stroke="#4433cd"/><path d="M219.6 1666.5h.01" stroke="#01b8c9"/><path d="M197.6 1693.3h.01" stroke="#01b8c9"/><path d="M201.3 1683.1h.01" stroke="#4433cd"/><path d="M209.4 1684.5h.01" stroke="#3b72fe"/><path d="M196.6 1709.0h.01" stroke="#4433cd"/><path d="M214.4 1669.7h.01" stroke="#4433cd"/><path d="M201.8 1697.8h.01" stroke="#4433cd"/><path d="M235.2 1652.0h.01" stroke="#2c8ef1"/><path d="M222.2 1664.6h.01" stroke="#4433cd"/><path d="M185.1 1713.3h.01" stroke="#2797eb"/><path d="M194.0 1697.4h.01" stroke="#4433cd"/><path d="M199.7 1689.4h.01" stroke="#4433cd"/><path d="M199.8 1700.4h.01" stroke="#01b8c9"/><path d="M185.4 1707.6h.01" stroke="#4433cd"/><path d="M189.6 1701.2h.01" stroke="#2c8ef1"/></g>
<g fill="none" stroke-linecap="round" stroke-width="11.3"><path d="M234.7 1800.4h.01" stroke="#4433cd"/><path d="M232.6 1800.8h.01" stroke="#484df0"/><path d="M236.6 1798.8h.01" stroke="#4756f7"/><path d="M230.0 1799.8h.01" stroke="#327cfc"/><path d="M527.9 1423.1h.01M527.6 1424.8h.01M528.2 1428.2h.01M576.1 1452.6h.01" stroke="#2e86f8"/><path d="M653.9 1222.7h.01M658.7 1224.2h.01M572.5 1448.7h.01M573.4 1449.8h.01M577.8 1454.2h.01M390.4 1719.3h.01M239.3 1797.1h.01" stroke="#2c8ef1"/><path d="M646.3 1208.9h.01M647.3 1211.0h.01M650.0 1216.0h.01M650.6 1218.7h.01M651.6 1220.9h.01M660.1 1224.8h.01M527.8 1419.9h.01M529.0 1430.1h.01M528.3 1435.9h.01M564.8 1440.6h.01M568.2 1444.5h.01M388.2 1719.4h.01" stroke="#2797eb"/><path d="M640.1 1195.4h.01M641.5 1197.1h.01M648.6 1214.0h.01M656.5 1223.2h.01M662.0 1223.4h.01M664.9 1222.0h.01M666.2 1219.2h.01M528.9 1415.5h.01M527.6 1418.0h.01M529.0 1433.2h.01M563.3 1439.0h.01M570.7 1446.0h.01M227.1 1799.8h.01" stroke="#249ee6"/><path d="M642.8 1198.9h.01M643.7 1201.8h.01M645.6 1203.9h.01M645.9 1206.3h.01M666.8 1217.6h.01M666.5 1214.4h.01M665.7 1209.3h.01M614.5 1285.7h.01M528.5 1438.1h.01M554.2 1444.9h.01M556.9 1442.5h.01M558.2 1442.2h.01M560.6 1440.4h.01M578.4 1456.0h.01M393.3 1720.3h.01M385.0 1720.8h.01M526.4 1416.3h.01" stroke="#1fa6e2"/><path d="M633.2 1190.9h.01M635.4 1192.6h.01M637.9 1193.4h.01M667.3 1212.3h.01M664.4 1206.9h.01M663.9 1204.6h.01M662.2 1202.1h.01M646.8 1403.7h.01M615.0 1288.1h.01M618.1 1275.7h.01M528.3 1412.1h.01M528.8 1447.8h.01M540.0 1454.9h.01M548.1 1449.2h.01M549.6 1446.9h.01M551.6 1445.3h.01M566.4 1442.3h.01M527.5 1412.1h.01M241.4 1795.3h.01M262.6 1790.1h.01M511.1 1414.6h.01M513.7 1414.5h.01M518.9 1414.3h.01M521.4 1414.7h.01M523.9 1415.5h.01" stroke="#19addc"/><path d="M661.1 1200.5h.01M660.8 1198.2h.01M632.5 1442.3h.01M632.9 1439.5h.01M634.3 1437.5h.01M641.7 1421.6h.01M646.8 1406.0h.01M646.9 1398.2h.01M637.6 1380.0h.01M611.9 1311.0h.01M612.9 1309.3h.01M613.4 1303.7h.01M613.0 1301.0h.01M613.6 1295.9h.01M614.0 1293.2h.01M613.8 1291.0h.01M615.1 1283.4h.01M616.9 1278.4h.01M618.5 1273.7h.01M619.3 1271.1h.01M620.9 1265.7h.01M622.7 1260.7h.01M623.2 1253.0h.01M620.1 1240.5h.01M616.6 1233.6h.01M613.2 1226.9h.01M602.0 1207.0h.01M601.3 1204.6h.01M599.4 1202.1h.01M598.5 1200.0h.01M528.1 1440.4h.01M527.5 1443.7h.01M528.2 1445.8h.01M530.0 1450.6h.01M531.0 1453.0h.01M533.1 1454.7h.01M534.6 1455.5h.01M537.7 1455.7h.01M543.9 1451.7h.01M546.2 1450.6h.01M395.6 1720.5h.01M273.3 1754.0h.01M360.1 1577.0h.01M429.6 1520.5h.01M430.7 1518.3h.01M502.3 1413.3h.01M509.5 1411.0h.01M512.6 1410.7h.01M517.6 1410.6h.01M522.7 1411.1h.01M525.5 1411.8h.01M224.5 1800.0h.01M244.1 1795.5h.01M246.6 1794.1h.01M253.5 1791.4h.01M264.4 1786.9h.01M265.3 1785.6h.01M265.8 1775.5h.01M265.0 1773.4h.01M508.6 1414.9h.01M516.3 1414.4h.01" stroke="#0db3d3"/><path d="M632.1 1188.4h.01M634.6 1435.1h.01M639.4 1427.8h.01M640.0 1426.0h.01M641.6 1423.2h.01M643.6 1419.0h.01M645.5 1413.9h.01M645.4 1410.9h.01M645.9 1409.2h.01M646.2 1401.3h.01M645.8 1395.6h.01M645.5 1394.0h.01M644.9 1390.8h.01M643.3 1389.1h.01M642.6 1386.9h.01M640.8 1384.7h.01M639.1 1382.5h.01M583.7 1326.0h.01M606.0 1319.4h.01M613.4 1306.5h.01M613.9 1298.8h.01M615.6 1280.7h.01M619.8 1268.9h.01M621.4 1263.3h.01M623.4 1258.8h.01M623.3 1256.3h.01M623.4 1250.9h.01M622.7 1248.3h.01M622.1 1245.8h.01M619.3 1238.4h.01M617.6 1236.0h.01M614.0 1229.3h.01M612.3 1225.2h.01M608.6 1220.8h.01M606.9 1218.8h.01M606.2 1215.8h.01M604.4 1214.2h.01M603.6 1211.1h.01M597.5 1197.0h.01M593.5 1191.0h.01M590.6 1186.8h.01M582.3 1176.2h.01M580.0 1458.1h.01M407.1 1692.6h.01M402.0 1715.4h.01M399.8 1720.0h.01M382.7 1721.4h.01M278.1 1757.0h.01M324.0 1593.2h.01M352.2 1580.7h.01M368.1 1571.5h.01M376.6 1565.8h.01M380.7 1562.8h.01M400.1 1549.7h.01M472.1 1463.1h.01M491.4 1419.4h.01M495.9 1416.3h.01M498.5 1415.6h.01M505.3 1411.7h.01M506.9 1411.2h.01M515.7 1410.0h.01M241.0 1765.1h.01M238.9 1766.5h.01M236.6 1767.3h.01M231.4 1769.2h.01M232.8 1771.7h.01M233.2 1774.8h.01M234.5 1777.0h.01M232.9 1781.5h.01M248.9 1793.2h.01M255.4 1790.5h.01M258.9 1790.8h.01M266.7 1783.4h.01M267.3 1780.2h.01M266.8 1778.4h.01M263.3 1771.4h.01M261.7 1769.5h.01M259.2 1768.7h.01M255.2 1765.8h.01M252.3 1765.4h.01M501.3 1417.8h.01M503.7 1416.8h.01M506.1 1415.8h.01" stroke="#01b8c9"/><path d="M658.8 1195.6h.01M657.2 1190.5h.01M633.3 1444.4h.01M636.4 1432.5h.01M637.1 1430.6h.01M644.5 1416.3h.01M634.8 1379.4h.01M625.9 1375.5h.01M622.6 1374.7h.01M621.0 1374.5h.01M580.8 1355.5h.01M568.1 1335.0h.01M571.6 1331.6h.01M574.1 1329.8h.01M576.4 1328.3h.01M578.1 1327.3h.01M580.6 1326.2h.01M585.6 1324.6h.01M588.5 1324.1h.01M591.7 1324.4h.01M593.2 1324.4h.01M599.0 1322.6h.01M600.6 1321.3h.01M607.8 1317.8h.01M609.0 1315.9h.01M611.1 1313.4h.01M621.5 1243.7h.01M615.2 1231.3h.01M610.9 1222.9h.01M602.4 1209.5h.01M596.3 1194.4h.01M594.9 1192.3h.01M591.3 1188.9h.01M588.8 1184.1h.01M587.5 1182.4h.01M585.1 1180.3h.01M583.8 1178.8h.01M542.3 1453.8h.01M513.4 1603.9h.01M426.6 1641.9h.01M425.6 1662.3h.01M409.5 1686.0h.01M403.5 1699.5h.01M401.5 1702.1h.01M282.3 1759.9h.01M279.8 1758.7h.01M275.8 1756.0h.01M272.4 1753.3h.01M261.6 1621.1h.01M272.9 1609.8h.01M275.4 1609.5h.01M312.2 1598.2h.01M314.6 1596.8h.01M317.1 1596.3h.01M319.6 1594.7h.01M332.8 1587.7h.01M348.0 1582.3h.01M350.0 1582.0h.01M356.8 1578.2h.01M361.5 1575.3h.01M363.7 1573.9h.01M366.6 1573.1h.01M374.7 1567.0h.01M382.9 1561.1h.01M387.1 1557.1h.01M398.8 1550.1h.01M402.7 1547.7h.01M404.8 1546.2h.01M415.1 1538.9h.01M417.6 1536.9h.01M421.8 1531.4h.01M425.9 1527.5h.01M429.0 1523.3h.01M433.0 1514.1h.01M439.0 1494.0h.01M468.3 1468.1h.01M474.0 1458.9h.01M474.8 1456.0h.01M476.9 1448.5h.01M477.0 1438.4h.01M478.3 1430.6h.01M481.0 1426.6h.01M485.3 1423.8h.01M489.7 1420.6h.01M493.8 1418.5h.01M500.1 1413.9h.01M520.1 1410.7h.01M244.2 1764.4h.01M234.6 1768.4h.01M230.7 1785.5h.01M229.6 1788.1h.01M224.4 1790.2h.01M218.2 1796.2h.01M221.6 1799.8h.01M251.5 1791.8h.01M261.6 1790.8h.01M257.6 1767.1h.01M249.4 1764.9h.01M247.2 1764.6h.01M244.2 1764.2h.01M498.9 1418.7h.01M662.6 1199.6h.01M665.4 1204.0h.01M668.1 1208.4h.01M670.9 1212.8h.01M673.4 1217.4h.01M674.5 1219.7h.01" stroke="#08bcbf"/><path d="M631.6 1186.6h.01M657.9 1192.5h.01M633.3 1447.4h.01M632.6 1377.3h.01M630.4 1376.4h.01M627.7 1375.2h.01M613.1 1370.3h.01M609.1 1368.2h.01M592.5 1360.5h.01M567.5 1343.9h.01M567.1 1339.5h.01M566.9 1337.4h.01M570.3 1333.1h.01M596.8 1323.9h.01M603.3 1320.0h.01M580.9 1174.4h.01M579.7 1172.2h.01M579.3 1169.6h.01M578.4 1164.0h.01M575.0 1160.5h.01M571.7 1155.9h.01M520.5 1587.1h.01M522.8 1608.1h.01M520.2 1607.5h.01M515.3 1604.6h.01M490.9 1602.8h.01M461.9 1613.5h.01M456.9 1615.1h.01M452.1 1617.3h.01M447.2 1619.7h.01M443.2 1621.7h.01M433.4 1630.3h.01M428.7 1637.5h.01M428.0 1638.8h.01M426.0 1649.5h.01M426.3 1652.6h.01M423.5 1663.5h.01M422.8 1666.0h.01M420.7 1668.1h.01M414.4 1676.5h.01M413.7 1679.0h.01M411.7 1681.4h.01M410.8 1683.7h.01M409.0 1687.6h.01M407.8 1690.9h.01M406.3 1695.0h.01M405.0 1697.0h.01M400.5 1703.7h.01M399.1 1705.7h.01M398.9 1708.4h.01M399.3 1710.7h.01M401.2 1712.9h.01M402.2 1718.6h.01M380.3 1721.7h.01M377.9 1724.1h.01M375.7 1725.3h.01M363.5 1739.6h.01M287.8 1760.0h.01M285.4 1760.6h.01M270.3 1751.5h.01M260.9 1746.3h.01M257.9 1745.3h.01M248.4 1747.0h.01M263.3 1619.2h.01M266.4 1614.2h.01M268.6 1612.4h.01M270.3 1610.9h.01M277.8 1608.2h.01M279.8 1607.0h.01M287.9 1606.8h.01M297.6 1603.3h.01M300.7 1603.2h.01M302.7 1602.3h.01M304.7 1600.6h.01M307.6 1599.5h.01M310.1 1598.9h.01M321.6 1593.6h.01M326.3 1591.8h.01M329.0 1590.2h.01M331.3 1588.8h.01M335.8 1586.8h.01M338.7 1586.1h.01M340.9 1585.9h.01M342.6 1583.9h.01M346.0 1583.5h.01M354.9 1579.9h.01M373.1 1569.0h.01M379.1 1563.9h.01M385.6 1559.7h.01M394.0 1552.8h.01M395.8 1552.4h.01M408.8 1543.8h.01M411.0 1542.6h.01M413.0 1541.0h.01M419.4 1535.5h.01M423.9 1529.4h.01M427.4 1525.4h.01M431.9 1515.6h.01M433.4 1511.3h.01M434.1 1508.2h.01M436.4 1503.6h.01M437.3 1501.4h.01M437.3 1499.2h.01M440.1 1491.2h.01M454.8 1478.4h.01M460.8 1475.1h.01M463.3 1472.6h.01M464.4 1471.2h.01M467.1 1469.6h.01M470.3 1465.5h.01M473.7 1461.4h.01M475.1 1453.7h.01M476.6 1451.3h.01M476.7 1446.8h.01M476.9 1444.0h.01M476.3 1440.7h.01M477.0 1436.2h.01M477.3 1433.6h.01M483.0 1425.3h.01M487.0 1422.0h.01M234.8 1779.9h.01M232.2 1783.2h.01M227.1 1789.6h.01M219.5 1792.4h.01M219.8 1797.8h.01M661.2 1197.4h.01M664.0 1201.8h.01M666.8 1206.2h.01M669.5 1210.6h.01M672.2 1215.0h.01M675.7 1222.0h.01" stroke="#1cc0b3"/><path d="M617.6 1152.3h.01M620.5 1160.0h.01M622.7 1162.4h.01M653.6 1185.8h.01M634.6 1452.4h.01M633.8 1449.4h.01M617.7 1373.6h.01M607.0 1366.8h.01M604.2 1365.8h.01M599.7 1363.2h.01M594.5 1361.2h.01M588.3 1357.8h.01M584.9 1356.8h.01M582.6 1356.1h.01M578.2 1354.4h.01M574.0 1351.7h.01M568.5 1346.4h.01M566.6 1341.5h.01M578.2 1166.7h.01M576.9 1162.0h.01M573.7 1158.2h.01M570.6 1154.0h.01M566.5 1149.5h.01M565.9 1147.9h.01M563.9 1146.1h.01M560.6 1141.9h.01M558.8 1139.8h.01M557.3 1137.4h.01M549.9 1129.9h.01M548.6 1128.5h.01M580.9 1460.4h.01M507.8 1572.1h.01M513.0 1586.6h.01M518.0 1586.7h.01M523.0 1587.7h.01M529.5 1605.0h.01M527.4 1606.1h.01M525.6 1606.7h.01M511.7 1602.9h.01M506.4 1601.5h.01M498.8 1601.7h.01M485.7 1604.0h.01M483.5 1604.5h.01M480.6 1605.3h.01M475.4 1606.8h.01M472.9 1608.1h.01M471.5 1608.9h.01M469.0 1610.5h.01M466.1 1611.6h.01M463.2 1611.6h.01M459.1 1614.8h.01M454.1 1616.4h.01M440.5 1623.7h.01M438.8 1625.1h.01M431.3 1632.4h.01M429.6 1634.2h.01M425.9 1644.1h.01M426.3 1646.5h.01M426.6 1654.5h.01M427.1 1656.7h.01M426.4 1659.3h.01M419.5 1670.2h.01M417.7 1672.2h.01M416.2 1674.9h.01M397.9 1720.3h.01M373.4 1729.0h.01M372.6 1732.1h.01M372.2 1734.3h.01M367.2 1737.5h.01M358.2 1742.8h.01M356.8 1743.9h.01M352.2 1746.6h.01M348.0 1753.2h.01M345.8 1753.9h.01M341.8 1756.8h.01M320.7 1761.6h.01M319.1 1760.6h.01M313.2 1761.2h.01M311.4 1761.5h.01M307.8 1761.5h.01M303.4 1761.6h.01M298.6 1760.3h.01M295.2 1760.5h.01M292.7 1760.2h.01M290.4 1760.3h.01M267.2 1749.7h.01M265.7 1747.7h.01M263.7 1747.6h.01M240.6 1743.5h.01M228.9 1733.6h.01M259.3 1622.1h.01M265.5 1616.5h.01M283.0 1607.4h.01M285.6 1606.7h.01M290.5 1606.0h.01M292.2 1605.6h.01M295.0 1604.7h.01M370.2 1570.5h.01M388.9 1556.7h.01M391.2 1555.0h.01M420.5 1533.0h.01M435.7 1506.6h.01M440.4 1488.9h.01M441.3 1486.2h.01M442.8 1484.8h.01M447.1 1481.3h.01M456.8 1478.0h.01M459.3 1476.8h.01M479.2 1429.1h.01M222.8 1791.4h.01M217.6 1794.3h.01M650.9 1182.5h.01M652.5 1184.5h.01M654.0 1186.6h.01M655.6 1188.7h.01M658.5 1193.0h.01M659.9 1195.2h.01" stroke="#2bc3a8"/><path d="M614.2 1142.3h.01M619.1 1155.5h.01M620.4 1157.4h.01M623.0 1164.7h.01M624.3 1167.1h.01M629.8 1180.6h.01M631.0 1184.2h.01M655.0 1189.0h.01M685.6 1188.3h.01M634.5 1457.4h.01M634.8 1454.6h.01M615.4 1371.7h.01M611.4 1370.1h.01M601.9 1364.9h.01M597.9 1362.5h.01M590.4 1358.9h.01M575.8 1353.4h.01M570.9 1350.8h.01M569.9 1349.2h.01M569.2 1151.7h.01M562.2 1143.9h.01M555.6 1136.4h.01M553.7 1133.8h.01M551.9 1131.7h.01M546.2 1126.1h.01M545.4 1124.2h.01M543.9 1122.1h.01M540.6 1118.1h.01M538.5 1115.8h.01M536.2 1113.6h.01M529.5 1099.7h.01M529.8 1097.2h.01M523.3 1086.3h.01M520.2 1082.0h.01M512.4 1072.5h.01M508.5 1577.0h.01M509.2 1579.6h.01M509.7 1581.5h.01M515.4 1586.3h.01M525.3 1588.3h.01M527.7 1588.6h.01M532.5 1590.1h.01M534.8 1599.4h.01M533.4 1601.5h.01M532.2 1603.7h.01M517.7 1605.4h.01M508.3 1601.3h.01M501.3 1601.3h.01M496.3 1601.2h.01M493.6 1602.5h.01M488.6 1603.9h.01M478.6 1606.6h.01M449.0 1618.1h.01M445.3 1620.4h.01M436.2 1625.8h.01M434.9 1628.9h.01M374.0 1726.8h.01M370.2 1736.1h.01M365.8 1738.5h.01M361.4 1740.9h.01M353.8 1744.7h.01M351.4 1748.6h.01M350.4 1751.4h.01M343.6 1755.4h.01M338.4 1757.8h.01M336.0 1758.6h.01M334.0 1758.5h.01M331.6 1759.6h.01M329.3 1759.7h.01M326.8 1760.8h.01M323.9 1761.2h.01M316.4 1760.3h.01M305.6 1761.5h.01M300.3 1760.6h.01M252.8 1746.1h.01M245.9 1746.1h.01M243.0 1745.2h.01M235.1 1739.1h.01M245.5 1633.8h.01M247.6 1632.0h.01M251.8 1628.9h.01M253.5 1627.2h.01M256.0 1625.8h.01M258.3 1624.2h.01M406.9 1545.7h.01M439.2 1496.4h.01M444.8 1483.5h.01M449.2 1480.1h.01M452.0 1479.7h.01M524.4 1080.8h.01M657.1 1190.8h.01M679.3 1215.2h.01M674.8 1191.5h.01" stroke="#34c79b"/><path d="M515.5 1060.9h.01M550.9 1085.8h.01M553.9 1086.9h.01M555.4 1088.9h.01M568.3 1092.4h.01M614.9 1145.6h.01M616.5 1147.7h.01M626.9 1171.1h.01M628.1 1174.2h.01M628.2 1176.6h.01M653.0 1184.0h.01M676.3 1184.2h.01M680.6 1186.2h.01M683.0 1187.3h.01M686.3 1189.9h.01M686.4 1226.5h.01M690.2 1236.2h.01M692.7 1238.5h.01M696.9 1243.9h.01M717.6 1256.4h.01M731.7 1261.4h.01M741.2 1266.1h.01M754.4 1266.3h.01M782.8 1249.8h.01M784.5 1247.6h.01M541.8 1120.7h.01M534.5 1112.8h.01M532.7 1110.7h.01M531.8 1108.0h.01M530.2 1105.9h.01M529.2 1094.4h.01M528.6 1091.7h.01M526.2 1090.6h.01M514.4 1076.8h.01M513.2 1074.3h.01M582.6 1462.8h.01M517.2 1562.9h.01M510.6 1568.2h.01M511.8 1584.5h.01M530.4 1588.8h.01M533.7 1592.5h.01M535.1 1594.5h.01M536.4 1597.1h.01M504.0 1601.2h.01M256.1 1745.4h.01M250.2 1746.7h.01M238.6 1743.0h.01M237.2 1741.6h.01M233.6 1736.5h.01M232.1 1734.6h.01M224.9 1733.0h.01M222.4 1732.5h.01M219.7 1733.6h.01M215.5 1735.6h.01M212.4 1736.9h.01M241.2 1637.2h.01M243.5 1636.3h.01M517.4 1073.1h.01M527.9 1084.6h.01M529.8 1086.4h.01M659.6 1188.1h.01M661.4 1190.0h.01M663.2 1191.8h.01M670.1 1199.7h.01M674.7 1205.9h.01M676.2 1208.0h.01M663.9 1184.5h.01M666.1 1185.8h.01M680.1 1196.9h.01M673.9 1187.5h.01M676.3 1188.4h.01M678.8 1189.3h.01" stroke="#41ca8c"/><path d="M521.7 1060.2h.01M524.2 1060.3h.01M528.9 1063.6h.01M534.3 1076.4h.01M547.4 1082.3h.01M570.2 1092.3h.01M573.6 1092.3h.01M612.2 1136.1h.01M613.1 1138.3h.01M613.2 1140.4h.01M617.4 1150.1h.01M625.5 1169.6h.01M629.3 1178.8h.01M658.2 1180.0h.01M660.2 1180.3h.01M666.1 1181.7h.01M668.1 1182.0h.01M670.5 1182.6h.01M672.9 1183.9h.01M678.3 1185.8h.01M687.7 1192.8h.01M687.7 1195.1h.01M687.3 1197.2h.01M685.4 1199.2h.01M684.6 1204.2h.01M682.2 1209.0h.01M685.9 1224.7h.01M687.8 1232.0h.01M694.1 1240.6h.01M695.3 1241.6h.01M704.0 1248.9h.01M705.8 1250.2h.01M708.2 1251.3h.01M709.8 1252.5h.01M712.9 1254.5h.01M714.9 1254.9h.01M719.8 1256.9h.01M722.3 1258.0h.01M724.6 1258.6h.01M727.1 1260.3h.01M729.6 1260.7h.01M734.7 1262.5h.01M739.5 1265.2h.01M743.7 1266.3h.01M759.1 1265.7h.01M761.4 1265.7h.01M768.7 1261.8h.01M772.6 1258.2h.01M778.2 1253.8h.01M780.7 1251.7h.01M786.6 1246.6h.01M788.1 1244.4h.01M792.6 1242.6h.01M797.5 1239.9h.01M807.4 1238.4h.01M635.4 1462.3h.01M634.6 1460.0h.01M529.3 1101.2h.01M525.0 1087.6h.01M521.3 1084.4h.01M518.2 1080.5h.01M516.7 1077.9h.01M510.2 1070.4h.01M508.6 1068.1h.01M507.6 1065.5h.01M583.3 1465.8h.01M586.0 1467.7h.01M593.9 1476.4h.01M528.3 1556.9h.01M525.9 1557.6h.01M514.5 1564.9h.01M512.2 1565.6h.01M509.5 1570.1h.01M507.8 1574.5h.01M226.9 1733.0h.01M209.8 1737.3h.01M238.1 1640.8h.01M249.7 1630.7h.01M519.2 1074.9h.01M522.7 1078.9h.01M526.1 1082.7h.01M531.6 1088.3h.01M655.9 1184.5h.01M664.9 1193.8h.01M666.7 1195.7h.01M668.4 1197.7h.01M677.2 1210.4h.01M678.3 1212.8h.01M668.3 1187.2h.01M670.5 1188.6h.01M672.7 1190.0h.01M676.9 1193.0h.01M679.0 1194.6h.01M681.3 1199.2h.01M682.5 1201.6h.01M681.2 1190.2h.01" stroke="#54cc7c"/><path d="M506.9 1064.6h.01M512.9 1061.1h.01M518.7 1061.5h.01M526.1 1060.7h.01M527.6 1061.8h.01M529.3 1066.2h.01M530.5 1069.1h.01M531.8 1071.1h.01M536.1 1077.7h.01M537.2 1080.1h.01M542.7 1081.0h.01M545.2 1081.6h.01M549.3 1084.1h.01M557.3 1089.6h.01M559.7 1090.9h.01M562.7 1091.4h.01M564.9 1091.4h.01M578.3 1093.2h.01M582.6 1096.8h.01M586.0 1100.8h.01M588.0 1102.4h.01M589.6 1102.9h.01M594.8 1103.6h.01M601.2 1111.3h.01M603.2 1115.9h.01M609.7 1130.9h.01M651.7 1182.2h.01M649.9 1179.9h.01M652.9 1179.5h.01M655.6 1180.5h.01M663.0 1181.1h.01M684.2 1201.5h.01M682.4 1211.7h.01M682.4 1213.9h.01M683.1 1216.6h.01M684.0 1218.9h.01M685.0 1221.8h.01M687.7 1229.3h.01M689.6 1234.4h.01M699.5 1245.8h.01M701.7 1247.3h.01M747.1 1265.9h.01M749.6 1266.5h.01M751.5 1267.2h.01M756.9 1266.2h.01M767.3 1263.3h.01M770.7 1260.3h.01M776.2 1254.8h.01M790.6 1243.4h.01M795.3 1240.8h.01M799.7 1240.2h.01M802.6 1239.0h.01M810.0 1239.2h.01M812.9 1240.5h.01M815.3 1240.6h.01M817.7 1241.0h.01M797.5 1330.0h.01M799.2 1331.9h.01M797.8 1333.3h.01M796.6 1336.0h.01M795.6 1337.3h.01M788.2 1334.9h.01M784.7 1329.3h.01M781.6 1328.0h.01M774.3 1325.6h.01M758.4 1327.8h.01M750.0 1332.0h.01M684.3 1454.5h.01M528.7 1104.7h.01M586.9 1469.1h.01M589.5 1471.2h.01M590.7 1472.8h.01M592.7 1474.5h.01M595.3 1479.5h.01M596.5 1481.1h.01M547.2 1540.5h.01M539.1 1550.1h.01M533.2 1554.1h.01M523.8 1559.6h.01M521.6 1559.9h.01M519.4 1562.0h.01M217.2 1734.8h.01M207.5 1738.6h.01M182.9 1691.0h.01M183.8 1689.8h.01M185.9 1686.9h.01M194.2 1677.0h.01M197.1 1672.8h.01M199.2 1671.8h.01M200.6 1669.9h.01M203.1 1667.6h.01M205.2 1665.8h.01M230.0 1647.4h.01M231.8 1645.7h.01M234.1 1644.5h.01M239.9 1638.9h.01M513.7 1069.4h.01M657.7 1186.3h.01M671.6 1201.7h.01M673.2 1203.8h.01M664.7 1163.8h.01" stroke="#69cd6b"/><path d="M508.8 1063.3h.01M510.3 1061.8h.01M532.8 1073.7h.01M539.3 1080.5h.01M575.2 1092.8h.01M579.7 1094.6h.01M583.8 1098.7h.01M592.0 1102.9h.01M596.8 1104.6h.01M598.1 1107.7h.01M600.1 1109.1h.01M602.9 1114.7h.01M604.7 1118.4h.01M605.5 1121.6h.01M607.1 1123.0h.01M608.1 1126.4h.01M609.5 1128.4h.01M611.0 1133.3h.01M683.1 1207.2h.01M736.1 1263.7h.01M765.0 1264.4h.01M774.4 1257.4h.01M820.8 1241.8h.01M822.7 1243.4h.01M827.3 1245.2h.01M792.7 1318.2h.01M794.4 1339.7h.01M792.8 1341.9h.01M791.8 1339.3h.01M789.7 1337.1h.01M788.0 1332.4h.01M785.9 1330.0h.01M779.7 1326.9h.01M777.1 1326.9h.01M772.0 1325.1h.01M765.9 1326.3h.01M763.7 1327.1h.01M756.2 1328.7h.01M754.3 1330.0h.01M751.9 1330.4h.01M748.0 1333.6h.01M745.4 1335.4h.01M741.5 1342.0h.01M739.6 1347.1h.01M733.1 1391.3h.01M714.5 1414.7h.01M701.4 1431.2h.01M683.1 1455.1h.01M637.7 1464.9h.01M554.4 1525.8h.01M543.7 1546.4h.01M541.0 1548.2h.01M537.7 1551.5h.01M535.3 1553.3h.01M530.1 1555.3h.01M203.2 1739.4h.01M177.9 1697.7h.01M181.6 1693.1h.01M187.6 1685.1h.01M188.3 1682.4h.01M190.1 1681.1h.01M191.9 1679.2h.01M195.7 1675.4h.01M207.2 1664.4h.01M208.4 1663.1h.01M210.8 1660.3h.01M212.6 1659.3h.01M218.9 1655.1h.01M222.9 1651.5h.01M225.3 1650.6h.01M236.3 1642.6h.01M511.9 1067.6h.01M515.6 1071.2h.01M520.9 1076.9h.01M650.9 1154.5h.01M661.4 1167.8h.01M657.3 1166.0h.01M655.1 1164.6h.01M653.7 1162.4h.01M653.6 1159.5h.01M656.2 1159.5h.01" stroke="#81cc59"/><path d="M805.1 1238.5h.01M824.8 1244.0h.01M829.9 1249.7h.01M826.6 1253.6h.01M822.1 1255.7h.01M821.8 1258.6h.01M818.2 1263.2h.01M814.3 1293.1h.01M812.9 1295.7h.01M796.9 1309.3h.01M793.1 1327.1h.01M794.7 1329.2h.01M768.7 1326.2h.01M740.8 1343.8h.01M737.7 1348.8h.01M739.2 1351.7h.01M739.6 1354.0h.01M739.9 1356.6h.01M742.9 1357.2h.01M744.3 1358.9h.01M746.4 1360.1h.01M746.5 1362.5h.01M744.4 1367.4h.01M744.2 1370.3h.01M742.2 1374.6h.01M738.8 1382.1h.01M736.6 1386.4h.01M727.2 1396.5h.01M726.2 1398.4h.01M720.1 1409.4h.01M716.5 1413.0h.01M709.7 1418.1h.01M708.6 1420.7h.01M706.1 1424.2h.01M704.5 1426.7h.01M702.9 1429.2h.01M698.8 1435.8h.01M696.9 1437.2h.01M695.4 1439.9h.01M694.2 1442.2h.01M693.7 1444.1h.01M692.5 1447.1h.01M690.4 1448.5h.01M689.0 1450.0h.01M680.9 1457.6h.01M595.3 1482.7h.01M556.2 1524.2h.01M552.7 1528.0h.01M549.2 1535.8h.01M548.4 1538.2h.01M544.9 1544.8h.01M200.3 1739.2h.01M197.2 1739.0h.01M175.4 1699.4h.01M214.5 1657.4h.01M216.6 1655.5h.01M221.2 1652.8h.01M228.0 1648.0h.01M655.9 1153.2h.01M660.5 1155.1h.01M662.8 1156.4h.01M663.6 1158.9h.01M664.3 1161.4h.01M663.0 1165.8h.01M659.4 1167.5h.01M652.3 1160.2h.01" stroke="#98c947"/><path d="M829.4 1246.8h.01M828.8 1250.7h.01M820.1 1260.9h.01M817.5 1265.8h.01M816.8 1267.5h.01M816.9 1270.6h.01M816.2 1273.0h.01M815.5 1275.1h.01M815.2 1278.0h.01M815.9 1280.8h.01M815.6 1286.1h.01M814.9 1288.6h.01M814.7 1290.7h.01M812.0 1298.2h.01M810.1 1299.6h.01M803.6 1303.9h.01M798.9 1307.1h.01M794.2 1315.0h.01M792.6 1320.1h.01M792.1 1322.6h.01M791.8 1325.2h.01M761.0 1326.4h.01M743.9 1337.3h.01M742.0 1340.0h.01M744.9 1365.1h.01M742.8 1372.7h.01M741.0 1377.2h.01M739.9 1380.5h.01M738.1 1385.1h.01M734.4 1389.4h.01M731.3 1392.3h.01M729.7 1395.0h.01M725.4 1401.5h.01M724.6 1403.9h.01M722.5 1405.1h.01M718.3 1411.1h.01M711.8 1416.6h.01M707.3 1421.9h.01M699.4 1433.5h.01M678.8 1458.3h.01M676.8 1459.9h.01M674.1 1462.0h.01M558.1 1523.1h.01M551.6 1530.9h.01M550.6 1533.2h.01M546.7 1542.5h.01M205.7 1740.1h.01M195.1 1738.5h.01M192.1 1739.0h.01M184.4 1738.0h.01M168.3 1709.5h.01M168.9 1707.5h.01M171.2 1705.1h.01M173.0 1703.2h.01M174.5 1701.4h.01M179.0 1695.3h.01" stroke="#aec637"/><path d="M825.3 1254.3h.01M814.9 1283.0h.01M808.5 1301.2h.01M805.5 1303.2h.01M794.6 1310.1h.01M794.8 1313.1h.01M721.2 1407.0h.01M686.9 1452.6h.01M671.5 1462.5h.01M669.1 1463.7h.01M641.3 1467.3h.01M638.9 1465.8h.01M592.6 1484.7h.01M590.6 1487.0h.01M189.9 1738.3h.01M186.6 1738.4h.01M166.9 1717.8h.01M168.3 1714.9h.01M168.5 1711.8h.01M653.4 1153.9h.01M658.3 1153.8h.01" stroke="#c3c22b"/><path d="M801.1 1305.6h.01M666.9 1465.9h.01M664.6 1466.9h.01M662.2 1467.7h.01M643.8 1469.9h.01M561.9 1519.1h.01M560.2 1520.9h.01M182.2 1736.8h.01M180.3 1735.8h.01M177.0 1735.0h.01M175.3 1733.0h.01M173.7 1731.3h.01M171.6 1729.2h.01M169.2 1725.4h.01M168.7 1722.7h.01M168.6 1720.2h.01" stroke="#d6be28"/><path d="M660.8 1468.9h.01M658.1 1470.4h.01M648.3 1471.1h.01M646.2 1470.4h.01M587.5 1490.0h.01M585.5 1491.8h.01M584.7 1494.6h.01M566.7 1513.2h.01M565.2 1515.6h.01M563.0 1516.8h.01M170.6 1726.7h.01" stroke="#e7bb2e"/><path d="M588.7 1488.8h.01M581.2 1498.0h.01M580.0 1499.8h.01M577.4 1501.9h.01M576.5 1504.4h.01M574.9 1506.0h.01M571.1 1509.7h.01" stroke="#f5ba3b"/><path d="M655.8 1470.8h.01M653.6 1471.7h.01M650.6 1472.5h.01M572.8 1507.8h.01M568.4 1511.3h.01" stroke="#febf3b"/><path d="M582.0 1495.9h.01" stroke="#fec934"/></g>
<g fill="none" stroke-linecap="round"><path d="M250.3 1788.2h.01" stroke="#1cc0b3" stroke-width="8"/><path d="M258.3 1787.1h.01" stroke="#1cc0b3" stroke-width="8"/><path d="M255.4 1787.0h.01" stroke="#1cc0b3" stroke-width="8"/><path d="M261.9 1790.8h.01" stroke="#1cc0b3" stroke-width="8"/><path d="M262.7 1789.4h.01" stroke="#1cc0b3" stroke-width="8"/><path d="M258.4 1789.7h.01" stroke="#1cc0b3" stroke-width="8"/><path d="M251.5 1790.7h.01" stroke="#1cc0b3" stroke-width="8"/><path d="M249.3 1789.6h.01" stroke="#1cc0b3" stroke-width="8"/><path d="M260.1 1790.5h.01" stroke="#1cc0b3" stroke-width="8"/><path d="M254.3 1793.6h.01" stroke="#1cc0b3" stroke-width="8"/><path d="M256.3 1789.0h.01" stroke="#1cc0b3" stroke-width="8"/><path d="M256.9 1789.1h.01" stroke="#1cc0b3" stroke-width="8"/><path d="M253.5 1789.5h.01" stroke="#1cc0b3" stroke-width="8"/><path d="M264.3 1790.4h.01" stroke="#1cc0b3" stroke-width="8"/><path d="M248.4 1791.0h.01" stroke="#1a1030" stroke-width="4.5"/><path d="M229.4 1801.3h.01" stroke="#412dbb" stroke-width="5.5"/><path d="M232.8 1799.3h.01" stroke="#412dbb" stroke-width="5.5"/><path d="M236.5 1795.7h.01" stroke="#412dbb" stroke-width="5.5"/><path d="M241.0 1793.1h.01" stroke="#412dbb" stroke-width="5.5"/><path d="M247.7 1774.4h.01" stroke="#3b72fe" stroke-width="6"/><path d="M251.6 1778.2h.01" stroke="#4369fe" stroke-width="6"/><path d="M254.8 1782.0h.01" stroke="#4433cd" stroke-width="5"/><path d="M258.5 1785.5h.01" stroke="#327cfc" stroke-width="6"/><path d="M261.8 1789.2h.01" stroke="#3b72fe" stroke-width="6"/><path d="M520.0 1073.1h.01" stroke="#4433cd" stroke-width="5"/><path d="M517.2 1073.8h.01" stroke="#4433cd" stroke-width="5"/><path d="M518.6 1072.1h.01" stroke="#4433cd" stroke-width="5"/><path d="M517.2 1074.0h.01" stroke="#4433cd" stroke-width="5"/><path d="M623.1 1146.1h.01" stroke="#2bc3a8" stroke-width="9"/><path d="M624.1 1147.4h.01" stroke="#2bc3a8" stroke-width="9"/><path d="M623.4 1142.0h.01" stroke="#2bc3a8" stroke-width="9"/><path d="M627.4 1148.1h.01" stroke="#2bc3a8" stroke-width="9"/><path d="M621.1 1150.9h.01" stroke="#2bc3a8" stroke-width="9"/><path d="M624.4 1147.6h.01" stroke="#2bc3a8" stroke-width="9"/><path d="M625.2 1152.8h.01" stroke="#2bc3a8" stroke-width="9"/><path d="M624.7 1152.4h.01" stroke="#2bc3a8" stroke-width="9"/><path d="M627.3 1145.0h.01" stroke="#2bc3a8" stroke-width="9"/><path d="M621.9 1150.5h.01" stroke="#2bc3a8" stroke-width="9"/><path d="M274.9 1758.5h.01" stroke="#4433cd" stroke-width="8"/><path d="M281.1 1760.5h.01" stroke="#4433cd" stroke-width="8"/><path d="M279.5 1756.2h.01" stroke="#4433cd" stroke-width="8"/><path d="M282.2 1759.5h.01" stroke="#4433cd" stroke-width="8"/><path d="M280.4 1759.8h.01" stroke="#4433cd" stroke-width="8"/><path d="M275.5 1757.0h.01" stroke="#4433cd" stroke-width="8"/><path d="M276.3 1761.3h.01" stroke="#4433cd" stroke-width="8"/><path d="M276.3 1758.4h.01" stroke="#4433cd" stroke-width="8"/><path d="M391.0 1719.7h.01" stroke="#3b72fe" stroke-width="8"/><path d="M392.3 1719.2h.01" stroke="#3b72fe" stroke-width="8"/><path d="M390.5 1716.4h.01" stroke="#3b72fe" stroke-width="8"/><path d="M391.7 1719.2h.01" stroke="#3b72fe" stroke-width="8"/><path d="M393.2 1718.6h.01" stroke="#3b72fe" stroke-width="8"/><path d="M386.9 1717.6h.01" stroke="#4433cd" stroke-width="5"/><path d="M386.6 1715.7h.01" stroke="#4433cd" stroke-width="5"/><path d="M386.7 1717.4h.01" stroke="#4433cd" stroke-width="5"/><path d="M295.5 1613.8h.01" stroke="#4433cd" stroke-width="4"/><path d="M295.2 1613.7h.01" stroke="#4433cd" stroke-width="4"/><path d="M518.9 1420.6h.01" stroke="#fff" stroke-width="4"/><path d="M518.6 1420.2h.01" stroke="#fff" stroke-width="4"/><path d="M569.4 1453.1h.01" stroke="#412dbb" stroke-width="6"/><path d="M579.6 1455.7h.01" stroke="#412dbb" stroke-width="6"/><path d="M579.8 1456.5h.01" stroke="#412dbb" stroke-width="6"/><path d="M573.2 1456.3h.01" stroke="#412dbb" stroke-width="6"/><path d="M583.2 1454.7h.01" stroke="#412dbb" stroke-width="6"/><path d="M580.9 1454.4h.01" stroke="#412dbb" stroke-width="6"/><path d="M567.2 1454.8h.01" stroke="#412dbb" stroke-width="6"/><path d="M570.1 1454.9h.01" stroke="#412dbb" stroke-width="6"/><path d="M572.1 1455.2h.01" stroke="#412dbb" stroke-width="6"/><path d="M568.5 1456.4h.01" stroke="#412dbb" stroke-width="6"/><path d="M581.8 1454.2h.01" stroke="#412dbb" stroke-width="6"/><path d="M569.7 1454.7h.01" stroke="#412dbb" stroke-width="6"/><path d="M569.2 1453.0h.01" stroke="#412dbb" stroke-width="6"/><path d="M568.5 1449.5h.01" stroke="#412dbb" stroke-width="6"/><path d="M566.2 1454.2h.01" stroke="#412dbb" stroke-width="6"/><path d="M568.3 1449.7h.01" stroke="#412dbb" stroke-width="6"/><path d="M790.1 1331.0h.01" stroke="#4433cd" stroke-width="4"/><path d="M789.8 1332.1h.01" stroke="#4433cd" stroke-width="4"/><path d="M791.0 1332.2h.01" stroke="#4433cd" stroke-width="4"/><path d="M799.5 1330.6h.01" stroke="#2bc3a8" stroke-width="6"/><path d="M799.1 1333.2h.01" stroke="#2bc3a8" stroke-width="6"/><path d="M612.2 1311.6h.01" stroke="#4433cd" stroke-width="4"/><path d="M615.7 1312.0h.01" stroke="#4433cd" stroke-width="4"/><path d="M613.5 1312.4h.01" stroke="#4433cd" stroke-width="4"/><path d="M587.1 1482.5h.01" stroke="#4433cd" stroke-width="4"/><path d="M588.1 1481.8h.01" stroke="#4433cd" stroke-width="4"/><path d="M588.3 1482.9h.01" stroke="#4433cd" stroke-width="4"/><path d="M634.3 1444.4h.01" stroke="#4433cd" stroke-width="4"/><path d="M634.0 1447.7h.01" stroke="#4433cd" stroke-width="4"/></g>
<g fill="none" stroke-width="2.3"><circle cx="246.1" cy="1753.6" r="3.8" stroke="#22c1b0"/><circle cx="507.1" cy="1601.0" r="5.0" stroke="#4435d1" fill="#40ca8e"/><circle cx="427.2" cy="1642.5" r="4.2" stroke="#4435d1"/><circle cx="295.8" cy="1757.8" r="4.9" stroke="#4435d1"/><circle cx="307.3" cy="1762.7" r="4.6" stroke="#4435d1"/><circle cx="315.6" cy="1761.6" r="4.6" stroke="#4435d1"/><circle cx="403.8" cy="1547.1" r="3.0" stroke="#4435d1"/><circle cx="397.8" cy="1549.1" r="3.0" stroke="#4435d1"/><circle cx="380.0" cy="1559.1" r="3.0" stroke="#4435d1"/></g>
<circle cx="478.2" cy="1048.2" r="4.9" fill="#fff" stroke="#05b6cd" stroke-width="2.9"/><circle cx="478.2" cy="1048.2" r="1.9" fill="#1a1030"/><circle cx="620.5" cy="1121.8" r="4.9" fill="#fff" stroke="#02bbc3" stroke-width="2.9"/><circle cx="620.5" cy="1121.8" r="1.9" fill="#1a1030"/><circle cx="640.9" cy="1148.1" r="4.9" fill="#fff" stroke="#02bbc3" stroke-width="2.9"/><circle cx="640.9" cy="1148.1" r="1.9" fill="#1a1030"/><circle cx="638.7" cy="1163.6" r="4.9" fill="#fff" stroke="#12beb9" stroke-width="2.9"/><circle cx="638.7" cy="1163.6" r="1.9" fill="#1a1030"/><circle cx="676.5" cy="1177.5" r="4.9" fill="#fff" stroke="#2cc4a7" stroke-width="2.9"/><circle cx="676.5" cy="1177.5" r="1.9" fill="#1a1030"/><circle cx="693.6" cy="1207.8" r="4.9" fill="#fff" stroke="#12beb9" stroke-width="2.9"/><circle cx="693.6" cy="1207.8" r="1.9" fill="#1a1030"/><circle cx="702.5" cy="1226.3" r="4.9" fill="#fff" stroke="#12beb9" stroke-width="2.9"/><circle cx="702.5" cy="1226.3" r="1.9" fill="#1a1030"/><circle cx="712.2" cy="1244.9" r="4.9" fill="#fff" stroke="#32c69f" stroke-width="2.9"/><circle cx="712.2" cy="1244.9" r="1.9" fill="#1a1030"/><circle cx="753.2" cy="1239.5" r="4.9" fill="#fff" stroke="#22c1b0" stroke-width="2.9"/><circle cx="753.2" cy="1239.5" r="1.9" fill="#1a1030"/><circle cx="741.6" cy="1258.8" r="4.9" fill="#fff" stroke="#32c69f" stroke-width="2.9"/><circle cx="741.6" cy="1258.8" r="1.9" fill="#1a1030"/><circle cx="194.1" cy="1758.0" r="4.9" fill="#fff" stroke="#12beb9" stroke-width="2.9"/><circle cx="194.1" cy="1758.0" r="1.9" fill="#1a1030"/>
<rect x="608.3" y="1191.6" width="26.4" height="26.4" fill="#fff"/><rect x="612.4" y="1195.7" width="18.2" height="18.2" fill="#000"/><rect x="606.2" y="1444.4" width="26.4" height="26.4" fill="#fff"/><rect x="610.3" y="1448.5" width="18.2" height="18.2" fill="#000"/><rect x="490.3" y="1569.1" width="26.4" height="26.4" fill="#fff"/><rect x="494.4" y="1573.2" width="18.2" height="18.2" fill="#000"/>
<rect x="90.1" y="1039.5" width="815.2" height="799.0" fill="none" stroke="#000" stroke-width="2"/><path d="M362.4 1039.5v8M362.4 1838.5v-8M634.9 1039.5v8M634.9 1838.5v-8M90.1 1095.2h8.5M905.3 1095.2h-8.5M90.1 1380.6h8.5M905.3 1380.6h-8.5M90.1 1669.0h8.5M905.3 1669.0h-8.5" stroke="#000" stroke-width="2" fill="none"/>
<text x="92.3" y="1904.8" text-anchor="middle" class="t">165</text><text x="364.6" y="1904.8" text-anchor="middle" class="t">170</text><text x="637.1" y="1904.8" text-anchor="middle" class="t">175</text><text x="907.5" y="1904.8" text-anchor="middle" class="t">180</text><text x="72.7" y="1114.2" text-anchor="end" class="t">-35</text><text x="72.7" y="1399.6" text-anchor="end" class="t">-40</text><text x="72.7" y="1688.0" text-anchor="end" class="t">-45</text><text x="8.0" y="1066.3" class="L">C</text><text x="499.7" y="1017.5" text-anchor="middle" class="T">500-year return period</text>
</g>
<g id="panelD">
<path d="M1479.6 1065.1L1483.8 1061.9L1490.0 1061.1L1500.3 1060.3L1504.0 1070.0L1509.2 1079.6L1519.5 1081.9L1529.9 1089.9L1541.8 1092.1L1552.2 1093.6L1559.5 1101.8L1569.9 1104.7L1574.3 1112.2L1578.8 1121.1L1583.2 1131.5L1586.2 1140.4L1589.2 1149.3L1593.6 1159.6L1598.1 1168.5L1601.7 1177.4L1603.9 1184.9L1605.5 1190.4L1612.5 1194.4L1617.5 1202.4L1620.5 1212.4L1624.5 1221.4L1632.5 1225.4L1638.5 1220.4L1639.5 1212.4L1635.5 1202.4L1630.5 1192.4L1625.5 1184.5L1623.0 1179.5L1632.5 1180.5L1644.4 1183.5L1657.4 1187.5L1661.4 1193.4L1657.4 1200.4L1654.8 1211.3L1657.7 1223.2L1662.2 1235.0L1669.6 1243.9L1680.0 1251.4L1691.8 1257.3L1703.6 1261.7L1715.5 1266.2L1727.4 1266.9L1737.7 1264.7L1745.1 1258.8L1752.5 1251.4L1759.9 1245.4L1768.8 1240.2L1779.1 1238.7L1789.5 1241.0L1799.9 1245.4L1802.7 1249.6L1798.6 1253.4L1794.8 1256.1L1791.6 1261.4L1789.8 1266.0L1787.8 1275.9L1787.3 1285.7L1786.8 1293.6L1781.9 1300.5L1774.0 1305.4L1767.2 1310.4L1764.7 1320.3L1764.2 1327.2L1771.7 1331.4L1765.0 1341.8L1758.2 1329.3L1745.1 1325.4L1733.2 1326.9L1722.9 1331.4L1714.8 1338.8L1710.6 1349.2L1711.8 1355.8L1719.4 1360.6L1715.9 1371.3L1712.3 1380.6L1707.3 1389.1L1700.2 1396.2L1695.9 1404.8L1689.4 1412.6L1681.0 1419.8L1676.0 1428.3L1669.5 1437.6L1665.3 1446.2L1658.1 1453.3L1649.5 1459.8L1641.1 1464.8L1632.5 1469.1L1624.6 1472.6L1618.2 1470.7L1613.0 1467.2L1608.0 1462.2L1606.8 1450.2L1605.3 1439.0L1609.8 1431.6L1614.2 1422.7L1617.9 1413.8L1619.4 1404.9L1618.7 1396.0L1615.7 1387.2L1609.8 1379.8L1600.9 1375.8L1592.1 1373.8L1583.2 1369.4L1572.8 1363.5L1562.4 1359.0L1552.1 1354.5L1543.2 1350.1L1538.8 1342.7L1540.2 1335.3L1547.7 1328.6L1557.9 1324.9L1569.8 1323.4L1579.6 1318.9L1585.1 1310.8L1586.1 1302.6L1586.6 1292.3L1588.6 1281.0L1592.7 1269.2L1596.6 1257.9L1595.1 1245.9L1589.6 1234.4L1584.1 1223.9L1577.6 1214.4L1573.6 1204.1L1568.4 1193.7L1561.0 1183.4L1553.2 1174.0L1550.7 1164.0L1543.3 1153.7L1534.4 1143.3L1525.5 1132.9L1516.6 1122.6L1507.8 1112.2L1501.3 1104.5L1503.3 1095.0L1495.9 1085.6L1487.0 1075.2ZM1501.8 1412.4L1500.3 1422.2L1501.8 1433.1L1500.3 1443.5L1504.7 1454.7L1512.1 1456.2L1519.5 1449.4L1528.4 1443.5L1535.8 1439.0L1542.7 1446.2L1550.7 1454.2L1555.6 1464.1L1561.2 1470.5L1566.9 1476.9L1569.7 1481.0L1562.6 1487.6L1556.3 1494.7L1550.6 1502.5L1544.8 1509.0L1538.4 1514.7L1533.4 1520.4L1527.0 1525.4L1524.1 1531.8L1521.3 1538.2L1517.7 1544.7L1512.8 1550.4L1505.7 1554.7L1498.5 1558.2L1491.4 1561.8L1484.9 1566.1L1481.4 1570.4L1480.8 1576.1L1484.8 1586.1L1493.9 1587.5L1504.3 1588.9L1509.3 1596.3L1504.8 1604.0L1495.4 1608.2L1487.3 1604.0L1480.5 1601.0L1470.2 1601.5L1459.8 1603.7L1449.5 1606.7L1439.1 1611.1L1428.7 1615.6L1418.4 1620.0L1409.5 1626.0L1403.6 1633.4L1400.0 1641.5L1399.0 1648.5L1400.1 1659.6L1394.4 1668.1L1387.3 1676.7L1382.4 1686.0L1380.2 1694.5L1375.2 1701.6L1371.7 1708.0L1374.5 1714.5L1375.6 1718.4L1370.1 1721.1L1362.4 1719.4L1354.5 1721.6L1347.4 1726.6L1346.0 1733.0L1340.3 1738.0L1333.2 1741.6L1326.1 1745.9L1323.2 1751.6L1317.5 1755.9L1310.3 1758.0L1303.2 1759.5L1296.2 1761.6L1289.9 1760.8L1279.5 1761.9L1267.6 1759.8L1255.8 1760.3L1246.9 1754.3L1239.5 1748.4L1230.6 1745.4L1220.2 1746.9L1211.4 1742.5L1205.5 1735.0L1196.6 1732.1L1187.7 1736.5L1178.8 1739.5L1168.5 1738.7L1158.1 1738.0L1149.2 1733.6L1143.3 1726.1L1141.0 1717.2L1142.5 1708.3L1147.7 1700.9L1155.1 1693.5L1161.1 1684.7L1168.5 1675.8L1177.3 1666.9L1187.7 1658.0L1198.1 1650.6L1208.5 1643.2L1217.3 1635.7L1226.2 1628.3L1235.1 1620.9L1242.5 1612.0L1251.4 1607.5L1261.7 1606.8L1273.5 1603.1L1283.9 1598.6L1294.3 1594.2L1306.1 1588.4L1317.9 1583.9L1328.3 1579.5L1338.7 1573.5L1349.0 1566.6L1357.7 1559.6L1368.0 1552.6L1377.0 1547.4L1385.8 1541.5L1393.2 1534.1L1400.6 1525.2L1405.0 1516.3L1408.0 1507.4L1411.7 1497.0L1413.9 1486.7L1419.9 1481.5L1430.2 1477.8L1439.1 1470.4L1446.5 1461.5L1449.5 1451.1L1449.5 1440.7L1450.9 1430.3L1458.4 1422.9L1468.7 1417.0L1479.0 1411.0L1489.4 1410.3ZM1217.3 1764.7L1205.5 1769.2L1208.5 1779.5L1202.5 1788.4L1190.7 1794.3L1196.6 1800.2L1208.5 1800.2L1214.4 1795.8L1221.7 1793.3L1228.4 1790.8L1235.1 1791.3L1241.0 1782.5L1239.5 1773.6L1232.1 1767.7L1224.4 1764.9Z" fill="#f5f4fc"/>
<g fill="none" stroke-linecap="round" stroke-width="9"><path d="M1524.5 1116.2h.01M1527.5 1118.4h.01M1530.2 1114.6h.01M1561.0 1114.7h.01M1570.9 1167.0h.01M1567.4 1165.5h.01M1567.0 1163.4h.01M1565.7 1169.1h.01M1575.7 1160.7h.01M1566.1 1161.4h.01M1576.0 1171.3h.01M1575.6 1167.5h.01M1592.6 1227.3h.01M1588.7 1311.9h.01M1475.7 1421.1h.01M1475.1 1420.3h.01M1501.5 1455.6h.01M1222.2 1645.3h.01" stroke="#3e26a8"/><path d="M1488.5 1072.9h.01M1537.7 1098.3h.01M1538.6 1098.0h.01M1532.9 1097.7h.01M1527.2 1116.4h.01M1529.3 1118.5h.01M1524.2 1118.0h.01M1525.9 1117.2h.01M1533.4 1116.6h.01M1528.1 1117.7h.01M1532.8 1115.7h.01M1531.3 1115.2h.01M1531.5 1116.3h.01M1528.9 1114.6h.01M1530.9 1117.8h.01M1570.6 1141.6h.01M1573.4 1140.7h.01M1562.1 1114.8h.01M1575.7 1161.0h.01M1569.1 1157.7h.01M1572.2 1170.9h.01M1577.2 1166.1h.01M1569.3 1170.8h.01M1566.1 1162.3h.01M1573.1 1165.9h.01M1562.8 1162.1h.01M1572.7 1162.9h.01M1573.7 1164.9h.01M1571.8 1168.3h.01M1576.0 1163.8h.01M1567.4 1159.5h.01M1577.2 1165.2h.01M1567.2 1157.9h.01M1562.8 1165.1h.01M1566.3 1170.8h.01M1569.0 1157.9h.01M1569.1 1158.6h.01M1573.6 1160.5h.01M1575.2 1167.2h.01M1577.1 1164.2h.01M1573.3 1176.4h.01M1571.1 1176.6h.01M1576.1 1172.6h.01M1575.4 1165.7h.01M1577.9 1164.6h.01M1591.7 1227.3h.01M1591.8 1226.3h.01M1595.3 1175.3h.01M1593.5 1176.9h.01M1623.6 1216.8h.01M1628.3 1209.3h.01M1621.5 1208.5h.01M1606.2 1254.9h.01M1606.3 1253.8h.01M1602.0 1250.9h.01M1605.0 1254.5h.01M1604.7 1256.2h.01M1602.2 1272.5h.01M1602.8 1273.6h.01M1602.4 1268.0h.01M1601.4 1274.3h.01M1598.7 1269.4h.01M1597.1 1261.0h.01M1586.1 1310.9h.01M1587.3 1312.2h.01M1675.1 1257.1h.01M1715.3 1272.0h.01M1715.9 1272.5h.01M1638.5 1198.9h.01M1640.5 1197.0h.01M1647.3 1212.5h.01M1608.0 1447.0h.01M1606.6 1446.1h.01M1499.2 1458.0h.01M1501.5 1457.6h.01M1508.8 1460.1h.01M1510.2 1461.1h.01M1506.9 1460.7h.01M1225.0 1647.5h.01M1223.4 1646.2h.01M1224.4 1647.3h.01M1222.3 1648.8h.01M1222.8 1648.8h.01M1225.6 1646.6h.01M1223.8 1646.2h.01" stroke="#412dbb"/><path d="M1488.6 1073.4h.01M1572.2 1141.3h.01M1572.6 1140.2h.01M1571.7 1140.4h.01M1571.8 1140.7h.01M1565.9 1173.6h.01M1561.9 1181.0h.01M1559.4 1174.8h.01M1566.6 1181.4h.01M1564.3 1172.0h.01M1561.6 1181.9h.01M1568.1 1186.1h.01M1563.0 1188.0h.01M1573.3 1179.8h.01M1568.0 1179.1h.01M1564.7 1173.9h.01M1565.1 1180.9h.01M1568.0 1182.0h.01M1562.0 1176.1h.01M1570.1 1172.2h.01M1564.8 1176.8h.01M1573.5 1180.9h.01M1565.7 1176.7h.01M1560.1 1175.3h.01M1573.0 1178.4h.01M1564.0 1177.1h.01M1561.3 1174.5h.01M1558.0 1178.6h.01M1562.6 1188.2h.01M1578.4 1167.8h.01M1575.4 1188.0h.01M1572.2 1187.7h.01M1556.0 1164.0h.01M1557.8 1164.1h.01M1555.4 1163.7h.01M1555.0 1165.9h.01M1553.4 1163.8h.01M1553.7 1163.7h.01M1558.0 1167.5h.01M1554.2 1162.5h.01M1617.5 1210.0h.01M1623.4 1200.0h.01M1611.8 1196.9h.01M1611.4 1200.3h.01M1614.7 1205.0h.01M1616.1 1208.9h.01M1625.2 1200.8h.01M1624.3 1205.3h.01M1609.9 1200.2h.01M1624.7 1200.4h.01M1615.4 1199.6h.01M1618.0 1203.4h.01M1614.7 1200.9h.01M1625.3 1201.3h.01M1614.9 1205.1h.01M1622.5 1210.5h.01M1628.6 1210.5h.01M1630.6 1215.0h.01M1624.1 1218.9h.01M1631.3 1215.8h.01M1629.0 1210.3h.01M1624.4 1216.5h.01M1623.4 1207.1h.01M1625.4 1220.4h.01M1635.4 1219.2h.01M1622.7 1212.0h.01M1626.5 1209.9h.01M1630.2 1221.5h.01M1632.8 1216.9h.01M1627.8 1217.8h.01M1623.7 1220.4h.01M1626.8 1207.9h.01M1630.1 1209.7h.01M1628.5 1219.8h.01M1624.9 1218.5h.01M1630.8 1220.8h.01M1630.4 1208.1h.01M1632.0 1221.4h.01M1622.0 1212.6h.01M1635.6 1212.9h.01M1617.6 1204.6h.01M1625.2 1207.4h.01M1627.2 1211.2h.01M1624.6 1212.4h.01M1617.4 1205.6h.01M1629.1 1205.3h.01M1618.4 1206.6h.01M1627.3 1204.2h.01M1626.8 1200.7h.01M1628.9 1205.0h.01M1625.0 1202.1h.01M1621.1 1207.7h.01M1624.8 1210.8h.01M1606.0 1253.6h.01M1600.1 1270.8h.01M1598.9 1259.6h.01M1664.3 1249.4h.01M1663.3 1248.3h.01M1670.1 1252.7h.01M1669.9 1253.2h.01M1669.8 1252.8h.01M1674.1 1256.9h.01M1646.8 1212.9h.01M1563.7 1453.4h.01M1226.8 1780.8h.01M1225.3 1779.8h.01M1226.2 1780.0h.01" stroke="#4433cd"/><path d="M1558.1 1183.5h.01M1574.2 1181.8h.01M1567.8 1184.0h.01M1562.8 1187.0h.01M1568.7 1186.1h.01M1561.8 1177.9h.01M1571.4 1173.4h.01M1570.3 1180.9h.01M1564.3 1174.3h.01M1569.1 1179.0h.01M1574.4 1177.3h.01M1559.9 1174.4h.01M1561.2 1185.2h.01M1568.8 1188.8h.01M1560.4 1177.4h.01M1556.2 1173.8h.01M1558.9 1174.1h.01M1559.0 1173.1h.01M1560.6 1174.1h.01M1572.1 1188.1h.01M1570.0 1187.6h.01M1576.3 1187.7h.01M1591.7 1224.5h.01M1594.0 1219.8h.01M1589.3 1222.7h.01M1593.7 1221.9h.01M1592.2 1222.0h.01M1591.0 1220.8h.01M1589.7 1224.3h.01M1594.6 1223.9h.01M1557.2 1167.7h.01M1554.1 1164.5h.01M1612.4 1196.3h.01M1617.3 1207.1h.01M1615.7 1203.4h.01M1623.9 1201.2h.01M1624.9 1203.9h.01M1620.2 1207.0h.01M1616.0 1200.0h.01M1617.2 1202.5h.01M1621.3 1207.9h.01M1611.7 1206.9h.01M1621.4 1200.7h.01M1613.6 1202.7h.01M1613.0 1198.6h.01M1617.1 1197.1h.01M1618.9 1194.5h.01M1635.7 1210.2h.01M1626.4 1212.4h.01M1626.1 1213.8h.01M1621.7 1212.2h.01M1628.2 1206.2h.01M1636.1 1210.2h.01M1626.1 1219.6h.01M1632.0 1211.2h.01M1626.1 1201.4h.01M1598.0 1260.2h.01M1659.1 1242.8h.01M1657.4 1242.4h.01M1659.2 1245.3h.01M1665.2 1248.9h.01M1664.9 1248.5h.01M1596.6 1430.6h.01M1595.2 1435.8h.01M1603.3 1431.2h.01M1599.9 1431.1h.01M1600.2 1434.1h.01M1600.7 1436.1h.01M1594.2 1432.4h.01M1599.6 1427.3h.01M1596.6 1428.8h.01M1602.5 1433.1h.01M1489.1 1429.9h.01M1490.1 1424.1h.01M1490.8 1425.9h.01M1488.0 1430.8h.01M1482.6 1430.4h.01M1490.2 1429.8h.01M1482.5 1425.3h.01M1490.4 1429.4h.01M1484.2 1430.8h.01M1553.5 1448.6h.01M1548.7 1426.4h.01M1558.1 1439.1h.01M1571.2 1430.4h.01M1575.3 1442.1h.01M1549.2 1440.4h.01M1563.6 1431.1h.01M1571.4 1428.3h.01M1556.0 1433.5h.01M1551.5 1424.6h.01M1559.4 1447.9h.01M1559.0 1447.9h.01M1571.5 1433.4h.01M1544.8 1443.5h.01M1549.5 1434.2h.01M1541.7 1442.5h.01M1543.4 1434.8h.01M1540.2 1438.7h.01M1565.2 1437.2h.01M1559.1 1432.8h.01M1542.1 1444.3h.01M1561.5 1425.4h.01M1554.1 1439.2h.01M1541.7 1432.6h.01M1546.1 1443.4h.01M1547.7 1431.2h.01M1568.9 1443.0h.01M1541.9 1443.0h.01M1549.6 1444.6h.01M1558.8 1447.2h.01M1539.9 1442.9h.01M1569.3 1441.7h.01M1554.9 1436.1h.01M1567.4 1432.1h.01M1560.5 1449.9h.01M1563.2 1433.7h.01M1555.5 1431.1h.01M1559.2 1425.7h.01M1552.5 1448.1h.01M1573.1 1446.7h.01M1554.9 1437.6h.01M1552.9 1448.8h.01M1555.0 1431.3h.01M1554.7 1448.3h.01M1567.9 1437.9h.01M1561.0 1452.2h.01M1553.4 1421.1h.01M1554.2 1424.2h.01M1554.8 1423.7h.01M1553.3 1418.7h.01M1551.9 1424.1h.01M1567.5 1452.4h.01M1566.0 1452.5h.01M1564.4 1456.4h.01M1565.6 1451.9h.01M1223.5 1781.9h.01" stroke="#463bdd"/><path d="M1559.4 1177.2h.01M1556.1 1174.9h.01M1559.5 1174.9h.01M1599.9 1430.1h.01M1598.0 1436.0h.01M1598.7 1429.3h.01M1601.4 1428.8h.01M1600.2 1434.5h.01M1597.7 1433.6h.01M1598.4 1433.1h.01M1595.0 1435.6h.01M1489.5 1429.5h.01M1483.6 1424.6h.01M1480.6 1424.3h.01M1490.7 1429.7h.01M1491.7 1423.5h.01M1495.0 1430.3h.01M1548.5 1437.9h.01M1573.5 1430.9h.01M1560.5 1452.8h.01M1541.2 1433.0h.01M1567.5 1447.4h.01M1555.5 1442.8h.01M1554.2 1437.4h.01M1574.8 1432.8h.01M1564.3 1434.9h.01M1562.1 1451.3h.01M1563.5 1440.8h.01M1556.0 1430.4h.01M1555.6 1432.3h.01M1549.0 1427.0h.01M1546.9 1448.5h.01M1573.5 1447.7h.01M1557.6 1453.5h.01M1558.0 1431.3h.01M1555.1 1450.8h.01M1561.1 1439.0h.01M1549.6 1439.2h.01M1560.5 1428.0h.01M1560.2 1451.2h.01M1560.8 1444.8h.01M1556.3 1453.4h.01M1545.0 1434.3h.01M1560.0 1431.7h.01M1567.9 1441.6h.01M1572.2 1446.8h.01M1562.2 1446.3h.01M1565.8 1426.8h.01M1561.5 1438.6h.01M1541.1 1440.1h.01M1566.7 1441.1h.01M1559.0 1425.6h.01M1550.4 1446.2h.01M1567.2 1430.0h.01M1545.4 1448.8h.01M1560.1 1448.4h.01M1562.1 1445.4h.01M1573.3 1438.6h.01M1553.5 1430.2h.01M1557.3 1441.4h.01M1543.4 1448.8h.01M1568.1 1435.5h.01M1553.2 1438.7h.01M1550.4 1444.0h.01M1555.3 1426.3h.01M1554.6 1452.4h.01M1547.9 1444.8h.01M1558.5 1442.3h.01M1542.0 1433.4h.01M1548.4 1425.7h.01M1551.3 1423.6h.01M1552.7 1425.3h.01M1557.1 1425.7h.01M1557.3 1425.3h.01M1558.2 1423.4h.01M1569.1 1445.4h.01M1571.2 1451.8h.01M1576.1 1444.4h.01M1572.2 1454.7h.01M1568.2 1443.0h.01M1569.3 1443.7h.01M1569.3 1450.9h.01M1573.6 1447.4h.01M1571.3 1452.7h.01M1574.9 1447.7h.01M1571.4 1444.7h.01M1577.0 1448.2h.01M1545.2 1431.8h.01M1553.1 1432.5h.01M1546.4 1437.8h.01M1560.8 1446.1h.01M1562.8 1446.7h.01M1561.7 1446.1h.01M1563.8 1444.7h.01M1547.4 1444.2h.01M1545.1 1439.5h.01M1546.6 1445.4h.01M1544.6 1445.0h.01" stroke="#4744e8"/><path d="M1511.3 1097.7h.01M1511.7 1097.3h.01M1553.7 1105.9h.01M1498.8 1425.0h.01M1496.5 1426.7h.01M1502.6 1426.7h.01M1496.3 1424.4h.01M1498.0 1426.5h.01M1499.7 1430.1h.01M1495.9 1426.2h.01M1495.2 1425.8h.01M1497.2 1426.3h.01M1501.5 1426.0h.01M1494.6 1427.9h.01M1498.0 1422.0h.01M1492.8 1427.7h.01M1553.0 1441.2h.01M1569.7 1452.8h.01M1575.3 1444.8h.01M1544.8 1433.4h.01M1548.0 1428.5h.01M1555.0 1432.0h.01M1545.2 1433.5h.01" stroke="#484df0"/><path d="M1522.5 1127.2h.01M1522.1 1126.8h.01M1520.5 1126.0h.01M1571.7 1139.7h.01M1552.0 1106.3h.01M1588.9 1176.7h.01M1592.2 1176.3h.01M1590.4 1175.0h.01M1592.2 1177.8h.01M1591.5 1178.3h.01M1590.5 1181.0h.01M1591.7 1176.6h.01M1588.2 1181.8h.01M1592.1 1179.7h.01M1597.9 1187.8h.01M1589.5 1187.9h.01M1596.6 1188.3h.01M1597.5 1187.5h.01M1601.9 1189.1h.01M1596.5 1189.1h.01M1593.7 1185.3h.01M1592.5 1186.6h.01M1248.7 1750.5h.01M1247.2 1751.1h.01M1246.3 1750.6h.01M1247.7 1752.3h.01" stroke="#4756f7"/><path d="M1591.3 1184.4h.01M1596.3 1188.7h.01M1593.1 1187.5h.01M1596.8 1189.2h.01M1593.3 1189.8h.01M1591.0 1187.8h.01M1593.6 1185.3h.01M1597.5 1189.8h.01M1594.7 1187.9h.01" stroke="#465ffb"/><path d="M1256.6 1770.2h.01M1235.3 1783.2h.01M1224.5 1775.1h.01" stroke="#4369fe"/><path d="M1252.3 1771.1h.01M1257.0 1767.4h.01M1256.0 1773.6h.01M1250.5 1769.5h.01M1258.5 1770.5h.01M1251.7 1765.9h.01M1249.2 1770.8h.01M1256.8 1769.5h.01M1255.6 1770.1h.01M1246.7 1766.0h.01M1242.7 1765.4h.01M1246.1 1763.4h.01M1231.3 1773.7h.01M1232.9 1780.5h.01M1229.1 1781.1h.01M1230.8 1776.0h.01M1229.4 1775.6h.01M1230.0 1776.3h.01M1233.9 1774.5h.01M1222.4 1773.1h.01M1221.6 1773.6h.01M1222.9 1775.8h.01M1221.5 1773.7h.01M1223.2 1770.9h.01M1212.5 1790.0h.01M1215.3 1793.7h.01M1230.0 1788.9h.01M1228.3 1789.6h.01" stroke="#3b72fe"/><path d="M1258.3 1765.4h.01M1252.8 1772.5h.01M1246.6 1763.6h.01M1229.5 1782.6h.01M1226.7 1777.3h.01M1229.5 1784.3h.01M1232.0 1783.2h.01M1234.1 1777.6h.01M1232.6 1782.7h.01M1227.7 1778.7h.01M1230.2 1774.5h.01M1223.3 1773.1h.01M1225.5 1779.4h.01M1216.4 1775.5h.01M1211.9 1770.7h.01M1217.0 1770.4h.01M1218.0 1787.1h.01M1214.8 1786.3h.01M1219.4 1785.1h.01M1215.3 1792.8h.01M1214.0 1795.8h.01M1229.0 1788.6h.01M1228.4 1786.0h.01M1228.0 1784.2h.01M1232.1 1787.1h.01" stroke="#327cfc"/><path d="M1217.9 1770.5h.01M1215.7 1775.0h.01M1217.3 1769.1h.01M1216.7 1775.4h.01M1219.3 1772.4h.01M1219.5 1769.1h.01M1212.9 1774.2h.01M1213.9 1775.9h.01M1210.3 1781.2h.01M1208.8 1776.3h.01M1212.1 1780.5h.01M1212.4 1780.1h.01M1214.4 1777.4h.01M1203.2 1788.5h.01M1208.7 1785.8h.01M1215.6 1783.8h.01M1218.8 1783.5h.01M1214.7 1786.3h.01" stroke="#2e86f8"/><path d="M1208.6 1775.7h.01M1212.3 1782.7h.01M1211.0 1779.1h.01M1214.8 1778.7h.01M1206.3 1784.5h.01M1208.4 1789.4h.01M1202.6 1786.7h.01M1204.6 1789.6h.01M1205.7 1790.5h.01M1205.6 1790.4h.01M1199.4 1790.5h.01M1197.6 1793.6h.01M1195.9 1793.9h.01M1198.3 1793.4h.01M1197.4 1793.7h.01M1201.1 1790.3h.01M1202.5 1794.5h.01" stroke="#2c8ef1"/><path d="M1497.5 1597.3h.01M1494.9 1594.8h.01M1492.5 1594.6h.01M1497.2 1595.8h.01M1494.1 1594.7h.01M1495.2 1603.4h.01M1494.2 1605.1h.01M1494.6 1603.4h.01M1492.8 1602.6h.01M1495.6 1600.9h.01M1501.4 1597.9h.01M1503.6 1595.8h.01M1502.2 1596.9h.01M1198.6 1791.5h.01" stroke="#2797eb"/><path d="M1499.4 1594.8h.01M1501.0 1594.0h.01" stroke="#249ee6"/></g>
<g fill="none" stroke-linecap="round" stroke-width="8.5"><path d="M1173.2 1686.2h.01" stroke="#4756f7"/><path d="M1177.5 1693.9h.01" stroke="#412dbb"/><path d="M1178.6 1676.6h.01" stroke="#412dbb"/><path d="M1174.7 1697.3h.01" stroke="#412dbb"/><path d="M1184.8 1683.6h.01" stroke="#412dbb"/><path d="M1211.1 1651.0h.01" stroke="#4433cd"/><path d="M1166.4 1715.4h.01" stroke="#412dbb"/><path d="M1154.5 1719.4h.01" stroke="#4756f7"/><path d="M1200.2 1660.3h.01" stroke="#412dbb"/><path d="M1166.9 1695.7h.01" stroke="#4433cd"/><path d="M1188.0 1672.0h.01" stroke="#463bdd"/><path d="M1172.2 1703.7h.01" stroke="#4433cd"/><path d="M1155.1 1723.3h.01" stroke="#412dbb"/><path d="M1182.1 1676.9h.01" stroke="#463bdd"/><path d="M1169.9 1712.4h.01" stroke="#463bdd"/><path d="M1206.8 1654.8h.01" stroke="#412dbb"/><path d="M1153.6 1725.2h.01" stroke="#3b72fe"/><path d="M1182.0 1687.7h.01" stroke="#412dbb"/><path d="M1158.2 1728.0h.01" stroke="#463bdd"/><path d="M1156.7 1713.3h.01" stroke="#412dbb"/><path d="M1155.8 1727.1h.01" stroke="#4433cd"/><path d="M1179.9 1691.7h.01" stroke="#4744e8"/><path d="M1166.1 1717.8h.01" stroke="#412dbb"/><path d="M1204.7 1657.6h.01" stroke="#412dbb"/><path d="M1162.8 1704.4h.01" stroke="#463bdd"/><path d="M1165.4 1720.7h.01" stroke="#4744e8"/><path d="M1179.5 1680.2h.01" stroke="#4744e8"/><path d="M1161.9 1701.4h.01" stroke="#412dbb"/><path d="M1198.1 1663.2h.01" stroke="#412dbb"/><path d="M1186.2 1672.5h.01" stroke="#412dbb"/><path d="M1193.2 1666.5h.01" stroke="#3b72fe"/><path d="M1171.3 1693.3h.01" stroke="#3b72fe"/><path d="M1174.9 1683.1h.01" stroke="#412dbb"/><path d="M1183.0 1684.5h.01" stroke="#463bdd"/><path d="M1170.3 1709.0h.01" stroke="#412dbb"/><path d="M1188.0 1669.7h.01" stroke="#412dbb"/><path d="M1175.4 1697.8h.01" stroke="#412dbb"/><path d="M1208.7 1652.0h.01" stroke="#463bdd"/><path d="M1195.8 1664.6h.01" stroke="#412dbb"/><path d="M1158.8 1713.3h.01" stroke="#4744e8"/><path d="M1167.7 1697.4h.01" stroke="#412dbb"/><path d="M1173.3 1689.4h.01" stroke="#412dbb"/><path d="M1173.4 1700.4h.01" stroke="#3b72fe"/><path d="M1159.1 1707.6h.01" stroke="#412dbb"/><path d="M1163.3 1701.2h.01" stroke="#463bdd"/></g>
<g fill="none" stroke-linecap="round" stroke-width="11.3"><path d="M1626.5 1222.7h.01M1631.3 1224.2h.01M1208.3 1800.4h.01" stroke="#412dbb"/><path d="M1528.2 1088.9h.01M1612.7 1195.4h.01M1614.2 1197.1h.01M1618.9 1208.9h.01M1619.9 1211.0h.01M1622.6 1216.0h.01M1623.2 1218.7h.01M1624.2 1220.9h.01M1632.7 1224.8h.01M1633.7 1200.5h.01M1633.4 1198.2h.01" stroke="#4433cd"/><path d="M1510.1 1080.1h.01M1523.7 1085.8h.01M1526.7 1086.9h.01M1541.1 1092.4h.01M1546.4 1092.3h.01M1555.4 1096.8h.01M1615.5 1198.9h.01M1616.3 1201.8h.01M1618.2 1203.9h.01M1621.1 1214.0h.01M1629.1 1223.2h.01M1634.6 1223.4h.01M1637.4 1222.0h.01M1638.8 1219.2h.01M1639.1 1214.4h.01M1638.3 1209.3h.01M1637.0 1206.9h.01M1636.4 1204.6h.01M1634.8 1202.1h.01M1631.4 1195.6h.01M1630.5 1192.5h.01M1206.2 1800.8h.01" stroke="#463bdd"/><path d="M1512.2 1080.5h.01M1518.0 1081.6h.01M1520.3 1082.3h.01M1532.5 1090.9h.01M1535.5 1091.4h.01M1537.7 1091.4h.01M1543.0 1092.3h.01M1551.1 1093.2h.01M1558.8 1100.8h.01M1560.7 1102.4h.01M1618.5 1206.3h.01M1639.3 1217.6h.01M1629.8 1190.5h.01M1548.9 1452.6h.01M1210.2 1798.8h.01" stroke="#4744e8"/><path d="M1507.2 1076.4h.01M1509.0 1077.7h.01M1515.6 1081.0h.01M1522.2 1084.1h.01M1530.1 1089.6h.01M1548.0 1092.8h.01M1552.5 1094.6h.01M1556.6 1098.7h.01M1562.3 1102.9h.01M1610.5 1193.4h.01M1639.8 1212.3h.01M1500.8 1423.1h.01M1501.1 1428.2h.01M1545.3 1448.7h.01M1546.2 1449.8h.01" stroke="#484df0"/><path d="M1608.0 1192.6h.01M1500.5 1424.8h.01M1541.0 1444.5h.01M1550.5 1454.2h.01M1363.6 1719.3h.01M1203.6 1799.8h.01" stroke="#4756f7"/><path d="M1605.9 1190.9h.01M1537.6 1440.6h.01M1543.5 1446.0h.01M1551.2 1456.0h.01M1361.5 1719.4h.01M1212.9 1797.1h.01" stroke="#465ffb"/><path d="M1504.7 1071.1h.01M1505.6 1073.7h.01M1564.7 1102.9h.01M1500.7 1419.9h.01M1501.9 1430.1h.01M1501.1 1435.9h.01M1536.1 1439.0h.01M1358.2 1720.8h.01" stroke="#4369fe"/><path d="M1503.4 1069.1h.01M1567.6 1103.6h.01M1575.9 1115.9h.01M1586.8 1142.3h.01M1590.3 1152.3h.01M1593.2 1160.0h.01M1595.3 1162.4h.01M1597.0 1167.1h.01M1604.2 1186.6h.01M1604.7 1188.4h.01M1627.6 1189.0h.01M1501.8 1415.5h.01M1500.4 1418.0h.01M1501.9 1433.2h.01M1501.4 1438.1h.01M1527.0 1444.9h.01M1533.4 1440.4h.01M1552.8 1458.1h.01M1366.5 1720.3h.01M1200.7 1799.8h.01M1227.1 1791.4h.01M1236.1 1790.1h.01" stroke="#3b72fe"/><path d="M1501.8 1063.6h.01M1502.1 1066.2h.01M1572.9 1109.1h.01M1573.9 1111.3h.01M1577.4 1118.4h.01M1578.2 1121.6h.01M1579.8 1123.0h.01M1580.8 1126.4h.01M1582.2 1128.4h.01M1582.4 1130.9h.01M1584.9 1136.1h.01M1589.2 1147.7h.01M1591.8 1155.5h.01M1595.6 1164.7h.01M1599.6 1171.1h.01M1600.8 1174.2h.01M1600.9 1176.6h.01M1602.4 1180.6h.01M1626.2 1185.8h.01M1587.6 1288.1h.01M1587.2 1285.7h.01M1572.1 1202.1h.01M1555.1 1176.2h.01M1501.7 1447.8h.01M1512.8 1454.9h.01M1529.7 1442.5h.01M1531.0 1442.2h.01M1539.1 1442.3h.01M1221.9 1747.0h.01M1235.1 1621.1h.01M1297.4 1593.2h.01M1402.7 1520.5h.01M1206.5 1781.5h.01M1198.1 1800.0h.01M1214.9 1795.3h.01M1217.7 1795.5h.01M1220.2 1794.1h.01M1222.4 1793.2h.01M1232.4 1790.8h.01M1237.9 1786.9h.01M1238.8 1785.6h.01M1239.3 1775.5h.01M1238.5 1773.4h.01M1499.3 1416.3h.01" stroke="#327cfc"/><path d="M1488.4 1060.9h.01M1494.6 1060.2h.01M1497.1 1060.3h.01M1569.5 1104.6h.01M1570.8 1107.7h.01M1575.7 1114.7h.01M1583.7 1133.3h.01M1585.8 1138.3h.01M1585.9 1140.4h.01M1587.5 1145.6h.01M1593.0 1157.4h.01M1598.2 1169.6h.01M1602.0 1178.8h.01M1603.6 1184.2h.01M1619.4 1403.7h.01M1610.3 1380.0h.01M1553.5 1355.5h.01M1584.6 1311.0h.01M1586.1 1303.7h.01M1586.7 1293.2h.01M1586.5 1291.0h.01M1589.6 1278.4h.01M1590.8 1275.7h.01M1595.3 1260.7h.01M1595.9 1253.0h.01M1592.8 1240.5h.01M1589.2 1233.6h.01M1585.9 1226.9h.01M1574.7 1207.0h.01M1574.0 1204.6h.01M1571.3 1200.0h.01M1566.2 1191.0h.01M1563.4 1186.8h.01M1556.5 1178.8h.01M1552.0 1169.6h.01M1551.1 1164.0h.01M1547.8 1160.5h.01M1544.5 1155.9h.01M1533.4 1141.9h.01M1530.1 1137.4h.01M1522.8 1129.9h.01M1521.5 1128.5h.01M1511.3 1115.8h.01M1502.4 1099.7h.01M1502.6 1097.2h.01M1485.3 1072.5h.01M1501.2 1412.1h.01M1501.0 1440.4h.01M1500.4 1443.7h.01M1501.1 1445.8h.01M1502.9 1450.6h.01M1506.0 1454.7h.01M1507.5 1455.5h.01M1510.6 1455.7h.01M1516.7 1451.7h.01M1519.1 1450.6h.01M1521.0 1449.2h.01M1522.4 1446.9h.01M1524.4 1445.3h.01M1553.6 1460.4h.01M1520.1 1540.5h.01M1480.7 1572.1h.01M1493.4 1587.1h.01M1463.8 1602.8h.01M1399.8 1641.9h.01M1399.1 1649.5h.01M1398.7 1662.3h.01M1380.3 1692.6h.01M1375.2 1715.4h.01M1373.0 1720.0h.01M1368.8 1720.5h.01M1355.9 1721.4h.01M1336.8 1739.6h.01M1315.1 1756.8h.01M1294.0 1761.6h.01M1292.5 1760.6h.01M1284.8 1761.5h.01M1272.0 1760.3h.01M1246.8 1754.0h.01M1239.2 1747.7h.01M1234.4 1746.3h.01M1231.4 1745.3h.01M1214.1 1743.5h.01M1208.7 1739.1h.01M1202.5 1733.6h.01M1236.8 1619.2h.01M1246.4 1609.8h.01M1248.8 1609.5h.01M1285.5 1598.2h.01M1325.5 1580.7h.01M1333.3 1577.0h.01M1341.3 1571.5h.01M1349.8 1565.8h.01M1353.9 1562.8h.01M1356.1 1561.1h.01M1373.3 1549.7h.01M1402.1 1523.3h.01M1403.8 1518.3h.01M1412.0 1494.0h.01M1464.4 1419.4h.01M1475.2 1413.3h.01M1485.5 1410.7h.01M1500.4 1412.1h.01M1214.6 1765.1h.01M1212.4 1766.5h.01M1205.0 1769.2h.01M1206.4 1771.7h.01M1208.1 1777.0h.01M1197.9 1790.2h.01M1191.8 1796.2h.01M1225.0 1791.8h.01M1228.9 1790.5h.01M1240.2 1783.4h.01M1240.8 1780.2h.01M1240.3 1778.4h.01M1236.8 1771.4h.01M1235.2 1769.5h.01M1232.7 1768.7h.01M1228.7 1765.8h.01M1225.8 1765.4h.01M1490.3 1073.1h.01M1497.3 1080.8h.01M1500.8 1084.6h.01M1502.6 1086.4h.01M1484.0 1414.6h.01M1486.6 1414.5h.01M1491.8 1414.3h.01M1494.3 1414.7h.01M1496.8 1415.5h.01M1633.8 1197.4h.01M1635.2 1199.6h.01M1637.9 1204.0h.01M1640.7 1208.4h.01M1645.9 1217.4h.01M1647.1 1219.7h.01" stroke="#2e86f8"/><path d="M1485.8 1061.1h.01M1491.6 1061.5h.01M1499.0 1060.7h.01M1500.4 1061.8h.01M1590.1 1150.1h.01M1605.2 1442.3h.01M1605.6 1439.5h.01M1606.9 1437.5h.01M1619.4 1406.0h.01M1619.5 1398.2h.01M1615.9 1389.1h.01M1615.2 1386.9h.01M1613.4 1384.7h.01M1611.7 1382.5h.01M1598.6 1375.5h.01M1595.3 1374.7h.01M1593.7 1374.5h.01M1585.7 1370.3h.01M1581.8 1368.2h.01M1565.2 1360.5h.01M1540.2 1343.9h.01M1544.3 1331.6h.01M1556.4 1326.0h.01M1578.7 1319.4h.01M1585.6 1309.3h.01M1586.1 1306.5h.01M1585.7 1301.0h.01M1586.3 1295.9h.01M1587.8 1283.4h.01M1591.2 1273.7h.01M1592.0 1271.1h.01M1593.5 1265.7h.01M1594.1 1263.3h.01M1596.0 1258.8h.01M1594.8 1245.8h.01M1592.0 1238.4h.01M1590.3 1236.0h.01M1586.7 1229.3h.01M1585.0 1225.2h.01M1581.2 1220.8h.01M1579.6 1218.8h.01M1578.9 1215.8h.01M1577.1 1214.2h.01M1576.3 1211.1h.01M1570.2 1197.0h.01M1569.0 1194.4h.01M1567.6 1192.3h.01M1564.1 1188.9h.01M1561.5 1184.1h.01M1560.2 1182.4h.01M1557.8 1180.3h.01M1553.6 1174.4h.01M1552.4 1172.2h.01M1551.0 1166.7h.01M1549.7 1162.0h.01M1546.5 1158.2h.01M1543.4 1154.0h.01M1539.3 1149.5h.01M1538.7 1147.9h.01M1536.7 1146.1h.01M1531.6 1139.8h.01M1528.4 1136.4h.01M1526.6 1133.8h.01M1524.8 1131.7h.01M1519.1 1126.1h.01M1518.3 1124.2h.01M1516.7 1122.1h.01M1514.6 1120.7h.01M1513.4 1118.1h.01M1509.1 1113.6h.01M1505.6 1110.7h.01M1504.7 1108.0h.01M1503.0 1105.9h.01M1502.1 1094.4h.01M1501.5 1091.7h.01M1499.1 1090.6h.01M1496.2 1086.3h.01M1493.1 1082.0h.01M1487.4 1076.8h.01M1486.1 1074.3h.01M1483.1 1070.4h.01M1481.5 1068.1h.01M1480.5 1065.5h.01M1503.9 1453.0h.01M1522.0 1535.8h.01M1501.2 1556.9h.01M1490.1 1562.9h.01M1483.6 1568.2h.01M1481.4 1577.0h.01M1482.1 1579.6h.01M1495.9 1587.7h.01M1493.1 1607.5h.01M1486.3 1603.9h.01M1479.3 1601.5h.01M1471.7 1601.7h.01M1458.6 1604.0h.01M1456.5 1604.5h.01M1453.6 1605.3h.01M1448.4 1606.8h.01M1444.5 1608.9h.01M1434.9 1613.5h.01M1432.1 1614.8h.01M1429.9 1615.1h.01M1425.1 1617.3h.01M1420.2 1619.7h.01M1416.2 1621.7h.01M1406.5 1630.3h.01M1401.9 1637.5h.01M1401.1 1638.8h.01M1399.4 1652.6h.01M1400.2 1656.7h.01M1399.5 1659.3h.01M1396.6 1663.5h.01M1395.9 1666.0h.01M1393.8 1668.1h.01M1386.8 1679.0h.01M1384.9 1681.4h.01M1384.0 1683.7h.01M1382.6 1686.0h.01M1382.1 1687.6h.01M1379.4 1695.0h.01M1376.7 1699.5h.01M1374.7 1702.1h.01M1373.7 1703.7h.01M1372.3 1705.7h.01M1353.5 1721.7h.01M1351.2 1724.1h.01M1349.0 1725.3h.01M1346.6 1729.0h.01M1345.8 1732.1h.01M1345.5 1734.3h.01M1331.5 1742.8h.01M1330.0 1743.9h.01M1327.1 1744.7h.01M1325.4 1746.6h.01M1323.7 1751.4h.01M1321.3 1753.2h.01M1319.1 1753.9h.01M1309.3 1758.6h.01M1307.4 1758.5h.01M1304.9 1759.6h.01M1302.6 1759.7h.01M1300.1 1760.8h.01M1297.3 1761.2h.01M1286.6 1761.2h.01M1281.2 1761.5h.01M1279.0 1761.5h.01M1276.8 1761.6h.01M1273.7 1760.6h.01M1268.7 1760.5h.01M1261.3 1760.0h.01M1255.8 1759.9h.01M1253.2 1758.7h.01M1251.6 1757.0h.01M1249.3 1756.0h.01M1245.8 1753.3h.01M1243.8 1751.5h.01M1240.7 1749.7h.01M1237.2 1747.6h.01M1226.3 1746.1h.01M1219.5 1746.1h.01M1216.6 1745.2h.01M1214.8 1637.2h.01M1219.0 1633.8h.01M1225.4 1628.9h.01M1227.0 1627.2h.01M1229.5 1625.8h.01M1232.8 1622.1h.01M1239.9 1614.2h.01M1242.1 1612.4h.01M1251.2 1608.2h.01M1253.2 1607.0h.01M1256.4 1607.4h.01M1261.3 1606.8h.01M1268.4 1604.7h.01M1271.1 1603.3h.01M1274.1 1603.2h.01M1276.1 1602.3h.01M1278.1 1600.6h.01M1281.0 1599.5h.01M1283.5 1598.9h.01M1288.0 1596.8h.01M1290.5 1596.3h.01M1293.0 1594.7h.01M1295.0 1593.6h.01M1299.6 1591.8h.01M1302.3 1590.2h.01M1306.1 1587.7h.01M1312.0 1586.1h.01M1314.2 1585.9h.01M1315.9 1583.9h.01M1319.3 1583.5h.01M1321.3 1582.3h.01M1323.3 1582.0h.01M1337.0 1573.9h.01M1347.9 1567.0h.01M1352.4 1563.9h.01M1358.8 1559.7h.01M1360.3 1557.1h.01M1367.2 1552.8h.01M1368.9 1552.4h.01M1372.0 1550.1h.01M1375.9 1547.7h.01M1378.0 1546.2h.01M1381.9 1543.8h.01M1388.3 1538.9h.01M1390.8 1536.9h.01M1395.0 1531.4h.01M1397.1 1529.4h.01M1399.1 1527.5h.01M1400.5 1525.4h.01M1406.1 1514.1h.01M1406.5 1511.3h.01M1407.2 1508.2h.01M1410.4 1499.2h.01M1413.2 1491.2h.01M1445.1 1463.1h.01M1451.3 1430.6h.01M1458.3 1423.8h.01M1468.9 1416.3h.01M1471.4 1415.6h.01M1478.3 1411.7h.01M1479.9 1411.2h.01M1482.4 1411.0h.01M1490.5 1410.6h.01M1495.6 1411.1h.01M1498.4 1411.8h.01M1210.2 1767.3h.01M1208.1 1768.4h.01M1206.7 1774.8h.01M1205.8 1783.2h.01M1204.3 1785.5h.01M1203.2 1788.1h.01M1200.7 1789.6h.01M1193.1 1792.4h.01M1193.4 1797.8h.01M1195.2 1799.8h.01M1235.1 1790.8h.01M1231.1 1767.1h.01M1222.9 1764.9h.01M1220.7 1764.6h.01M1217.7 1764.2h.01M1492.1 1074.9h.01M1495.5 1078.9h.01M1499.0 1082.7h.01M1504.5 1088.3h.01M1474.3 1417.8h.01M1476.7 1416.8h.01M1481.5 1414.9h.01M1489.2 1414.4h.01M1632.4 1195.2h.01M1636.6 1201.8h.01M1639.3 1206.2h.01M1642.1 1210.6h.01M1643.4 1212.8h.01M1644.8 1215.0h.01M1648.2 1222.0h.01" stroke="#2c8ef1"/><path d="M1479.8 1064.6h.01M1481.7 1063.3h.01M1483.2 1061.8h.01M1625.5 1184.0h.01M1658.1 1188.3h.01M1607.2 1435.1h.01M1612.0 1427.8h.01M1612.7 1426.0h.01M1614.3 1421.6h.01M1616.2 1419.0h.01M1618.1 1413.9h.01M1618.0 1410.9h.01M1618.5 1409.2h.01M1618.8 1401.3h.01M1618.4 1395.6h.01M1618.1 1394.0h.01M1617.5 1390.8h.01M1607.5 1379.4h.01M1584.0 1370.1h.01M1579.7 1366.8h.01M1576.9 1365.8h.01M1574.6 1364.9h.01M1572.4 1363.2h.01M1567.2 1361.2h.01M1563.1 1358.9h.01M1561.1 1357.8h.01M1557.7 1356.8h.01M1555.3 1356.1h.01M1551.0 1354.4h.01M1548.6 1353.4h.01M1546.8 1351.7h.01M1543.7 1350.8h.01M1541.3 1346.4h.01M1539.4 1341.5h.01M1539.9 1339.5h.01M1539.7 1337.4h.01M1540.9 1335.0h.01M1543.1 1333.1h.01M1546.9 1329.8h.01M1549.2 1328.3h.01M1550.9 1327.3h.01M1553.4 1326.2h.01M1558.4 1324.6h.01M1561.3 1324.1h.01M1564.4 1324.4h.01M1565.9 1324.4h.01M1569.5 1323.9h.01M1571.7 1322.6h.01M1573.3 1321.3h.01M1580.5 1317.8h.01M1581.7 1315.9h.01M1583.8 1313.4h.01M1586.6 1298.8h.01M1588.2 1280.7h.01M1592.5 1268.9h.01M1596.0 1256.3h.01M1596.0 1250.9h.01M1595.3 1248.3h.01M1594.2 1243.7h.01M1587.9 1231.3h.01M1583.6 1222.9h.01M1575.1 1209.5h.01M1542.0 1151.7h.01M1535.0 1143.9h.01M1507.3 1112.8h.01M1501.6 1104.7h.01M1502.1 1101.2h.01M1497.9 1087.6h.01M1494.2 1084.4h.01M1491.1 1080.5h.01M1489.6 1077.9h.01M1515.1 1453.8h.01M1555.4 1462.8h.01M1566.6 1476.4h.01M1539.4 1513.2h.01M1538.0 1515.6h.01M1534.7 1519.1h.01M1533.0 1520.9h.01M1531.0 1523.1h.01M1529.0 1524.2h.01M1527.2 1525.8h.01M1525.5 1528.0h.01M1524.4 1530.9h.01M1523.5 1533.2h.01M1521.2 1538.2h.01M1517.7 1544.8h.01M1516.5 1546.4h.01M1513.9 1548.2h.01M1511.9 1550.1h.01M1506.1 1554.1h.01M1503.0 1555.3h.01M1498.7 1557.6h.01M1496.6 1559.6h.01M1494.5 1559.9h.01M1492.3 1562.0h.01M1487.4 1564.9h.01M1485.1 1565.6h.01M1482.4 1570.1h.01M1482.6 1581.5h.01M1486.0 1586.6h.01M1488.3 1586.3h.01M1490.9 1586.7h.01M1500.5 1588.6h.01M1505.4 1590.1h.01M1502.4 1605.0h.01M1495.7 1608.1h.01M1488.2 1604.6h.01M1484.6 1602.9h.01M1481.2 1601.3h.01M1474.3 1601.3h.01M1469.3 1601.2h.01M1466.6 1602.5h.01M1461.6 1603.9h.01M1451.6 1606.6h.01M1446.0 1608.1h.01M1442.0 1610.5h.01M1439.1 1611.6h.01M1436.2 1611.6h.01M1427.1 1616.4h.01M1418.4 1620.4h.01M1413.5 1623.7h.01M1411.9 1625.1h.01M1409.3 1625.8h.01M1404.4 1632.4h.01M1402.7 1634.2h.01M1399.0 1644.1h.01M1399.5 1646.5h.01M1399.7 1654.5h.01M1392.6 1670.2h.01M1390.8 1672.2h.01M1387.5 1676.5h.01M1381.0 1690.9h.01M1378.2 1697.0h.01M1372.1 1708.4h.01M1372.5 1710.7h.01M1374.4 1712.9h.01M1375.4 1718.6h.01M1371.0 1720.3h.01M1347.2 1726.8h.01M1343.5 1736.1h.01M1340.5 1737.5h.01M1339.1 1738.5h.01M1334.7 1740.9h.01M1324.7 1748.6h.01M1316.9 1755.4h.01M1311.7 1757.8h.01M1289.7 1760.3h.01M1266.1 1760.2h.01M1263.8 1760.3h.01M1258.9 1760.6h.01M1229.6 1745.4h.01M1223.7 1746.7h.01M1212.2 1743.0h.01M1210.7 1741.6h.01M1207.2 1736.5h.01M1205.7 1734.6h.01M1198.4 1733.0h.01M1186.0 1736.9h.01M1203.5 1647.4h.01M1205.4 1645.7h.01M1207.7 1644.5h.01M1211.6 1640.8h.01M1217.1 1636.3h.01M1221.1 1632.0h.01M1231.8 1624.2h.01M1239.0 1616.5h.01M1243.8 1610.9h.01M1259.1 1606.7h.01M1263.9 1606.0h.01M1265.6 1605.6h.01M1304.6 1588.8h.01M1309.1 1586.8h.01M1328.2 1579.9h.01M1330.0 1578.2h.01M1334.7 1575.3h.01M1339.8 1573.1h.01M1346.3 1569.0h.01M1364.4 1555.0h.01M1384.2 1542.6h.01M1386.2 1541.0h.01M1392.6 1535.5h.01M1405.0 1515.6h.01M1408.8 1506.6h.01M1409.5 1503.6h.01M1410.3 1501.4h.01M1413.5 1488.9h.01M1414.4 1486.2h.01M1415.8 1484.8h.01M1420.2 1481.3h.01M1427.8 1478.4h.01M1436.3 1472.6h.01M1441.3 1468.1h.01M1447.0 1458.9h.01M1449.9 1448.5h.01M1450.0 1438.4h.01M1450.0 1436.2h.01M1450.3 1433.6h.01M1453.9 1426.6h.01M1456.0 1425.3h.01M1462.6 1420.6h.01M1466.7 1418.5h.01M1473.0 1413.9h.01M1488.6 1410.0h.01M1217.8 1764.4h.01M1208.4 1779.9h.01M1196.4 1791.4h.01M1191.2 1794.3h.01M1484.8 1067.6h.01M1486.7 1069.4h.01M1493.8 1076.9h.01M1471.8 1418.7h.01M1479.1 1415.8h.01M1623.5 1182.5h.01M1625.0 1184.5h.01M1626.6 1186.6h.01M1628.2 1188.7h.01M1631.1 1193.0h.01M1651.9 1215.2h.01M1638.7 1185.8h.01M1647.3 1191.5h.01" stroke="#2797eb"/><path d="M1648.8 1184.2h.01M1655.6 1187.3h.01M1658.9 1226.5h.01M1665.2 1238.5h.01M1669.4 1243.9h.01M1690.0 1256.4h.01M1704.2 1261.4h.01M1730.8 1327.8h.01M1656.8 1454.5h.01M1655.6 1455.1h.01M1634.8 1467.7h.01M1607.1 1457.4h.01M1607.4 1454.6h.01M1606.0 1444.4h.01M1609.0 1432.5h.01M1609.8 1430.6h.01M1614.2 1423.2h.01M1617.1 1416.3h.01M1605.2 1377.3h.01M1603.1 1376.4h.01M1600.3 1375.2h.01M1590.3 1373.6h.01M1588.1 1371.7h.01M1570.6 1362.5h.01M1542.7 1349.2h.01M1576.0 1320.0h.01M1556.1 1465.8h.01M1558.8 1467.7h.01M1565.4 1474.5h.01M1568.0 1479.5h.01M1569.2 1481.1h.01M1563.3 1487.0h.01M1557.4 1494.6h.01M1549.3 1504.4h.01M1535.8 1516.8h.01M1519.5 1542.5h.01M1510.5 1551.5h.01M1508.2 1553.3h.01M1480.7 1574.5h.01M1484.7 1584.5h.01M1498.2 1588.3h.01M1503.3 1588.8h.01M1506.5 1592.5h.01M1508.0 1594.5h.01M1509.3 1597.1h.01M1507.7 1599.4h.01M1506.2 1601.5h.01M1500.2 1606.1h.01M1498.4 1606.7h.01M1477.0 1601.2h.01M1422.0 1618.1h.01M1408.0 1628.9h.01M1389.3 1674.9h.01M1200.4 1733.0h.01M1196.0 1732.5h.01M1193.3 1733.6h.01M1189.1 1735.6h.01M1183.4 1737.3h.01M1192.5 1655.1h.01M1194.8 1652.8h.01M1196.5 1651.5h.01M1198.9 1650.6h.01M1209.9 1642.6h.01M1213.5 1638.9h.01M1223.2 1630.7h.01M1343.4 1570.5h.01M1362.1 1556.7h.01M1380.0 1545.7h.01M1393.6 1533.0h.01M1412.2 1496.4h.01M1417.8 1483.5h.01M1422.2 1480.1h.01M1429.9 1478.0h.01M1433.8 1475.1h.01M1437.5 1471.2h.01M1440.2 1469.6h.01M1443.4 1465.5h.01M1446.7 1461.4h.01M1447.8 1456.0h.01M1448.1 1453.7h.01M1449.6 1451.3h.01M1449.7 1446.8h.01M1449.8 1444.0h.01M1449.3 1440.7h.01M1452.1 1429.1h.01M1459.9 1422.0h.01M1493.0 1410.7h.01M1488.5 1071.2h.01M1629.7 1190.8h.01M1628.5 1184.5h.01M1632.1 1188.1h.01M1634.0 1190.0h.01M1635.8 1191.8h.01M1642.6 1199.7h.01M1647.3 1205.9h.01M1648.7 1208.0h.01M1636.5 1184.5h.01M1652.7 1196.9h.01" stroke="#249ee6"/><path d="M1630.7 1180.0h.01M1638.6 1181.7h.01M1640.6 1182.0h.01M1643.0 1182.6h.01M1645.5 1183.9h.01M1650.8 1185.8h.01M1653.1 1186.2h.01M1658.8 1189.9h.01M1660.2 1195.1h.01M1657.9 1199.2h.01M1657.1 1204.2h.01M1654.7 1209.0h.01M1654.9 1213.9h.01M1656.5 1218.9h.01M1657.5 1221.8h.01M1658.4 1224.7h.01M1660.3 1232.0h.01M1662.7 1236.2h.01M1666.6 1240.6h.01M1667.8 1241.6h.01M1676.5 1248.9h.01M1678.3 1250.2h.01M1680.7 1251.3h.01M1682.2 1252.5h.01M1685.3 1254.5h.01M1687.4 1254.9h.01M1692.2 1256.9h.01M1694.8 1258.0h.01M1702.0 1260.7h.01M1707.1 1262.5h.01M1711.9 1265.2h.01M1713.5 1266.1h.01M1716.0 1266.3h.01M1726.7 1266.3h.01M1764.9 1318.2h.01M1753.9 1328.0h.01M1746.6 1325.6h.01M1726.6 1330.0h.01M1722.4 1332.0h.01M1720.3 1333.6h.01M1713.9 1342.0h.01M1712.0 1347.1h.01M1644.1 1462.5h.01M1641.6 1463.7h.01M1639.5 1465.9h.01M1637.2 1466.9h.01M1633.4 1468.9h.01M1630.7 1470.4h.01M1620.9 1471.1h.01M1618.8 1470.4h.01M1616.4 1469.9h.01M1613.9 1467.3h.01M1611.5 1465.8h.01M1610.3 1464.9h.01M1608.0 1462.3h.01M1607.2 1460.0h.01M1607.2 1452.4h.01M1606.5 1449.4h.01M1606.0 1447.4h.01M1559.6 1469.1h.01M1562.2 1471.2h.01M1563.5 1472.8h.01M1568.0 1482.7h.01M1565.3 1484.7h.01M1560.2 1490.0h.01M1558.2 1491.8h.01M1554.0 1498.0h.01M1552.7 1499.8h.01M1550.2 1501.9h.01M1547.7 1506.0h.01M1545.5 1507.8h.01M1543.8 1509.7h.01M1541.2 1511.3h.01M1505.1 1603.7h.01M1490.6 1605.4h.01M1190.8 1734.8h.01M1181.1 1738.6h.01M1176.8 1739.4h.01M1172.8 1671.8h.01M1174.3 1669.9h.01M1176.7 1667.6h.01M1178.8 1665.8h.01M1180.8 1664.4h.01M1182.0 1663.1h.01M1184.4 1660.3h.01M1186.2 1659.3h.01M1188.2 1657.4h.01M1190.2 1655.5h.01M1201.6 1648.0h.01M1425.1 1479.7h.01M1432.4 1476.8h.01M1637.5 1193.8h.01M1639.2 1195.7h.01M1640.9 1197.7h.01M1649.8 1210.4h.01M1650.8 1212.8h.01M1640.9 1187.2h.01M1643.1 1188.6h.01M1645.2 1190.0h.01M1649.4 1193.0h.01M1651.5 1194.6h.01M1653.8 1199.2h.01M1655.0 1201.6h.01M1646.4 1187.5h.01M1648.9 1188.4h.01M1651.3 1189.3h.01M1637.2 1163.8h.01" stroke="#1fa6e2"/><path d="M1624.3 1182.2h.01M1622.5 1179.9h.01M1625.5 1179.5h.01M1628.2 1180.5h.01M1632.8 1180.3h.01M1635.6 1181.1h.01M1660.3 1192.8h.01M1659.8 1197.2h.01M1656.7 1201.5h.01M1654.9 1211.7h.01M1655.6 1216.6h.01M1660.2 1229.3h.01M1662.1 1234.4h.01M1672.0 1245.8h.01M1674.2 1247.3h.01M1697.0 1258.6h.01M1699.5 1260.3h.01M1719.5 1265.9h.01M1721.9 1266.5h.01M1723.8 1267.2h.01M1731.4 1265.7h.01M1733.8 1265.7h.01M1741.0 1261.8h.01M1744.9 1258.2h.01M1750.5 1253.8h.01M1753.0 1251.7h.01M1755.1 1249.8h.01M1756.8 1247.6h.01M1760.4 1244.4h.01M1769.2 1309.3h.01M1769.8 1330.0h.01M1767.9 1337.3h.01M1764.1 1339.3h.01M1760.4 1334.9h.01M1758.2 1330.0h.01M1757.0 1329.3h.01M1752.0 1326.9h.01M1749.4 1326.9h.01M1744.3 1325.1h.01M1741.0 1326.2h.01M1738.3 1326.3h.01M1736.0 1327.1h.01M1728.6 1328.7h.01M1724.3 1330.4h.01M1717.8 1335.4h.01M1713.2 1343.8h.01M1710.1 1348.8h.01M1711.6 1351.7h.01M1715.3 1357.2h.01M1716.6 1358.9h.01M1718.7 1360.1h.01M1718.8 1362.5h.01M1716.8 1367.4h.01M1716.6 1370.3h.01M1711.2 1382.1h.01M1705.5 1391.3h.01M1692.5 1409.4h.01M1688.9 1413.0h.01M1687.0 1414.7h.01M1682.2 1418.1h.01M1676.9 1426.7h.01M1675.3 1429.2h.01M1673.9 1431.2h.01M1671.3 1435.8h.01M1669.4 1437.2h.01M1667.9 1439.9h.01M1666.7 1442.2h.01M1666.2 1444.1h.01M1665.0 1447.1h.01M1662.9 1448.5h.01M1661.5 1450.0h.01M1653.4 1457.6h.01M1651.3 1458.3h.01M1649.4 1459.9h.01M1646.6 1462.0h.01M1626.2 1471.7h.01M1623.2 1472.5h.01M1173.9 1739.2h.01M1170.9 1739.0h.01M1156.6 1691.0h.01M1157.5 1689.8h.01M1159.6 1686.9h.01M1167.9 1677.0h.01M1169.4 1675.4h.01M1170.8 1672.8h.01M1630.3 1186.3h.01M1644.2 1201.7h.01M1645.7 1203.8h.01M1653.7 1190.2h.01M1623.5 1154.5h.01M1634.0 1167.8h.01" stroke="#19addc"/><path d="M1655.6 1207.2h.01M1708.5 1263.7h.01M1729.2 1266.2h.01M1739.6 1263.3h.01M1743.0 1260.3h.01M1748.5 1254.8h.01M1758.9 1246.6h.01M1764.9 1242.6h.01M1779.6 1238.4h.01M1785.1 1295.7h.01M1775.9 1303.9h.01M1771.2 1307.1h.01M1767.1 1313.1h.01M1766.5 1315.0h.01M1764.9 1320.1h.01M1764.3 1322.6h.01M1764.0 1325.2h.01M1765.4 1327.1h.01M1766.9 1329.2h.01M1771.5 1331.9h.01M1770.0 1333.3h.01M1768.9 1336.0h.01M1766.6 1339.7h.01M1765.0 1341.9h.01M1762.0 1337.1h.01M1760.3 1332.4h.01M1733.4 1326.4h.01M1716.3 1337.3h.01M1714.4 1340.0h.01M1712.0 1354.0h.01M1712.3 1356.6h.01M1717.2 1365.1h.01M1715.2 1372.7h.01M1714.6 1374.6h.01M1713.4 1377.2h.01M1709.0 1386.4h.01M1706.8 1389.4h.01M1699.7 1396.5h.01M1698.6 1398.4h.01M1681.0 1420.7h.01M1679.7 1421.9h.01M1678.5 1424.2h.01M1671.9 1433.5h.01M1659.4 1452.6h.01M1628.4 1470.8h.01M1561.4 1488.8h.01M1554.7 1495.9h.01M1179.3 1740.1h.01M1168.7 1738.5h.01M1165.8 1739.0h.01M1163.6 1738.3h.01M1160.3 1738.4h.01M1158.1 1738.0h.01M1149.1 1699.4h.01M1151.6 1697.7h.01M1155.3 1693.1h.01M1161.2 1685.1h.01M1162.0 1682.4h.01M1163.7 1681.1h.01M1165.5 1679.2h.01M1628.5 1153.2h.01M1633.1 1155.1h.01M1635.4 1156.4h.01M1636.1 1158.9h.01M1636.9 1161.4h.01M1635.6 1165.8h.01M1632.0 1167.5h.01M1629.8 1166.0h.01M1627.7 1164.6h.01M1626.3 1162.4h.01M1626.2 1159.5h.01M1628.8 1159.5h.01" stroke="#0db3d3"/><path d="M1737.3 1264.4h.01M1746.7 1257.4h.01M1762.9 1243.4h.01M1767.6 1240.8h.01M1769.8 1239.9h.01M1771.9 1240.2h.01M1774.9 1239.0h.01M1782.2 1239.2h.01M1789.9 1241.0h.01M1799.5 1245.2h.01M1794.3 1255.7h.01M1794.0 1258.6h.01M1786.5 1293.1h.01M1784.2 1298.2h.01M1782.3 1299.6h.01M1777.8 1303.2h.01M1766.9 1310.1h.01M1712.3 1380.5h.01M1710.5 1385.1h.01M1703.7 1392.3h.01M1702.1 1395.0h.01M1697.9 1401.5h.01M1697.0 1403.9h.01M1695.0 1405.1h.01M1690.7 1411.1h.01M1684.3 1416.6h.01M1154.0 1735.8h.01M1142.6 1707.5h.01M1624.9 1160.2h.01" stroke="#01b8c9"/><path d="M1785.1 1240.5h.01M1787.5 1240.6h.01M1793.0 1241.8h.01M1794.9 1243.4h.01M1797.0 1244.0h.01M1802.1 1249.7h.01M1798.8 1253.6h.01M1792.3 1260.9h.01M1790.4 1263.2h.01M1789.0 1267.5h.01M1789.1 1270.6h.01M1787.5 1278.0h.01M1788.1 1280.8h.01M1787.8 1286.1h.01M1787.1 1288.6h.01M1786.9 1290.7h.01M1780.7 1301.2h.01M1773.4 1305.6h.01M1693.7 1407.0h.01M1155.9 1736.8h.01M1150.7 1735.0h.01M1149.0 1733.0h.01M1147.4 1731.3h.01M1145.3 1729.2h.01M1142.9 1725.4h.01M1140.6 1717.8h.01M1142.0 1714.9h.01M1142.2 1711.8h.01M1142.0 1709.5h.01M1144.9 1705.1h.01M1146.7 1703.2h.01M1148.2 1701.4h.01M1152.7 1695.3h.01M1626.0 1153.9h.01M1630.9 1153.8h.01" stroke="#08bcbf"/><path d="M1777.4 1238.5h.01M1801.6 1246.8h.01M1801.0 1250.7h.01M1797.4 1254.3h.01M1789.7 1265.8h.01M1788.4 1273.0h.01M1787.8 1275.1h.01M1787.1 1283.0h.01M1144.3 1726.7h.01M1142.4 1722.7h.01M1142.3 1720.2h.01" stroke="#1cc0b3"/></g>
<g fill="none" stroke-linecap="round"><path d="M1223.9 1788.2h.01" stroke="#2c8ef1" stroke-width="8"/><path d="M1231.9 1787.1h.01" stroke="#2c8ef1" stroke-width="8"/><path d="M1228.9 1787.0h.01" stroke="#2c8ef1" stroke-width="8"/><path d="M1235.4 1790.8h.01" stroke="#2c8ef1" stroke-width="8"/><path d="M1236.2 1789.4h.01" stroke="#2c8ef1" stroke-width="8"/><path d="M1231.9 1789.7h.01" stroke="#2c8ef1" stroke-width="8"/><path d="M1225.0 1790.7h.01" stroke="#2c8ef1" stroke-width="8"/><path d="M1222.9 1789.6h.01" stroke="#2c8ef1" stroke-width="8"/><path d="M1233.6 1790.5h.01" stroke="#2c8ef1" stroke-width="8"/><path d="M1227.8 1793.6h.01" stroke="#2c8ef1" stroke-width="8"/><path d="M1229.8 1789.0h.01" stroke="#2c8ef1" stroke-width="8"/><path d="M1230.4 1789.1h.01" stroke="#2c8ef1" stroke-width="8"/><path d="M1227.0 1789.5h.01" stroke="#2c8ef1" stroke-width="8"/><path d="M1237.8 1790.4h.01" stroke="#2c8ef1" stroke-width="8"/><path d="M1222.0 1791.0h.01" stroke="#1a1030" stroke-width="4.5"/><path d="M1202.9 1801.3h.01" stroke="#3e26a8" stroke-width="5.5"/><path d="M1206.3 1799.3h.01" stroke="#3e26a8" stroke-width="5.5"/><path d="M1210.1 1795.7h.01" stroke="#3e26a8" stroke-width="5.5"/><path d="M1214.6 1793.1h.01" stroke="#3e26a8" stroke-width="5.5"/><path d="M1221.3 1774.4h.01" stroke="#463bdd" stroke-width="6"/><path d="M1225.1 1778.2h.01" stroke="#4433cd" stroke-width="6"/><path d="M1228.3 1782.0h.01" stroke="#412dbb" stroke-width="5"/><path d="M1232.0 1785.5h.01" stroke="#463bdd" stroke-width="6"/><path d="M1235.3 1789.2h.01" stroke="#463bdd" stroke-width="6"/><path d="M1492.9 1073.1h.01" stroke="#412dbb" stroke-width="5"/><path d="M1490.1 1073.8h.01" stroke="#412dbb" stroke-width="5"/><path d="M1491.5 1072.1h.01" stroke="#412dbb" stroke-width="5"/><path d="M1490.1 1074.0h.01" stroke="#412dbb" stroke-width="5"/><path d="M1595.8 1146.1h.01" stroke="#3b72fe" stroke-width="9"/><path d="M1596.7 1147.4h.01" stroke="#3b72fe" stroke-width="9"/><path d="M1596.1 1142.0h.01" stroke="#3b72fe" stroke-width="9"/><path d="M1600.0 1148.1h.01" stroke="#3b72fe" stroke-width="9"/><path d="M1593.8 1150.9h.01" stroke="#3b72fe" stroke-width="9"/><path d="M1597.0 1147.6h.01" stroke="#3b72fe" stroke-width="9"/><path d="M1597.9 1152.8h.01" stroke="#3b72fe" stroke-width="9"/><path d="M1597.3 1152.4h.01" stroke="#3b72fe" stroke-width="9"/><path d="M1600.0 1145.0h.01" stroke="#3b72fe" stroke-width="9"/><path d="M1594.6 1150.5h.01" stroke="#3b72fe" stroke-width="9"/><path d="M1248.4 1758.5h.01" stroke="#412dbb" stroke-width="8"/><path d="M1254.5 1760.5h.01" stroke="#412dbb" stroke-width="8"/><path d="M1252.9 1756.2h.01" stroke="#412dbb" stroke-width="8"/><path d="M1255.6 1759.5h.01" stroke="#412dbb" stroke-width="8"/><path d="M1253.8 1759.8h.01" stroke="#412dbb" stroke-width="8"/><path d="M1248.9 1757.0h.01" stroke="#412dbb" stroke-width="8"/><path d="M1249.8 1761.3h.01" stroke="#412dbb" stroke-width="8"/><path d="M1249.7 1758.4h.01" stroke="#412dbb" stroke-width="8"/><path d="M1364.2 1719.7h.01" stroke="#463bdd" stroke-width="8"/><path d="M1365.4 1719.2h.01" stroke="#463bdd" stroke-width="8"/><path d="M1363.7 1716.4h.01" stroke="#463bdd" stroke-width="8"/><path d="M1364.9 1719.2h.01" stroke="#463bdd" stroke-width="8"/><path d="M1366.4 1718.6h.01" stroke="#463bdd" stroke-width="8"/><path d="M1360.1 1717.6h.01" stroke="#412dbb" stroke-width="5"/><path d="M1359.8 1715.7h.01" stroke="#412dbb" stroke-width="5"/><path d="M1359.9 1717.4h.01" stroke="#412dbb" stroke-width="5"/><path d="M1269.0 1613.8h.01" stroke="#412dbb" stroke-width="4"/><path d="M1268.7 1613.7h.01" stroke="#412dbb" stroke-width="4"/><path d="M1491.8 1420.6h.01" stroke="#fff" stroke-width="4"/><path d="M1491.5 1420.2h.01" stroke="#fff" stroke-width="4"/><path d="M1542.2 1453.1h.01" stroke="#3e26a8" stroke-width="6"/><path d="M1552.3 1455.7h.01" stroke="#3e26a8" stroke-width="6"/><path d="M1552.6 1456.5h.01" stroke="#3e26a8" stroke-width="6"/><path d="M1546.0 1456.3h.01" stroke="#3e26a8" stroke-width="6"/><path d="M1556.0 1454.7h.01" stroke="#3e26a8" stroke-width="6"/><path d="M1553.6 1454.4h.01" stroke="#3e26a8" stroke-width="6"/><path d="M1540.0 1454.8h.01" stroke="#3e26a8" stroke-width="6"/><path d="M1542.9 1454.9h.01" stroke="#3e26a8" stroke-width="6"/><path d="M1544.8 1455.2h.01" stroke="#3e26a8" stroke-width="6"/><path d="M1541.3 1456.4h.01" stroke="#3e26a8" stroke-width="6"/><path d="M1554.6 1454.2h.01" stroke="#3e26a8" stroke-width="6"/><path d="M1542.4 1454.7h.01" stroke="#3e26a8" stroke-width="6"/><path d="M1542.0 1453.0h.01" stroke="#3e26a8" stroke-width="6"/><path d="M1541.2 1449.5h.01" stroke="#3e26a8" stroke-width="6"/><path d="M1539.0 1454.2h.01" stroke="#3e26a8" stroke-width="6"/><path d="M1541.1 1449.7h.01" stroke="#3e26a8" stroke-width="6"/><path d="M1762.3 1331.0h.01" stroke="#412dbb" stroke-width="4"/><path d="M1762.0 1332.1h.01" stroke="#412dbb" stroke-width="4"/><path d="M1763.3 1332.2h.01" stroke="#412dbb" stroke-width="4"/><path d="M1771.7 1330.6h.01" stroke="#249ee6" stroke-width="6"/><path d="M1771.4 1333.2h.01" stroke="#249ee6" stroke-width="6"/><path d="M1584.8 1311.6h.01" stroke="#412dbb" stroke-width="4"/><path d="M1588.4 1312.0h.01" stroke="#412dbb" stroke-width="4"/><path d="M1586.2 1312.4h.01" stroke="#412dbb" stroke-width="4"/><path d="M1559.8 1482.5h.01" stroke="#412dbb" stroke-width="4"/><path d="M1560.8 1481.8h.01" stroke="#412dbb" stroke-width="4"/><path d="M1561.0 1482.9h.01" stroke="#412dbb" stroke-width="4"/><path d="M1607.0 1444.4h.01" stroke="#412dbb" stroke-width="4"/><path d="M1606.6 1447.7h.01" stroke="#412dbb" stroke-width="4"/></g>
<g fill="none" stroke-width="2.3"><circle cx="1219.6" cy="1753.6" r="3.8" stroke="#2d8cf3"/><circle cx="1480.0" cy="1601.0" r="5.0" stroke="#4330c5" fill="#259be7"/><circle cx="1400.3" cy="1642.5" r="4.2" stroke="#4330c5"/><circle cx="1269.2" cy="1757.8" r="4.9" stroke="#4330c5"/><circle cx="1280.7" cy="1762.7" r="4.6" stroke="#4330c5"/><circle cx="1289.0" cy="1761.6" r="4.6" stroke="#4330c5"/><circle cx="1377.0" cy="1547.1" r="3.0" stroke="#4330c5"/><circle cx="1371.0" cy="1549.1" r="3.0" stroke="#4330c5"/><circle cx="1353.2" cy="1559.1" r="3.0" stroke="#4330c5"/></g>
<circle cx="1451.2" cy="1048.2" r="4.9" fill="#fff" stroke="#406dfe" stroke-width="2.9"/><circle cx="1451.2" cy="1048.2" r="1.9" fill="#1a1030"/><circle cx="1593.2" cy="1121.8" r="4.9" fill="#fff" stroke="#406dfe" stroke-width="2.9"/><circle cx="1593.2" cy="1121.8" r="1.9" fill="#1a1030"/><circle cx="1613.5" cy="1148.1" r="4.9" fill="#fff" stroke="#406dfe" stroke-width="2.9"/><circle cx="1613.5" cy="1148.1" r="1.9" fill="#1a1030"/><circle cx="1611.3" cy="1163.6" r="4.9" fill="#fff" stroke="#406dfe" stroke-width="2.9"/><circle cx="1611.3" cy="1163.6" r="1.9" fill="#1a1030"/><circle cx="1649.0" cy="1177.5" r="4.9" fill="#fff" stroke="#406dfe" stroke-width="2.9"/><circle cx="1649.0" cy="1177.5" r="1.9" fill="#1a1030"/><circle cx="1666.1" cy="1207.8" r="4.9" fill="#fff" stroke="#406dfe" stroke-width="2.9"/><circle cx="1666.1" cy="1207.8" r="1.9" fill="#1a1030"/><circle cx="1675.0" cy="1226.3" r="4.9" fill="#fff" stroke="#406dfe" stroke-width="2.9"/><circle cx="1675.0" cy="1226.3" r="1.9" fill="#1a1030"/><circle cx="1684.7" cy="1244.9" r="4.9" fill="#fff" stroke="#406dfe" stroke-width="2.9"/><circle cx="1684.7" cy="1244.9" r="1.9" fill="#1a1030"/><circle cx="1725.6" cy="1239.5" r="4.9" fill="#fff" stroke="#406dfe" stroke-width="2.9"/><circle cx="1725.6" cy="1239.5" r="1.9" fill="#1a1030"/><circle cx="1714.0" cy="1258.8" r="4.9" fill="#fff" stroke="#406dfe" stroke-width="2.9"/><circle cx="1714.0" cy="1258.8" r="1.9" fill="#1a1030"/><circle cx="1167.8" cy="1758.0" r="4.9" fill="#fff" stroke="#406dfe" stroke-width="2.9"/><circle cx="1167.8" cy="1758.0" r="1.9" fill="#1a1030"/>
<rect x="1581.0" y="1191.6" width="26.4" height="26.4" fill="#fff"/><rect x="1585.1" y="1195.7" width="18.2" height="18.2" fill="#000"/><rect x="1578.9" y="1444.4" width="26.4" height="26.4" fill="#fff"/><rect x="1583.0" y="1448.5" width="18.2" height="18.2" fill="#000"/><rect x="1463.2" y="1569.1" width="26.4" height="26.4" fill="#fff"/><rect x="1467.3" y="1573.2" width="18.2" height="18.2" fill="#000"/>
<rect x="1064.0" y="1039.5" width="813.3" height="799.0" fill="none" stroke="#000" stroke-width="2"/><path d="M1335.7 1039.5v8M1335.7 1838.5v-8M1607.5 1039.5v8M1607.5 1838.5v-8M1064.0 1095.2h8.5M1877.3 1095.2h-8.5M1064.0 1380.6h8.5M1877.3 1380.6h-8.5M1064.0 1669.0h8.5M1877.3 1669.0h-8.5" stroke="#000" stroke-width="2" fill="none"/>
<text x="1066.2" y="1904.8" text-anchor="middle" class="t">165</text><text x="1337.9" y="1904.8" text-anchor="middle" class="t">170</text><text x="1609.7" y="1904.8" text-anchor="middle" class="t">175</text><text x="1879.5" y="1904.8" text-anchor="middle" class="t">180</text><text x="1044.6" y="1114.2" text-anchor="end" class="t">-35</text><text x="1044.6" y="1399.6" text-anchor="end" class="t">-40</text><text x="1044.6" y="1688.0" text-anchor="end" class="t">-45</text><text x="979.6" y="1066.3" class="L">D</text><text x="1472.7" y="1017.5" text-anchor="middle" class="T">100-year return period</text>
</g>
<linearGradient id="cb1" x1="0" y1="0" x2="0" y2="1"><stop offset="0.0000" stop-color="#f9fb15"/><stop offset="0.0312" stop-color="#f6ef20"/><stop offset="0.0625" stop-color="#f5e327"/><stop offset="0.0938" stop-color="#f9d62d"/><stop offset="0.1250" stop-color="#feca33"/><stop offset="0.1562" stop-color="#febe3c"/><stop offset="0.1875" stop-color="#f1ba37"/><stop offset="0.2188" stop-color="#debc2a"/><stop offset="0.2500" stop-color="#c8c129"/><stop offset="0.2812" stop-color="#afc637"/><stop offset="0.3125" stop-color="#94ca4a"/><stop offset="0.3438" stop-color="#77cc60"/><stop offset="0.3750" stop-color="#5ccc76"/><stop offset="0.4062" stop-color="#44ca8a"/><stop offset="0.4375" stop-color="#34c79c"/><stop offset="0.4688" stop-color="#28c2ab"/><stop offset="0.5000" stop-color="#12beb9"/><stop offset="0.5312" stop-color="#01b9c6"/><stop offset="0.5625" stop-color="#0cb3d3"/><stop offset="0.5938" stop-color="#1aacdd"/><stop offset="0.6250" stop-color="#21a3e3"/><stop offset="0.6562" stop-color="#269ae9"/><stop offset="0.6875" stop-color="#2c90f0"/><stop offset="0.7188" stop-color="#2e85f8"/><stop offset="0.7500" stop-color="#347afd"/><stop offset="0.7812" stop-color="#3f6efe"/><stop offset="0.8125" stop-color="#4562fc"/><stop offset="0.8438" stop-color="#4757f7"/><stop offset="0.8750" stop-color="#484cef"/><stop offset="0.9062" stop-color="#4741e5"/><stop offset="0.9375" stop-color="#4536d5"/><stop offset="0.9688" stop-color="#422ebf"/><stop offset="1.0000" stop-color="#3e26a8"/></linearGradient><rect x="1955.2" y="62.9" width="53.8" height="799.8" fill="url(#cb1)" stroke="#000" stroke-width="1.6"/><path d="M2009.0 342.4h-3.2M2009.0 272.0h-3.2M2009.0 222.0h-3.2M2009.0 183.3h-3.2M2009.0 151.6h-3.2M2009.0 124.8h-3.2M2009.0 101.7h-3.2M2009.0 81.2h-3.2M2009.0 742.3h-3.2M2009.0 671.9h-3.2M2009.0 621.9h-3.2M2009.0 583.2h-3.2M2009.0 551.5h-3.2M2009.0 524.7h-3.2M2009.0 501.6h-3.2M2009.0 481.1h-3.2M2009.0 462.8h-7" stroke="#000" stroke-width="1.6" fill="none"/><text x="2027.5" y="79.7" class="t">10</text><text x="2027.5" y="481.1" class="t">1</text><text x="2027.5" y="882.2" class="t">0.1</text><text transform="translate(2112.6 443.1) rotate(-90)" text-anchor="middle" class="t">Wave height (m)</text>
<linearGradient id="cb2" x1="0" y1="0" x2="0" y2="1"><stop offset="0.0000" stop-color="#f9fb15"/><stop offset="0.0312" stop-color="#f6ef20"/><stop offset="0.0625" stop-color="#f5e327"/><stop offset="0.0938" stop-color="#f9d62d"/><stop offset="0.1250" stop-color="#feca33"/><stop offset="0.1562" stop-color="#febe3c"/><stop offset="0.1875" stop-color="#f1ba37"/><stop offset="0.2188" stop-color="#debc2a"/><stop offset="0.2500" stop-color="#c8c129"/><stop offset="0.2812" stop-color="#afc637"/><stop offset="0.3125" stop-color="#94ca4a"/><stop offset="0.3438" stop-color="#77cc60"/><stop offset="0.3750" stop-color="#5ccc76"/><stop offset="0.4062" stop-color="#44ca8a"/><stop offset="0.4375" stop-color="#34c79c"/><stop offset="0.4688" stop-color="#28c2ab"/><stop offset="0.5000" stop-color="#12beb9"/><stop offset="0.5312" stop-color="#01b9c6"/><stop offset="0.5625" stop-color="#0cb3d3"/><stop offset="0.5938" stop-color="#1aacdd"/><stop offset="0.6250" stop-color="#21a3e3"/><stop offset="0.6562" stop-color="#269ae9"/><stop offset="0.6875" stop-color="#2c90f0"/><stop offset="0.7188" stop-color="#2e85f8"/><stop offset="0.7500" stop-color="#347afd"/><stop offset="0.7812" stop-color="#3f6efe"/><stop offset="0.8125" stop-color="#4562fc"/><stop offset="0.8438" stop-color="#4757f7"/><stop offset="0.8750" stop-color="#484cef"/><stop offset="0.9062" stop-color="#4741e5"/><stop offset="0.9375" stop-color="#4536d5"/><stop offset="0.9688" stop-color="#422ebf"/><stop offset="1.0000" stop-color="#3e26a8"/></linearGradient><rect x="1955.2" y="1039.5" width="53.8" height="799.0" fill="url(#cb2)" stroke="#000" stroke-width="1.6"/><path d="M2009.0 1318.7h-3.2M2009.0 1248.4h-3.2M2009.0 1198.5h-3.2M2009.0 1159.8h-3.2M2009.0 1128.1h-3.2M2009.0 1101.4h-3.2M2009.0 1078.2h-3.2M2009.0 1057.8h-3.2M2009.0 1718.2h-3.2M2009.0 1647.9h-3.2M2009.0 1598.0h-3.2M2009.0 1559.3h-3.2M2009.0 1527.6h-3.2M2009.0 1500.9h-3.2M2009.0 1477.7h-3.2M2009.0 1457.3h-3.2M2009.0 1439.0h-7" stroke="#000" stroke-width="1.6" fill="none"/><text x="2027.5" y="1056.3" class="t">10</text><text x="2027.5" y="1457.3" class="t">1</text><text x="2027.5" y="1858.0" class="t">0.1</text><text transform="translate(2112.6 1419.7) rotate(-90)" text-anchor="middle" class="t">Wave height (m)</text>
</svg></body></html>
